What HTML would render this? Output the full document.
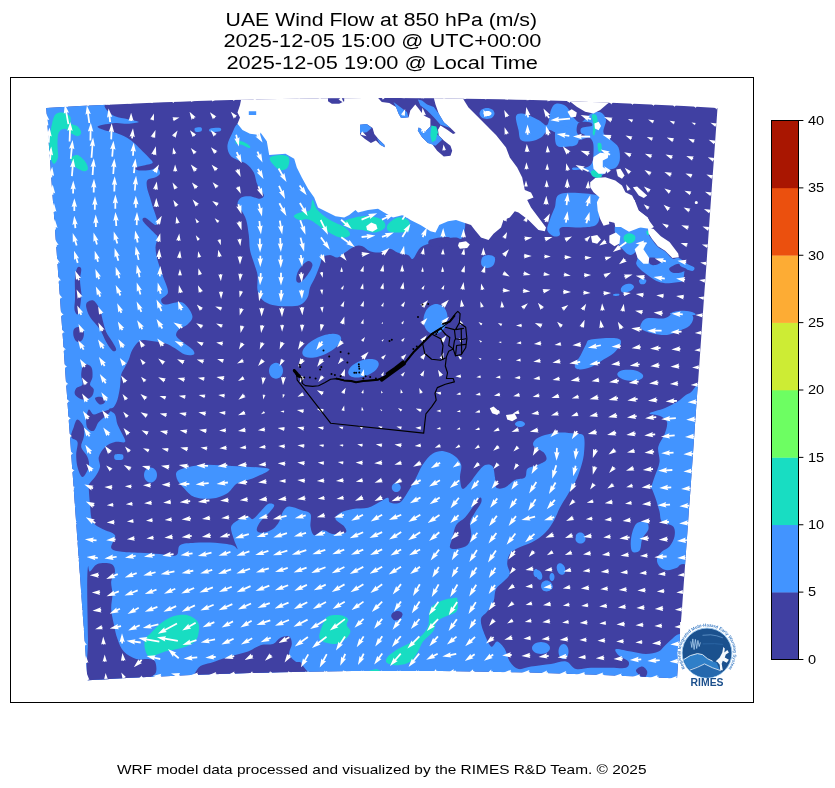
<!DOCTYPE html>
<html><head><meta charset="utf-8"><title>UAE Wind Flow at 850 hPa</title><style>
html,body{margin:0;padding:0;background:#fff;}
#wrap{position:relative;width:835px;height:788px;overflow:hidden;background:#fff;font-family:"Liberation Sans",sans-serif;color:#000;}
svg{position:absolute;left:0;top:0;}
.t{position:absolute;white-space:nowrap;line-height:1;transform-origin:0 0;}
</style></head><body><div id="wrap">
<svg width="835" height="788" viewBox="0 0 835 788">
<defs><clipPath id="dom"><path d="M46.2 108.0L63.0 107.0L79.8 106.1L96.6 105.3L113.4 104.4L130.2 103.7L146.9 103.0L163.7 102.3L180.5 101.7L197.3 101.1L214.1 100.6L230.8 100.1L247.6 99.7L264.4 99.3L281.2 99.0L298.0 98.7L314.8 98.5L331.5 98.3L348.3 98.2L365.1 98.1L381.9 98.1L398.7 98.1L415.4 98.2L432.2 98.3L449.0 98.5L465.8 98.7L482.6 99.0L499.3 99.3L516.1 99.7L532.9 100.1L549.7 100.6L566.5 101.1L583.2 101.7L600.0 102.3L616.8 103.0L633.6 103.7L650.4 104.4L667.2 105.3L683.9 106.1L700.7 107.0L717.5 108.0L716.5 122.3L715.5 136.5L714.5 150.8L713.5 165.1L712.4 179.3L711.4 193.6L710.4 207.8L709.4 222.1L708.4 236.4L707.4 250.6L706.4 264.9L705.4 279.1L704.3 293.4L703.3 307.7L702.3 321.9L701.3 336.2L700.3 350.5L699.3 364.7L698.3 379.0L697.2 393.2L696.2 407.5L695.2 421.8L694.2 436.0L693.2 450.3L692.2 464.6L691.2 478.8L690.2 493.1L689.1 507.3L688.1 521.6L687.1 535.9L686.1 550.1L685.1 564.4L684.1 578.7L683.1 592.9L682.1 607.2L681.0 621.5L680.0 635.7L679.0 650.0L678.0 664.2L677.0 678.5L662.3 677.7L647.5 677.0L632.8 676.3L618.1 675.7L603.3 675.0L588.6 674.5L573.8 674.0L559.1 673.5L544.4 673.0L529.6 672.6L514.9 672.3L500.1 672.0L485.4 671.7L470.7 671.5L455.9 671.3L441.2 671.1L426.5 671.0L411.7 671.0L397.0 671.0L382.2 671.0L367.5 671.0L352.8 671.1L338.0 671.3L323.3 671.5L308.6 671.7L293.8 672.0L279.1 672.3L264.4 672.7L249.6 673.1L234.9 673.5L220.1 674.0L205.4 674.5L190.7 675.1L175.9 675.7L161.2 676.4L146.4 677.1L131.7 677.8L117.0 678.6L102.2 679.4L87.5 680.2L86.5 665.9L85.4 651.6L84.4 637.3L83.4 623.0L82.3 608.7L81.3 594.4L80.3 580.1L79.2 565.8L78.2 551.5L77.2 537.2L76.2 522.9L75.1 508.6L74.1 494.3L73.1 480.0L72.0 465.7L71.0 451.3L70.0 437.0L68.9 422.7L67.9 408.4L66.9 394.1L65.8 379.8L64.8 365.5L63.8 351.2L62.8 336.9L61.7 322.6L60.7 308.3L59.7 294.0L58.6 279.7L57.6 265.4L56.6 251.1L55.5 236.8L54.5 222.4L53.5 208.1L52.4 193.8L51.4 179.5L50.4 165.2L49.3 150.9L48.3 136.6L47.3 122.3Z"/></clipPath></defs>
<g clip-path="url(#dom)">
<rect x="30" y="80" width="700" height="620" fill="#4040a2"/>
<path d="M30.0 80.0C27.7 -20.0 33.6 96.7 46.0 100.0C58.4 103.3 94.8 99.0 104.5 100.0C114.2 101.0 103.9 104.4 104.5 106.2C105.1 108.1 106.2 109.6 108.0 111.2C109.8 112.9 111.7 114.9 115.0 116.2C118.3 117.6 124.0 118.3 128.0 119.2C132.0 120.2 138.8 121.2 138.8 122.0C138.7 122.8 131.5 123.6 127.5 123.8C123.5 123.9 119.9 122.6 115.0 123.0C110.1 123.4 99.9 125.1 98.0 126.2C96.1 127.4 100.9 129.0 103.8 130.0C106.6 131.0 111.0 131.2 115.0 132.5C119.0 133.8 124.2 136.1 127.5 138.0C130.8 139.9 132.5 141.5 135.0 143.8C137.5 146.0 140.1 148.9 142.5 151.2C144.9 153.6 147.6 156.0 149.2 158.0C150.9 160.0 153.6 161.7 152.5 163.0C151.4 164.3 145.4 164.9 142.5 165.8C139.6 166.6 135.6 167.2 135.0 168.0C134.4 168.8 136.2 170.2 138.8 170.5C141.2 170.8 146.9 170.4 150.0 170.0C153.1 169.6 155.8 167.6 157.5 168.2C159.2 168.9 160.4 172.2 160.0 173.8C159.6 175.3 157.1 176.5 155.0 177.5C152.9 178.5 148.8 178.3 147.5 180.0C146.2 181.7 146.6 184.6 147.0 187.5C147.4 190.4 149.0 194.2 150.0 197.5C151.0 200.8 151.8 203.8 153.0 207.5C154.2 211.2 156.6 217.1 157.0 220.0C157.4 222.9 157.3 225.3 155.5 225.0C153.7 224.7 148.4 219.2 146.2 218.2C144.1 217.3 142.7 218.3 142.5 219.2C142.3 220.2 142.9 221.3 145.0 223.8C147.1 226.2 152.9 231.5 155.0 233.8C157.1 236.0 157.4 235.2 157.5 237.5C157.6 239.8 155.5 243.8 155.5 247.5C155.5 251.2 156.3 255.4 157.5 260.0C158.7 264.6 160.8 269.7 162.5 275.0C164.2 280.3 168.2 287.9 168.0 292.0C167.8 296.1 161.8 297.4 161.2 299.5C160.8 301.6 161.9 304.1 165.0 304.5C168.1 304.9 176.2 301.6 180.0 302.0C183.8 302.4 185.4 304.5 187.5 307.0C189.6 309.5 192.5 314.1 192.5 317.0C192.5 319.9 189.8 322.4 187.5 324.5C185.2 326.6 180.6 327.6 178.8 329.5C176.9 331.4 175.6 333.7 176.2 335.8C176.9 337.8 179.8 339.7 182.5 342.0C185.2 344.3 190.6 347.4 192.5 349.5C194.4 351.6 195.0 353.7 193.8 354.5C192.5 355.3 188.1 355.5 185.0 354.5C181.9 353.5 178.3 350.1 175.0 348.2C171.7 346.4 169.2 344.5 165.0 343.2C160.8 342.0 154.2 341.2 150.0 340.8C145.8 340.3 142.9 339.3 140.0 340.8C137.1 342.2 134.4 346.4 132.5 349.5C130.6 352.6 130.0 356.6 128.8 359.5C127.5 362.4 126.2 364.5 125.0 367.0C123.8 369.5 122.1 371.2 121.2 374.5C120.4 377.8 120.6 382.8 120.0 387.0C119.4 391.2 118.5 396.2 117.5 399.5C116.5 402.8 115.2 405.3 113.8 407.0C112.3 408.7 108.5 408.2 108.8 409.5C109.0 410.8 113.5 412.0 115.0 414.5C116.5 417.0 116.2 421.2 117.5 424.5C118.8 427.8 121.2 431.6 122.5 434.5C123.8 437.4 126.2 440.8 125.0 442.0C123.8 443.2 118.3 441.2 115.0 442.0C111.7 442.8 107.7 444.5 105.0 447.0C102.3 449.5 99.6 453.7 98.8 457.0C97.9 460.3 100.6 463.7 100.0 467.0C99.4 470.3 96.9 474.1 95.0 477.0C93.1 479.9 89.8 482.5 88.8 484.5C87.7 486.5 88.5 485.8 88.8 489.0C89.0 492.2 89.4 498.6 90.0 504.0C90.6 509.4 90.4 517.3 92.5 521.5C94.6 525.7 98.8 526.7 102.5 529.0C106.2 531.3 113.5 532.1 115.0 535.2C116.5 538.4 110.4 545.0 111.2 547.8C112.1 550.5 115.2 550.7 120.0 551.5C124.8 552.3 133.3 552.3 140.0 552.8C146.7 553.2 154.0 553.6 160.0 554.0C166.0 554.4 172.9 556.7 176.2 555.2C179.6 553.8 176.9 547.3 180.0 545.2C183.1 543.2 189.2 543.2 195.0 542.8C200.8 542.3 208.8 542.3 215.0 542.8C221.2 543.2 228.8 544.2 232.5 545.2C236.2 546.3 237.3 550.0 237.5 549.0C237.7 548.0 234.8 542.8 233.8 539.0C232.7 535.2 230.2 529.8 231.2 526.5C232.3 523.2 237.2 520.7 240.0 519.0C242.8 517.3 245.8 516.5 248.0 516.5C250.2 516.5 250.9 519.8 253.0 519.0C255.1 518.2 258.0 514.0 260.5 511.5C263.0 509.0 265.7 505.0 268.0 504.0C270.3 503.0 274.0 503.8 274.2 505.2C274.5 506.7 271.5 510.0 269.2 512.8C267.0 515.5 262.6 518.6 260.5 521.5C258.4 524.4 256.3 528.4 256.8 530.2C257.2 532.1 260.3 533.0 263.0 532.8C265.7 532.5 270.3 530.9 273.0 529.0C275.7 527.1 277.6 524.4 279.2 521.5C280.9 518.6 281.3 514.0 283.0 511.5C284.7 509.0 286.1 506.7 289.2 506.5C292.4 506.3 298.2 509.0 301.8 510.2C305.3 511.5 309.0 511.3 310.5 514.0C312.0 516.7 309.9 523.0 310.5 526.5C311.1 530.0 312.2 534.6 314.2 535.2C316.3 535.9 319.9 530.5 323.0 530.2C326.1 530.0 329.2 533.6 333.0 534.0C336.8 534.4 343.6 534.0 345.5 532.8C347.4 531.5 345.9 528.8 344.2 526.5C342.6 524.2 336.1 521.3 335.5 519.0C334.9 516.7 337.6 514.4 340.5 512.8C343.4 511.1 348.4 509.8 353.0 509.0C357.6 508.2 363.4 509.0 368.0 507.8C372.6 506.5 377.2 503.2 380.5 501.5C383.8 499.8 386.4 497.6 388.0 497.8C389.6 497.9 388.0 501.7 390.0 502.5C392.0 503.3 397.1 504.2 400.0 502.5C402.9 500.8 405.0 496.2 407.5 492.5C410.0 488.8 412.5 484.6 415.0 480.0C417.5 475.4 419.6 469.4 422.5 465.0C425.4 460.6 429.0 456.0 432.5 453.8C436.0 451.5 440.0 450.8 443.8 451.2C447.5 451.7 452.1 454.0 455.0 456.2C457.9 458.5 460.4 461.5 461.2 465.0C462.1 468.5 459.8 473.5 460.0 477.5C460.2 481.5 460.8 487.9 462.5 488.8C464.2 489.6 467.5 485.2 470.0 482.5C472.5 479.8 475.0 475.4 477.5 472.5C480.0 469.6 482.5 466.0 485.0 465.0C487.5 464.0 490.8 464.2 492.5 466.2C494.2 468.3 494.4 474.0 495.0 477.5C495.6 481.0 494.6 485.8 496.2 487.5C497.9 489.2 501.9 488.8 505.0 487.5C508.1 486.2 511.7 481.7 515.0 480.0C518.3 478.3 522.9 479.4 525.0 477.5C527.1 475.6 525.4 470.8 527.5 468.8C529.6 466.7 534.4 466.5 537.5 465.0C540.6 463.5 545.2 462.1 546.2 460.0C547.3 457.9 545.8 454.8 543.8 452.5C541.7 450.2 535.2 448.3 533.8 446.2C532.3 444.2 533.1 441.9 535.0 440.0C536.9 438.1 540.8 436.2 545.0 435.0C549.2 433.8 555.0 432.7 560.0 432.5C565.0 432.3 571.0 433.1 575.0 433.8C579.0 434.4 582.3 432.7 583.8 436.2C585.2 439.8 584.4 449.4 583.8 455.0C583.1 460.6 581.5 465.4 580.0 470.0C578.5 474.6 577.1 478.3 575.0 482.5C572.9 486.7 570.0 490.8 567.5 495.0C565.0 499.2 562.1 503.5 560.0 507.5C557.9 511.5 556.7 515.4 554.8 519.0C552.8 522.6 550.8 526.1 548.5 529.0C546.2 531.9 543.9 534.2 541.0 536.5C538.1 538.8 534.8 540.9 531.0 542.8C527.2 544.6 522.0 545.9 518.5 547.8C515.0 549.6 511.6 551.3 509.8 554.0C507.9 556.7 507.2 560.7 507.2 564.0C507.2 567.3 510.4 571.1 509.8 574.0C509.1 576.9 505.8 579.0 503.5 581.5C501.2 584.0 497.7 585.7 496.0 589.0C494.3 592.3 495.0 597.8 493.5 601.5C492.0 605.2 489.3 608.6 487.2 611.5C485.2 614.4 481.6 615.7 481.0 619.0C480.4 622.3 481.8 626.9 483.5 631.5C485.2 636.1 488.7 644.8 491.0 646.5C493.3 648.2 495.0 641.1 497.2 641.5C499.5 641.9 502.7 645.7 504.8 649.0C506.8 652.3 507.5 658.2 509.8 661.5C512.0 664.8 515.0 668.2 518.5 669.0C522.0 669.8 525.6 667.3 531.0 666.5C536.4 665.7 545.2 664.8 551.0 664.0C556.8 663.2 561.8 660.7 566.0 661.5C570.2 662.3 571.8 668.0 576.0 669.0C580.2 670.0 585.2 668.0 591.0 667.8C596.8 667.5 605.2 667.8 611.0 667.8C616.8 667.8 623.1 668.8 626.0 667.8C628.9 666.7 629.8 663.6 628.5 661.5C627.2 659.4 620.6 657.3 618.5 655.2C616.4 653.2 613.9 649.6 616.0 649.0C618.1 648.4 626.0 650.7 631.0 651.5C636.0 652.3 641.4 654.0 646.0 654.0C650.6 654.0 655.5 652.8 658.5 651.5C661.5 650.2 661.8 648.6 664.0 646.5C666.2 644.4 669.4 641.1 672.0 639.0C674.6 636.9 674.8 635.5 679.5 634.0C684.2 632.5 696.6 619.0 700.0 630.0C703.4 641.0 806.7 688.3 700.0 700.0C593.3 711.7 171.7 803.3 60.0 700.0C-51.7 596.7 32.3 180.0 30.0 80.0Z" fill="#4294ff"/>
<path d="M709.5 390.8C706.2 362.5 694.9 391.4 689.5 393.2C684.1 395.1 681.2 399.5 677.0 402.0C672.8 404.5 669.1 406.4 664.5 408.2C659.9 410.1 650.3 412.0 649.5 413.2C648.7 414.5 656.6 414.3 659.5 415.8C662.4 417.2 666.2 418.9 667.0 422.0C667.8 425.1 666.0 430.3 664.5 434.5C663.0 438.7 659.1 442.4 658.2 447.0C657.4 451.6 660.1 457.0 659.5 462.0C658.9 467.0 656.0 472.5 654.5 477.0C653.0 481.5 651.2 487.0 650.8 489.0C650.3 491.0 651.2 487.3 652.0 489.0C652.8 490.7 654.5 495.2 655.8 499.0C657.0 502.8 658.5 507.8 659.5 511.5C660.5 515.2 659.7 519.0 662.0 521.5C664.3 524.0 671.2 524.0 673.2 526.5C675.3 529.0 675.1 533.2 674.5 536.5C673.9 539.8 671.6 544.0 669.5 546.5C667.4 549.0 664.1 549.4 662.0 551.5C659.9 553.6 657.4 556.5 657.0 559.0C656.6 561.5 657.8 564.6 659.5 566.5C661.2 568.4 664.1 570.0 667.0 570.2C669.9 570.5 674.3 568.8 677.0 567.8C679.7 566.7 677.8 564.8 683.2 564.0C688.7 563.2 705.1 591.6 709.5 562.8C713.9 533.9 712.8 419.0 709.5 390.8Z" fill="#4294ff"/>
<path d="M237.5 123.8C234.6 126.2 234.2 129.0 232.5 132.5C230.8 136.0 227.9 141.2 227.5 145.0C227.1 148.8 228.3 152.5 230.0 155.0C231.7 157.5 234.8 158.5 237.5 160.0C240.2 161.5 243.5 161.7 246.2 163.8C249.0 165.8 251.9 169.0 253.8 172.5C255.6 176.0 255.8 181.2 257.5 185.0C259.2 188.8 263.3 192.7 263.8 195.0C264.2 197.3 262.3 198.5 260.0 198.8C257.7 199.0 253.1 196.5 250.0 196.2C246.9 196.0 243.3 196.2 241.2 197.5C239.2 198.8 237.5 201.7 237.5 203.8C237.5 205.8 239.8 207.3 241.2 210.0C242.7 212.7 245.0 215.8 246.2 220.0C247.5 224.2 248.1 230.0 248.8 235.0C249.4 240.0 249.2 245.4 250.0 250.0C250.8 254.6 252.5 258.3 253.8 262.5C255.0 266.7 256.9 270.4 257.5 275.0C258.1 279.6 256.7 285.8 257.5 290.0C258.3 294.2 260.0 297.5 262.5 300.0C265.0 302.5 268.8 304.0 272.5 305.0C276.2 306.0 280.4 306.2 285.0 306.2C289.6 306.2 296.2 306.5 300.0 305.0C303.8 303.5 305.8 300.4 307.5 297.5C309.2 294.6 308.8 290.8 310.0 287.5C311.2 284.2 313.3 281.2 315.0 277.5C316.7 273.8 318.8 268.3 320.0 265.0C321.2 261.7 320.8 259.2 322.5 257.5C324.2 255.8 327.5 255.0 330.0 255.0C332.5 255.0 335.0 257.9 337.5 257.5C340.0 257.1 342.1 254.4 345.0 252.5C347.9 250.6 352.1 247.3 355.0 246.2C357.9 245.2 360.0 245.4 362.5 246.2C365.0 247.1 367.1 250.2 370.0 251.2C372.9 252.3 376.7 252.9 380.0 252.5C383.3 252.1 387.1 248.8 390.0 248.8C392.9 248.8 394.5 251.5 397.5 252.5C400.5 253.5 405.4 254.0 408.0 255.0C410.6 256.0 410.9 260.0 413.0 258.8C415.1 257.5 417.2 250.2 420.5 247.5C423.8 244.8 428.8 244.0 433.0 242.5C437.2 241.0 441.7 239.6 445.5 238.8C449.3 237.9 453.2 237.6 456.0 237.5C458.8 237.4 460.5 240.6 462.0 238.0C463.5 235.4 466.0 226.7 465.0 222.0C464.0 217.3 466.8 215.3 456.0 210.0C445.2 204.7 426.0 201.7 400.0 190.0C374.0 178.3 325.0 152.0 300.0 140.0C275.0 128.0 260.4 120.7 250.0 118.0C239.6 115.3 240.4 121.3 237.5 123.8Z" fill="#4294ff"/>
<path d="M195.0 128.0C196.0 127.3 200.2 127.0 201.2 127.5C202.3 128.0 202.2 130.5 201.2 131.2C200.3 132.0 196.5 132.3 195.5 131.8C194.5 131.2 194.0 128.7 195.0 128.0Z" fill="#4294ff"/>
<path d="M210.0 128.8C211.6 128.1 218.3 127.6 220.0 128.0C221.7 128.4 221.6 130.6 220.0 131.2C218.4 131.9 212.2 132.2 210.5 131.8C208.8 131.3 208.4 129.4 210.0 128.8Z" fill="#4294ff"/>
<path d="M115.0 454.5C116.2 453.7 121.2 453.7 122.5 454.5C123.8 455.3 123.8 458.7 122.5 459.5C121.2 460.3 116.2 460.3 115.0 459.5C113.8 458.7 113.8 455.3 115.0 454.5Z" fill="#4294ff"/>
<path d="M340.8 336.9C341.3 337.9 341.3 339.3 340.8 340.7C340.3 342.1 339.3 343.7 337.9 345.2C336.5 346.8 334.6 348.4 332.5 349.9C330.5 351.3 328.0 352.8 325.6 353.9C323.1 355.0 320.4 356.0 318.0 356.7C315.6 357.3 313.0 357.7 311.0 357.8C308.9 357.9 307.0 357.6 305.6 357.1C304.2 356.5 303.2 355.7 302.7 354.6C302.2 353.6 302.2 352.2 302.7 350.8C303.2 349.4 304.2 347.8 305.6 346.3C307.0 344.7 308.9 343.1 311.0 341.6C313.0 340.2 315.5 338.7 317.9 337.6C320.4 336.5 323.1 335.5 325.5 334.8C327.9 334.2 330.5 333.8 332.5 333.7C334.6 333.6 336.5 333.9 337.9 334.4C339.3 335.0 340.3 335.8 340.8 336.9Z" fill="#4294ff"/>
<path d="M283.0 370.8C283.0 371.8 282.8 372.9 282.5 373.8C282.1 374.8 281.6 375.7 280.9 376.4C280.3 377.1 279.5 377.8 278.7 378.1C277.9 378.5 276.9 378.8 276.0 378.8C275.1 378.8 274.1 378.5 273.3 378.1C272.5 377.8 271.7 377.1 271.1 376.4C270.4 375.7 269.9 374.8 269.5 373.8C269.2 372.9 269.0 371.8 269.0 370.8C269.0 369.7 269.2 368.6 269.5 367.7C269.9 366.7 270.4 365.8 271.1 365.1C271.7 364.4 272.5 363.7 273.3 363.4C274.1 363.0 275.1 362.8 276.0 362.8C276.9 362.8 277.9 363.0 278.7 363.4C279.5 363.7 280.3 364.4 280.9 365.1C281.6 365.8 282.1 366.7 282.5 367.7C282.8 368.6 283.0 369.7 283.0 370.8Z" fill="#4294ff"/>
<path d="M378.5 362.8C378.9 363.7 378.8 364.9 378.4 366.1C378.0 367.2 377.2 368.5 376.1 369.7C375.0 370.9 373.4 372.1 371.8 373.1C370.1 374.1 368.2 375.1 366.2 375.8C364.3 376.5 362.2 377.0 360.3 377.3C358.4 377.6 356.4 377.6 354.8 377.4C353.2 377.3 351.7 376.8 350.7 376.2C349.6 375.6 348.8 374.7 348.5 373.7C348.1 372.8 348.2 371.6 348.6 370.4C349.0 369.3 349.8 368.0 350.9 366.8C352.0 365.6 353.6 364.4 355.2 363.4C356.9 362.4 358.8 361.4 360.8 360.7C362.7 360.0 364.8 359.5 366.7 359.2C368.6 358.9 370.6 358.9 372.2 359.1C373.8 359.2 375.3 359.7 376.3 360.3C377.4 360.9 378.2 361.8 378.5 362.8Z" fill="#4294ff"/>
<path d="M447.3 321.1C447.0 323.0 446.3 324.9 445.4 326.6C444.5 328.2 443.3 329.8 442.0 330.9C440.7 332.1 439.1 333.0 437.6 333.4C436.1 333.9 434.4 334.0 432.9 333.8C431.4 333.5 429.8 332.8 428.6 331.9C427.3 330.9 426.1 329.5 425.3 328.0C424.5 326.5 423.9 324.6 423.6 322.7C423.3 320.9 423.4 318.8 423.7 316.9C424.0 315.0 424.7 313.1 425.6 311.4C426.5 309.8 427.7 308.2 429.0 307.1C430.3 305.9 431.9 305.0 433.4 304.6C434.9 304.1 436.6 304.0 438.1 304.2C439.6 304.5 441.2 305.2 442.4 306.1C443.7 307.1 444.9 308.5 445.7 310.0C446.5 311.5 447.1 313.4 447.4 315.3C447.7 317.1 447.6 319.2 447.3 321.1Z" fill="#4294ff"/>
<path d="M400.8 487.5C400.8 488.1 400.6 488.7 400.4 489.2C400.2 489.8 399.8 490.3 399.4 490.7C399.0 491.1 398.5 491.4 398.0 491.7C397.4 491.9 396.8 492.0 396.2 492.0C395.7 492.0 395.1 491.9 394.5 491.7C394.0 491.4 393.5 491.1 393.1 490.7C392.7 490.3 392.3 489.8 392.1 489.2C391.9 488.7 391.8 488.1 391.8 487.5C391.8 486.9 391.9 486.3 392.1 485.8C392.3 485.2 392.7 484.7 393.1 484.3C393.5 483.9 394.0 483.6 394.5 483.3C395.1 483.1 395.7 483.0 396.2 483.0C396.8 483.0 397.4 483.1 398.0 483.3C398.5 483.6 399.0 483.9 399.4 484.3C399.8 484.7 400.2 485.2 400.4 485.8C400.6 486.3 400.8 486.9 400.8 487.5Z" fill="#4294ff"/>
<path d="M591.0 339.5C596.0 338.5 611.0 337.6 616.0 338.2C621.0 338.9 621.4 340.8 621.0 343.2C620.6 345.8 616.4 350.5 613.5 353.2C610.6 356.0 607.2 357.2 603.5 359.5C599.8 361.8 595.0 365.3 591.0 367.0C587.0 368.7 582.5 369.7 579.8 369.5C577.0 369.3 574.5 368.2 574.8 365.8C575.0 363.2 579.1 358.0 581.0 354.5C582.9 351.0 584.3 347.0 586.0 344.5C587.7 342.0 586.0 340.5 591.0 339.5Z" fill="#4294ff"/>
<path d="M643.2 376.4C643.1 377.1 642.7 377.8 642.0 378.4C641.3 379.0 640.3 379.5 639.1 379.9C637.9 380.3 636.3 380.6 634.8 380.7C633.2 380.9 631.4 380.9 629.8 380.7C628.1 380.6 626.4 380.3 624.9 379.9C623.3 379.5 621.9 378.9 620.8 378.3C619.6 377.7 618.7 377.0 618.1 376.3C617.5 375.6 617.2 374.8 617.3 374.1C617.4 373.4 617.8 372.7 618.5 372.1C619.2 371.5 620.2 371.0 621.4 370.6C622.6 370.2 624.2 369.9 625.7 369.8C627.3 369.6 629.1 369.6 630.7 369.8C632.4 369.9 634.1 370.2 635.6 370.6C637.2 371.0 638.6 371.6 639.7 372.2C640.9 372.8 641.8 373.5 642.4 374.2C643.0 374.9 643.3 375.7 643.2 376.4Z" fill="#4294ff"/>
<path d="M640.8 324.5C641.6 322.6 643.0 319.3 647.0 318.2C651.0 317.2 660.1 319.1 664.5 318.2C668.9 317.4 669.5 314.4 673.2 313.2C677.0 312.1 683.7 310.9 687.0 311.5C690.3 312.1 692.8 314.6 693.2 317.0C693.7 319.4 691.8 323.5 689.5 325.8C687.2 328.0 683.2 329.2 679.5 330.8C675.8 332.3 671.6 334.6 667.0 335.0C662.4 335.4 656.2 334.2 652.0 333.2C647.8 332.3 643.9 331.0 642.0 329.5C640.1 328.0 639.9 326.4 640.8 324.5Z" fill="#4294ff"/>
<path d="M525.0 424.0C525.0 424.4 524.9 424.8 524.6 425.1C524.4 425.5 524.0 425.9 523.5 426.1C523.1 426.4 522.5 426.6 521.9 426.8C521.3 426.9 520.6 427.0 520.0 427.0C519.4 427.0 518.7 426.9 518.1 426.8C517.5 426.6 516.9 426.4 516.5 426.1C516.0 425.9 515.6 425.5 515.4 425.1C515.1 424.8 515.0 424.4 515.0 424.0C515.0 423.6 515.1 423.2 515.4 422.9C515.6 422.5 516.0 422.1 516.5 421.9C516.9 421.6 517.5 421.4 518.1 421.2C518.7 421.1 519.4 421.0 520.0 421.0C520.6 421.0 521.3 421.1 521.9 421.2C522.5 421.4 523.1 421.6 523.5 421.9C524.0 422.1 524.4 422.5 524.6 422.9C524.9 423.2 525.0 423.6 525.0 424.0Z" fill="#4294ff"/>
<path d="M584.8 536.5C584.8 537.0 584.6 537.6 584.4 538.0C584.2 538.5 583.8 539.0 583.4 539.3C583.0 539.7 582.5 540.0 582.0 540.2C581.4 540.4 580.8 540.5 580.2 540.5C579.7 540.5 579.1 540.4 578.5 540.2C578.0 540.0 577.5 539.7 577.1 539.3C576.7 539.0 576.3 538.5 576.1 538.0C575.9 537.6 575.8 537.0 575.8 536.5C575.8 536.0 575.9 535.4 576.1 535.0C576.3 534.5 576.7 534.0 577.1 533.7C577.5 533.3 578.0 533.0 578.5 532.8C579.1 532.6 579.7 532.5 580.2 532.5C580.8 532.5 581.4 532.6 582.0 532.8C582.5 533.0 583.0 533.3 583.4 533.7C583.8 534.0 584.2 534.5 584.4 535.0C584.6 535.4 584.8 536.0 584.8 536.5Z" fill="#4294ff"/>
<path d="M636.0 524.0C638.5 521.1 643.9 520.7 646.0 521.5C648.1 522.3 649.1 526.1 648.5 529.0C647.9 531.9 643.7 535.5 642.2 539.0C640.8 542.5 641.4 548.2 639.8 550.2C638.1 552.3 633.7 553.4 632.2 551.5C630.8 549.6 630.4 543.6 631.0 539.0C631.6 534.4 633.5 526.9 636.0 524.0Z" fill="#4294ff"/>
<path d="M564.8 567.6C565.0 568.4 565.2 569.2 565.3 569.9C565.3 570.6 565.3 571.4 565.1 572.0C565.0 572.7 564.7 573.2 564.3 573.7C564.0 574.1 563.5 574.5 563.1 574.6C562.6 574.8 562.0 574.8 561.5 574.7C560.9 574.6 560.3 574.3 559.8 574.0C559.3 573.6 558.7 573.0 558.3 572.4C557.9 571.8 557.5 571.1 557.2 570.4C557.0 569.6 556.8 568.8 556.7 568.1C556.7 567.4 556.7 566.6 556.9 566.0C557.0 565.3 557.3 564.8 557.7 564.3C558.0 563.9 558.5 563.5 558.9 563.4C559.4 563.2 560.0 563.2 560.5 563.3C561.1 563.4 561.7 563.7 562.2 564.0C562.7 564.4 563.3 565.0 563.7 565.6C564.1 566.2 564.5 566.9 564.8 567.6Z" fill="#4294ff"/>
<path d="M541.8 574.0C542.0 574.6 542.2 575.2 542.3 575.9C542.3 576.5 542.3 577.1 542.2 577.6C542.1 578.1 541.9 578.6 541.7 578.9C541.4 579.3 541.1 579.6 540.7 579.7C540.4 579.8 539.9 579.8 539.5 579.7C539.1 579.6 538.6 579.4 538.2 579.0C537.8 578.7 537.4 578.2 537.0 577.7C536.7 577.2 536.4 576.6 536.2 576.0C536.0 575.4 535.8 574.8 535.7 574.1C535.7 573.5 535.7 572.9 535.8 572.4C535.9 571.9 536.1 571.4 536.3 571.1C536.6 570.7 536.9 570.4 537.3 570.3C537.6 570.2 538.1 570.2 538.5 570.3C538.9 570.4 539.4 570.6 539.8 571.0C540.2 571.3 540.6 571.8 541.0 572.3C541.3 572.8 541.6 573.4 541.8 574.0Z" fill="#4294ff"/>
<path d="M552.3 588.5C552.1 588.9 551.7 589.3 551.2 589.6C550.8 589.9 550.2 590.1 549.6 590.2C549.1 590.3 548.4 590.3 547.8 590.2C547.2 590.0 546.6 589.8 546.0 589.5C545.4 589.1 544.9 588.7 544.5 588.2C544.1 587.8 543.7 587.2 543.5 586.7C543.3 586.1 543.2 585.5 543.2 585.0C543.3 584.5 543.4 583.9 543.7 583.5C543.9 583.1 544.3 582.7 544.8 582.4C545.2 582.1 545.8 581.9 546.4 581.8C546.9 581.7 547.6 581.7 548.2 581.8C548.8 582.0 549.4 582.2 550.0 582.5C550.6 582.9 551.1 583.3 551.5 583.8C551.9 584.2 552.3 584.8 552.5 585.3C552.7 585.9 552.8 586.5 552.8 587.0C552.7 587.5 552.6 588.1 552.3 588.5Z" fill="#4294ff"/>
<path d="M550.0 648.0C550.0 648.8 549.8 649.6 549.3 650.3C548.9 651.0 548.2 651.7 547.4 652.2C546.6 652.8 545.5 653.3 544.4 653.5C543.4 653.8 542.1 654.0 541.0 654.0C539.9 654.0 538.6 653.8 537.6 653.5C536.5 653.3 535.4 652.8 534.6 652.2C533.8 651.7 533.1 651.0 532.7 650.3C532.2 649.6 532.0 648.8 532.0 648.0C532.0 647.2 532.2 646.4 532.7 645.7C533.1 645.0 533.8 644.3 534.6 643.8C535.4 643.2 536.5 642.7 537.6 642.5C538.6 642.2 539.9 642.0 541.0 642.0C542.1 642.0 543.4 642.2 544.4 642.5C545.5 642.7 546.6 643.2 547.4 643.8C548.2 644.3 548.9 645.0 549.3 645.7C549.8 646.4 550.0 647.2 550.0 648.0Z" fill="#4294ff"/>
<path d="M568.5 651.5C568.5 652.5 568.4 653.5 568.1 654.4C567.9 655.3 567.5 656.1 567.0 656.8C566.6 657.5 566.0 658.1 565.4 658.4C564.8 658.8 564.1 659.0 563.5 659.0C562.9 659.0 562.2 658.8 561.6 658.4C561.0 658.1 560.4 657.5 560.0 656.8C559.5 656.1 559.1 655.3 558.9 654.4C558.6 653.5 558.5 652.5 558.5 651.5C558.5 650.5 558.6 649.5 558.9 648.6C559.1 647.7 559.5 646.9 560.0 646.2C560.4 645.5 561.0 644.9 561.6 644.6C562.2 644.2 562.9 644.0 563.5 644.0C564.1 644.0 564.8 644.2 565.4 644.6C566.0 644.9 566.6 645.5 567.0 646.2C567.5 646.9 567.9 647.7 568.1 648.6C568.4 649.5 568.5 650.5 568.5 651.5Z" fill="#4294ff"/>
<path d="M585.5 539.0C585.5 539.6 585.4 540.2 585.1 540.7C584.9 541.3 584.5 541.8 584.0 542.2C583.6 542.6 583.0 542.9 582.4 543.2C581.8 543.4 581.1 543.5 580.5 543.5C579.9 543.5 579.2 543.4 578.6 543.2C578.0 542.9 577.4 542.6 577.0 542.2C576.5 541.8 576.1 541.3 575.9 540.7C575.6 540.2 575.5 539.6 575.5 539.0C575.5 538.4 575.6 537.8 575.9 537.3C576.1 536.7 576.5 536.2 577.0 535.8C577.4 535.4 578.0 535.1 578.6 534.8C579.2 534.6 579.9 534.5 580.5 534.5C581.1 534.5 581.8 534.6 582.4 534.8C583.0 535.1 583.6 535.4 584.0 535.8C584.5 536.2 584.9 536.7 585.1 537.3C585.4 537.8 585.5 538.4 585.5 539.0Z" fill="#4294ff"/>
<path d="M565.0 569.5C565.0 570.1 564.9 570.7 564.7 571.2C564.6 571.8 564.3 572.3 564.0 572.7C563.7 573.1 563.3 573.4 562.8 573.7C562.4 573.9 561.9 574.0 561.5 574.0C561.1 574.0 560.6 573.9 560.2 573.7C559.7 573.4 559.3 573.1 559.0 572.7C558.7 572.3 558.4 571.8 558.3 571.2C558.1 570.7 558.0 570.1 558.0 569.5C558.0 568.9 558.1 568.3 558.3 567.8C558.4 567.2 558.7 566.7 559.0 566.3C559.3 565.9 559.7 565.6 560.2 565.3C560.6 565.1 561.1 565.0 561.5 565.0C561.9 565.0 562.4 565.1 562.8 565.3C563.3 565.6 563.7 565.9 564.0 566.3C564.3 566.7 564.6 567.2 564.7 567.8C564.9 568.3 565.0 568.9 565.0 569.5Z" fill="#4294ff"/>
<path d="M538.5 573.0C538.5 573.5 538.4 574.1 538.3 574.5C538.2 575.0 538.0 575.5 537.8 575.8C537.5 576.2 537.3 576.5 537.0 576.7C536.7 576.9 536.3 577.0 536.0 577.0C535.7 577.0 535.3 576.9 535.0 576.7C534.7 576.5 534.5 576.2 534.2 575.8C534.0 575.5 533.8 575.0 533.7 574.5C533.6 574.1 533.5 573.5 533.5 573.0C533.5 572.5 533.6 571.9 533.7 571.5C533.8 571.0 534.0 570.5 534.2 570.2C534.5 569.8 534.7 569.5 535.0 569.3C535.3 569.1 535.7 569.0 536.0 569.0C536.3 569.0 536.7 569.1 537.0 569.3C537.3 569.5 537.5 569.8 537.8 570.2C538.0 570.5 538.2 571.0 538.3 571.5C538.4 571.9 538.5 572.5 538.5 573.0Z" fill="#4294ff"/>
<path d="M552.0 586.0C552.0 586.7 551.8 587.5 551.6 588.1C551.3 588.8 550.9 589.4 550.4 589.9C549.9 590.4 549.3 590.8 548.6 591.1C548.0 591.3 547.2 591.5 546.5 591.5C545.8 591.5 545.0 591.3 544.4 591.1C543.7 590.8 543.1 590.4 542.6 589.9C542.1 589.4 541.7 588.8 541.4 588.1C541.2 587.5 541.0 586.7 541.0 586.0C541.0 585.3 541.2 584.5 541.4 583.9C541.7 583.2 542.1 582.6 542.6 582.1C543.1 581.6 543.7 581.2 544.4 580.9C545.0 580.7 545.8 580.5 546.5 580.5C547.2 580.5 548.0 580.7 548.6 580.9C549.3 581.2 549.9 581.6 550.4 582.1C550.9 582.6 551.3 583.2 551.6 583.9C551.8 584.5 552.0 585.3 552.0 586.0Z" fill="#4294ff"/>
<path d="M554.5 577.0C554.5 577.5 554.4 578.1 554.3 578.5C554.2 579.0 554.0 579.5 553.8 579.8C553.5 580.2 553.3 580.5 553.0 580.7C552.7 580.9 552.3 581.0 552.0 581.0C551.7 581.0 551.3 580.9 551.0 580.7C550.7 580.5 550.5 580.2 550.2 579.8C550.0 579.5 549.8 579.0 549.7 578.5C549.6 578.1 549.5 577.5 549.5 577.0C549.5 576.5 549.6 575.9 549.7 575.5C549.8 575.0 550.0 574.5 550.2 574.2C550.5 573.8 550.7 573.5 551.0 573.3C551.3 573.1 551.7 573.0 552.0 573.0C552.3 573.0 552.7 573.1 553.0 573.3C553.3 573.5 553.5 573.8 553.8 574.2C554.0 574.5 554.2 575.0 554.3 575.5C554.4 575.9 554.5 576.5 554.5 577.0Z" fill="#4294ff"/>
<path d="M179.0 470.0C183.2 467.8 193.2 465.7 202.0 465.0C210.8 464.3 221.5 465.5 232.0 466.0C242.5 466.5 259.0 467.2 265.0 468.0C271.0 468.8 270.1 469.3 268.0 471.0C265.9 472.7 257.7 476.3 252.5 478.4C247.3 480.5 241.2 480.9 237.0 483.4C232.8 485.9 231.2 491.0 227.0 493.5C222.8 496.0 217.4 498.0 212.0 498.6C206.6 499.2 199.0 498.7 194.4 497.0C189.8 495.3 187.2 491.6 184.3 488.5C181.4 485.4 177.7 481.5 176.8 478.4C175.9 475.3 174.8 472.2 179.0 470.0Z" fill="#4294ff"/>
<path d="M157.0 475.0C157.0 476.0 156.8 477.0 156.5 477.9C156.2 478.8 155.7 479.6 155.1 480.3C154.5 481.0 153.8 481.6 153.0 481.9C152.2 482.3 151.3 482.5 150.5 482.5C149.7 482.5 148.8 482.3 148.0 481.9C147.2 481.6 146.5 481.0 145.9 480.3C145.3 479.6 144.8 478.8 144.5 477.9C144.2 477.0 144.0 476.0 144.0 475.0C144.0 474.0 144.2 473.0 144.5 472.1C144.8 471.2 145.3 470.4 145.9 469.7C146.5 469.0 147.2 468.4 148.0 468.1C148.8 467.7 149.7 467.5 150.5 467.5C151.3 467.5 152.2 467.7 153.0 468.1C153.8 468.4 154.5 469.0 155.1 469.7C155.7 470.4 156.2 471.2 156.5 472.1C156.8 473.0 157.0 474.0 157.0 475.0Z" fill="#4294ff"/>
<path d="M516.0 116.2C516.8 113.5 519.8 113.1 523.5 113.8C527.2 114.4 534.5 118.1 538.5 120.0C542.5 121.9 545.2 126.7 547.2 125.0C549.3 123.3 549.5 113.5 551.0 110.0C552.5 106.5 553.5 104.4 556.0 103.8C558.5 103.1 563.1 104.0 566.0 106.2C568.9 108.5 571.0 114.8 573.5 117.5C576.0 120.2 578.1 123.1 581.0 122.5C583.9 121.9 587.7 115.4 591.0 113.8C594.3 112.1 598.5 111.5 601.0 112.5C603.5 113.5 605.6 116.7 606.0 120.0C606.4 123.3 602.7 129.2 603.5 132.5C604.3 135.8 608.5 137.5 611.0 140.0C613.5 142.5 617.0 144.2 618.5 147.5C620.0 150.8 620.2 156.7 619.8 160.0C619.3 163.3 617.9 165.8 616.0 167.5C614.1 169.2 610.2 169.2 608.5 170.0C606.8 170.8 608.1 171.2 606.0 172.5C603.9 173.8 599.3 177.9 596.0 177.5C592.7 177.1 589.8 171.2 586.0 170.0C582.2 168.8 575.6 170.4 573.5 170.0C571.4 169.6 571.4 167.9 573.5 167.5C575.6 167.1 582.9 168.3 586.0 167.5C589.1 166.7 591.0 165.0 592.2 162.5C593.5 160.0 593.4 155.8 593.5 152.5C593.6 149.2 593.8 145.0 593.0 142.5C592.2 140.0 590.9 137.9 588.5 137.5C586.1 137.1 581.0 140.8 578.5 140.0C576.0 139.2 575.6 134.2 573.5 132.5C571.4 130.8 568.9 130.0 566.0 130.0C563.1 130.0 558.9 132.5 556.0 132.5C553.1 132.5 551.0 129.2 548.5 130.0C546.0 130.8 543.9 135.6 541.0 137.5C538.1 139.4 534.3 140.8 531.0 141.2C527.7 141.7 523.1 141.9 521.0 140.0C518.9 138.1 519.3 134.0 518.5 130.0C517.7 126.0 515.2 119.0 516.0 116.2Z" fill="#4294ff"/>
<path d="M561.0 193.8C567.9 191.7 589.8 193.5 596.0 195.0C602.2 196.5 597.9 199.2 598.5 202.5C599.1 205.8 600.2 211.2 599.8 215.0C599.3 218.8 599.1 222.9 596.0 225.0C592.9 227.1 586.8 227.1 581.0 227.5C575.2 227.9 564.5 226.2 561.0 227.5C557.5 228.8 561.0 233.5 559.8 235.0C558.5 236.5 555.6 237.1 553.5 236.2C551.4 235.4 547.9 232.7 547.2 230.0C546.6 227.3 548.5 223.8 549.8 220.0C551.0 216.2 552.9 211.9 554.8 207.5C556.6 203.1 554.1 195.8 561.0 193.8Z" fill="#4294ff"/>
<path d="M482.2 257.5C483.4 255.8 486.4 255.0 488.5 255.0C490.6 255.0 493.9 255.8 494.8 257.5C495.6 259.2 494.8 263.2 493.5 265.0C492.2 266.8 489.2 268.0 487.2 268.0C485.2 268.0 482.3 266.8 481.5 265.0C480.7 263.2 481.1 259.2 482.2 257.5Z" fill="#4294ff"/>
<path d="M615.9 226.1C617.3 225.9 621.0 227.1 623.2 228.2C625.3 229.3 626.8 232.3 629.0 232.6C631.1 232.8 633.8 230.6 636.2 229.7C638.6 228.7 641.5 227.0 643.4 226.8C645.4 226.5 646.9 227.0 647.8 228.2C648.6 229.4 647.8 232.1 648.5 234.0C649.2 235.9 650.5 237.6 652.1 239.8C653.7 242.0 655.7 245.1 657.9 247.0C660.1 249.0 662.7 249.5 665.1 251.4C667.6 253.3 670.1 257.5 672.4 258.6C674.7 259.7 676.5 257.1 678.9 257.9C681.3 258.7 684.3 262.1 686.9 263.7C689.4 265.3 693.1 266.1 694.1 267.3C695.1 268.5 694.1 270.6 692.6 270.9C691.2 271.3 686.9 268.8 685.4 269.5C684.0 270.2 684.4 273.3 684.0 275.3C683.5 277.2 684.0 279.9 682.5 281.1C681.1 282.3 678.2 282.2 675.3 282.5C672.4 282.9 668.3 283.5 665.1 283.2C662.0 283.0 659.4 282.4 656.5 281.1C653.6 279.7 650.4 277.2 647.8 275.3C645.1 273.3 642.5 271.4 640.5 269.5C638.6 267.6 636.7 265.6 636.2 263.7C635.7 261.8 637.9 260.2 637.6 257.9C637.4 255.6 636.2 252.1 634.7 249.9C633.3 247.8 630.9 246.7 629.0 244.9C627.0 243.1 624.9 241.0 623.2 239.1C621.5 237.2 620.1 235.0 618.8 233.3C617.5 231.6 615.7 230.2 615.2 229.0C614.7 227.7 614.6 226.2 615.9 226.1Z" fill="#4294ff"/>
<path d="M616.0 225.0C618.5 222.7 626.8 223.5 631.0 223.8C635.2 224.0 638.5 224.4 641.0 226.2C643.5 228.1 646.0 231.9 646.0 235.0C646.0 238.1 643.5 241.7 641.0 245.0C638.5 248.3 634.3 254.6 631.0 255.0C627.7 255.4 623.5 250.4 621.0 247.5C618.5 244.6 616.8 241.2 616.0 237.5C615.2 233.8 613.5 227.3 616.0 225.0Z" fill="#4294ff"/>
<path d="M639.1 280.3C639.4 279.4 641.5 278.2 642.7 278.2C643.9 278.2 646.0 279.4 646.3 280.3C646.7 281.3 645.8 283.1 644.9 283.7C643.9 284.3 641.5 284.5 640.5 284.0C639.6 283.4 638.7 281.3 639.1 280.3Z" fill="#4294ff"/>
<path d="M621.0 288.3C621.5 287.1 622.9 285.4 624.6 284.7C626.3 284.0 629.6 283.6 631.1 284.0C632.7 284.3 634.0 285.8 634.0 286.9C634.0 287.9 632.6 289.5 631.1 290.5C629.7 291.4 626.9 292.4 625.3 292.6C623.8 292.9 622.4 292.6 621.7 291.9C621.0 291.2 620.5 289.5 621.0 288.3Z" fill="#4294ff"/>
<path d="M613.8 294.1C614.6 293.8 618.0 293.6 618.8 293.8C619.7 294.0 619.7 295.2 618.8 295.5C618.0 295.9 614.6 296.1 613.8 295.8C612.9 295.6 612.9 294.4 613.8 294.1Z" fill="#4294ff"/>
<path d="M670.9 314.4C667.8 313.8 673.1 312.1 675.3 311.5C677.4 310.9 681.1 310.6 684.0 310.7C686.9 310.9 691.0 311.5 692.6 312.2C694.3 312.9 697.7 314.7 694.1 315.1C690.5 315.4 674.1 315.0 670.9 314.4Z" fill="#4294ff"/>
<path d="M494.5 113.5C494.5 114.2 494.3 115.0 493.9 115.6C493.6 116.3 493.0 116.9 492.3 117.4C491.6 117.9 490.8 118.3 489.9 118.6C489.0 118.8 488.0 119.0 487.0 119.0C486.0 119.0 485.0 118.8 484.1 118.6C483.2 118.3 482.4 117.9 481.7 117.4C481.0 116.9 480.4 116.3 480.1 115.6C479.7 115.0 479.5 114.2 479.5 113.5C479.5 112.8 479.7 112.0 480.1 111.4C480.4 110.7 481.0 110.1 481.7 109.6C482.4 109.1 483.2 108.7 484.1 108.4C485.0 108.2 486.0 108.0 487.0 108.0C488.0 108.0 489.0 108.2 489.9 108.4C490.8 108.7 491.6 109.1 492.3 109.6C493.0 110.1 493.6 110.7 493.9 111.4C494.3 112.0 494.5 112.8 494.5 113.5Z" fill="#4294ff"/>
<path d="M556.6 126.9C558.9 123.9 566.7 127.0 570.1 127.7C573.4 128.4 575.3 129.2 576.8 131.0C578.2 132.9 578.8 136.4 578.8 138.6C578.8 140.8 578.2 143.2 576.8 144.5C575.3 145.7 573.4 146.2 570.1 146.3C566.7 146.4 558.9 148.5 556.6 145.3C554.4 142.1 554.4 129.8 556.6 126.9Z" fill="#4294ff"/>
<path d="M87.5 302.0C88.8 301.0 91.7 299.5 93.8 300.8C95.8 302.0 98.5 306.4 100.0 309.5C101.5 312.6 101.5 315.8 102.5 319.5C103.5 323.2 104.6 328.2 106.2 332.0C107.9 335.8 110.8 339.1 112.5 342.0C114.2 344.9 116.2 348.0 116.2 349.5C116.2 351.0 114.2 352.0 112.5 350.8C110.8 349.5 108.3 345.5 106.2 342.0C104.2 338.5 102.7 333.7 100.0 329.5C97.3 325.3 92.3 320.8 90.0 317.0C87.7 313.2 86.7 309.5 86.2 307.0C85.8 304.5 86.2 303.0 87.5 302.0Z" fill="#4040a2"/>
<path d="M73.8 329.5C74.6 327.8 77.1 326.6 78.8 327.0C80.4 327.4 83.1 329.9 83.8 332.0C84.4 334.1 83.5 337.8 82.5 339.5C81.5 341.2 79.0 342.4 77.5 342.0C76.0 341.6 74.4 339.1 73.8 337.0C73.1 334.9 72.9 331.2 73.8 329.5Z" fill="#4040a2"/>
<path d="M83.8 364.5C85.4 363.2 89.8 364.9 91.2 367.0C92.7 369.1 92.7 374.1 92.5 377.0C92.3 379.9 89.8 382.4 90.0 384.5C90.2 386.6 93.5 387.4 93.8 389.5C94.0 391.6 93.1 395.3 91.2 397.0C89.4 398.7 85.2 399.9 82.5 399.5C79.8 399.1 76.0 396.4 75.0 394.5C74.0 392.6 75.0 389.9 76.2 388.2C77.5 386.6 81.7 386.8 82.5 384.5C83.3 382.2 81.0 377.8 81.2 374.5C81.5 371.2 82.1 365.8 83.8 364.5Z" fill="#4040a2"/>
<path d="M95.0 398.2C95.2 397.0 99.6 396.4 101.2 397.0C102.9 397.6 105.2 400.8 105.0 402.0C104.8 403.2 101.7 405.1 100.0 404.5C98.3 403.9 94.8 399.5 95.0 398.2Z" fill="#4040a2"/>
<path d="M88.8 409.5C90.0 408.7 91.7 414.1 93.8 414.5C95.8 414.9 98.3 412.8 101.2 412.0C104.2 411.2 110.2 409.1 111.2 409.5C112.3 409.9 109.6 412.4 107.5 414.5C105.4 416.6 101.0 419.3 98.8 422.0C96.5 424.7 95.6 429.7 93.8 430.8C91.9 431.8 88.8 430.1 87.5 428.2C86.2 426.4 86.0 422.6 86.2 419.5C86.5 416.4 87.5 410.3 88.8 409.5Z" fill="#4040a2"/>
<path d="M77.5 419.5C79.2 419.5 82.7 424.1 83.8 427.0C84.8 429.9 84.2 433.7 83.8 437.0C83.3 440.3 80.6 443.7 81.2 447.0C81.9 450.3 86.2 453.7 87.5 457.0C88.8 460.3 89.6 463.7 88.8 467.0C87.9 470.3 84.4 477.0 82.5 477.0C80.6 477.0 78.5 470.8 77.5 467.0C76.5 463.2 76.2 458.7 76.2 454.5C76.2 450.3 78.3 444.9 77.5 442.0C76.7 439.1 71.9 439.5 71.2 437.0C70.6 434.5 72.7 429.9 73.8 427.0C74.8 424.1 75.8 419.5 77.5 419.5Z" fill="#4040a2"/>
<path d="M77.5 267.5C78.5 266.0 80.8 266.7 81.2 268.8C81.7 270.8 80.0 276.1 80.0 280.0C80.0 283.9 81.0 289.2 81.2 292.0C81.5 294.8 81.5 294.5 81.2 297.0C81.0 299.5 80.6 304.1 80.0 307.0C79.4 309.9 78.4 314.1 77.5 314.5C76.6 314.9 74.9 312.0 74.5 309.5C74.1 307.0 74.9 302.4 75.0 299.5C75.1 296.6 75.0 295.7 75.0 292.0C75.0 288.3 74.6 281.6 75.0 277.5C75.4 273.4 76.5 269.0 77.5 267.5Z" fill="#4040a2"/>
<path d="M88.0 566.5C88.5 563.6 88.4 571.9 90.0 571.5C91.6 571.1 94.0 565.2 97.5 564.0C101.0 562.8 108.3 562.8 111.2 564.0C114.2 565.2 115.0 568.6 115.0 571.5C115.0 574.4 111.7 577.8 111.2 581.5C110.8 585.2 112.5 589.4 112.5 594.0C112.5 598.6 111.0 604.0 111.2 609.0C111.5 614.0 112.7 619.0 113.8 624.0C114.8 629.0 115.8 634.4 117.5 639.0C119.2 643.6 120.6 648.2 123.8 651.5C126.9 654.8 132.3 657.8 136.2 659.0C140.2 660.2 144.4 658.6 147.5 659.0C150.6 659.4 153.8 659.0 155.0 661.5C156.2 664.0 157.5 670.9 155.0 674.0C152.5 677.1 146.7 679.0 140.0 680.2C133.3 681.5 123.5 681.1 115.0 681.5C106.5 681.9 93.2 689.8 88.8 682.8C84.2 675.7 88.2 654.6 88.0 639.0C87.8 623.4 87.2 601.1 87.2 589.0C87.2 576.9 87.5 569.4 88.0 566.5Z" fill="#4040a2"/>
<path d="M197.5 669.0C200.0 664.2 209.6 663.6 215.0 661.5C220.4 659.4 224.5 658.2 230.0 656.5C235.5 654.8 242.9 653.4 248.0 651.5C253.1 649.6 256.3 646.5 260.5 645.2C264.7 644.0 269.7 645.2 273.0 644.0C276.3 642.8 277.8 639.0 280.5 637.8C283.2 636.5 287.4 635.5 289.2 636.5C291.1 637.5 291.8 641.1 291.8 644.0C291.8 646.9 288.6 651.1 289.2 654.0C289.9 656.9 293.4 659.8 295.5 661.5C297.6 663.2 300.5 660.1 301.8 664.0C303.0 667.9 320.0 680.7 303.0 685.0C286.0 689.3 217.6 692.7 200.0 690.0C182.4 687.3 195.0 673.8 197.5 669.0Z" fill="#4040a2"/>
<path d="M391.8 614.0C392.6 612.9 395.1 611.2 396.8 611.0C398.4 610.8 401.0 611.6 401.8 612.8C402.5 613.9 402.0 616.5 401.0 617.8C400.0 619.0 397.0 620.2 395.5 620.2C394.0 620.2 392.4 618.8 391.8 617.8C391.1 616.7 390.9 615.1 391.8 614.0Z" fill="#4040a2"/>
<path d="M480.0 497.5C481.5 496.7 482.1 500.0 481.2 502.5C480.4 505.0 476.9 509.2 475.0 512.5C473.1 515.8 470.6 518.8 470.0 522.5C469.4 526.2 471.7 531.2 471.2 535.0C470.8 538.8 469.8 542.7 467.5 545.0C465.2 547.3 460.4 548.3 457.5 548.8C454.6 549.2 450.8 549.4 450.0 547.5C449.2 545.6 451.5 541.2 452.5 537.5C453.5 533.8 454.2 528.3 456.2 525.0C458.3 521.7 462.3 520.4 465.0 517.5C467.7 514.6 470.0 510.8 472.5 507.5C475.0 504.2 478.5 498.3 480.0 497.5Z" fill="#4040a2"/>
<path d="M392.5 613.8C393.1 612.3 395.8 611.2 397.5 611.2C399.2 611.2 402.1 612.5 402.5 613.8C402.9 615.0 401.5 617.7 400.0 618.8C398.5 619.8 395.0 620.8 393.8 620.0C392.5 619.2 391.9 615.2 392.5 613.8Z" fill="#4040a2"/>
<path d="M636.0 670.2C636.4 668.8 640.4 666.3 642.2 666.5C644.1 666.7 646.8 669.6 647.2 671.5C647.7 673.4 646.0 677.1 644.8 677.8C643.5 678.4 641.2 676.5 639.8 675.2C638.3 674.0 635.6 671.7 636.0 670.2Z" fill="#4040a2"/>
<path d="M307.5 261.2C309.8 260.4 312.5 262.7 312.5 265.0C312.5 267.3 309.6 272.1 307.5 275.0C305.4 277.9 301.9 281.7 300.0 282.5C298.1 283.3 296.5 282.1 296.2 280.0C296.0 277.9 296.9 273.1 298.8 270.0C300.6 266.9 305.2 262.1 307.5 261.2Z" fill="#4040a2"/>
<path d="M430.5 239.5C433.6 238.2 444.6 236.5 448.0 237.0C451.4 237.5 452.7 240.9 451.0 242.5C449.3 244.1 441.6 246.1 438.0 246.5C434.4 246.9 430.5 246.2 429.2 245.0C428.0 243.8 427.4 240.8 430.5 239.5Z" fill="#4040a2"/>
<path d="M649.2 257.9C650.5 257.1 656.0 257.9 657.9 258.6C659.8 259.4 661.3 261.2 660.8 262.2C660.3 263.3 656.8 264.9 655.0 265.1C653.2 265.4 650.9 264.9 649.9 263.7C649.0 262.5 647.9 258.7 649.2 257.9Z" fill="#4040a2"/>
<path d="M669.5 268.0C670.7 266.7 676.2 263.9 678.2 263.7C680.1 263.5 679.6 265.6 681.1 266.6C682.5 267.6 686.9 268.5 686.9 269.5C686.9 270.4 683.0 271.8 681.1 272.4C679.1 273.0 677.0 273.2 675.3 273.1C673.6 273.0 671.9 272.5 670.9 271.7C670.0 270.8 668.3 269.4 669.5 268.0Z" fill="#4040a2"/>
<path d="M577.6 124.3C578.4 122.7 579.6 122.1 581.8 121.8C584.0 121.5 589.3 122.0 591.0 122.7C592.7 123.4 592.8 125.3 591.9 126.0C590.9 126.7 587.0 126.4 585.2 126.9C583.3 127.3 581.7 127.6 581.0 128.5C580.3 129.5 580.3 131.6 581.0 132.7C581.7 133.8 585.3 134.7 585.2 135.2C585.0 135.8 581.5 136.6 580.1 136.1C578.7 135.5 577.2 133.8 576.8 131.9C576.3 129.9 576.8 126.0 577.6 124.3Z" fill="#4040a2"/>
<path d="M55.0 115.0C56.9 112.5 60.0 112.3 62.5 112.5C65.0 112.7 68.5 114.4 70.0 116.2C71.5 118.1 70.0 122.1 71.2 123.8C72.5 125.4 75.8 124.8 77.5 126.2C79.2 127.7 81.2 130.8 81.2 132.5C81.2 134.2 79.4 136.2 77.5 136.2C75.6 136.2 72.1 133.8 70.0 132.5C67.9 131.2 66.9 128.8 65.0 128.8C63.1 128.8 60.0 129.8 58.8 132.5C57.5 135.2 57.6 140.8 57.5 145.0C57.4 149.2 58.6 154.4 58.0 157.5C57.4 160.6 55.1 164.2 53.8 163.8C52.4 163.3 50.7 159.0 50.0 155.0C49.3 151.0 49.3 144.6 49.5 140.0C49.7 135.4 50.3 131.7 51.2 127.5C52.2 123.3 53.1 117.5 55.0 115.0Z" fill="#18ddc2"/>
<path d="M71.2 157.5C72.2 156.2 75.2 154.4 77.5 155.0C79.8 155.6 83.2 159.0 85.0 161.2C86.8 163.5 88.2 167.1 88.0 168.8C87.8 170.4 85.7 171.5 83.8 171.2C81.8 171.0 78.2 169.0 76.2 167.5C74.3 166.0 72.8 164.2 72.0 162.5C71.2 160.8 70.3 158.8 71.2 157.5Z" fill="#18ddc2"/>
<path d="M150.0 634.0C152.5 631.5 156.2 626.9 160.0 624.0C163.8 621.1 167.9 618.0 172.5 616.5C177.1 615.0 183.3 614.4 187.5 615.2C191.7 616.1 195.6 618.8 197.5 621.5C199.4 624.2 199.2 628.2 198.8 631.5C198.3 634.8 197.7 638.8 195.0 641.5C192.3 644.2 187.5 646.1 182.5 647.8C177.5 649.4 170.4 650.0 165.0 651.5C159.6 653.0 153.3 656.9 150.0 656.5C146.7 656.1 145.8 651.9 145.0 649.0C144.2 646.1 144.2 641.5 145.0 639.0C145.8 636.5 147.5 636.5 150.0 634.0Z" fill="#18ddc2"/>
<path d="M323.0 624.0C324.5 620.7 325.1 618.0 328.0 616.5C330.9 615.0 337.2 614.8 340.5 615.2C343.8 615.7 347.0 617.3 348.0 619.0C349.0 620.7 346.3 623.2 346.8 625.2C347.2 627.3 350.7 629.2 350.5 631.5C350.3 633.8 348.0 636.9 345.5 639.0C343.0 641.1 339.2 643.6 335.5 644.0C331.8 644.4 325.7 642.8 323.0 641.5C320.3 640.2 319.2 639.4 319.2 636.5C319.2 633.6 321.5 627.3 323.0 624.0Z" fill="#18ddc2"/>
<path d="M431.8 606.5C434.0 604.2 439.0 601.7 443.0 600.2C447.0 598.8 453.6 598.0 456.0 597.8C458.4 597.5 456.9 597.9 457.2 599.0C457.6 600.1 458.2 602.3 458.0 604.5C457.8 606.7 458.1 610.0 456.0 612.0C453.9 614.0 448.7 614.9 445.5 616.5C442.3 618.1 438.8 619.0 436.8 621.5C434.7 624.0 435.3 628.2 433.0 631.5C430.7 634.8 425.5 638.2 423.0 641.5C420.5 644.8 420.1 648.2 418.0 651.5C415.9 654.8 413.8 659.2 410.5 661.5C407.2 663.8 402.0 665.0 398.0 665.2C394.0 665.5 388.4 664.2 386.8 662.8C385.1 661.3 386.1 658.8 388.0 656.5C389.9 654.2 394.7 651.1 398.0 649.0C401.3 646.9 404.2 646.1 408.0 644.0C411.8 641.9 417.2 639.4 420.5 636.5C423.8 633.6 426.5 630.2 428.0 626.5C429.5 622.8 428.6 617.3 429.2 614.0C429.9 610.7 429.5 608.8 431.8 606.5Z" fill="#18ddc2"/>
<path d="M370.0 670.5C371.7 669.8 376.2 668.9 378.0 669.5C379.8 670.1 382.2 673.2 380.5 674.0C378.8 674.8 369.8 674.6 368.0 674.0C366.2 673.4 368.3 671.2 370.0 670.5Z" fill="#18ddc2"/>
<path d="M270.0 157.5C271.2 156.0 276.9 155.0 280.0 155.0C283.1 155.0 287.5 155.4 288.8 157.5C290.0 159.6 289.0 165.4 287.5 167.5C286.0 169.6 282.5 170.6 280.0 170.0C277.5 169.4 274.2 165.8 272.5 163.8C270.8 161.7 268.8 159.0 270.0 157.5Z" fill="#18ddc2"/>
<path d="M312.5 200.0C313.8 200.0 314.6 206.7 317.5 210.0C320.4 213.3 325.4 217.1 330.0 220.0C334.6 222.9 341.7 225.0 345.0 227.5C348.3 230.0 350.8 233.3 350.0 235.0C349.2 236.7 344.2 238.3 340.0 237.5C335.8 236.7 330.0 232.9 325.0 230.0C320.0 227.1 314.2 221.7 310.0 220.0C305.8 218.3 302.7 220.6 300.0 220.0C297.3 219.4 293.8 217.5 293.8 216.2C293.8 215.0 297.3 213.5 300.0 212.5C302.7 211.5 307.9 212.1 310.0 210.0C312.1 207.9 311.2 200.0 312.5 200.0Z" fill="#18ddc2"/>
<path d="M342.5 222.5C343.3 220.6 350.4 218.5 355.0 217.5C359.6 216.5 365.4 215.8 370.0 216.2C374.6 216.7 380.0 218.1 382.5 220.0C385.0 221.9 386.2 225.4 385.0 227.5C383.8 229.6 378.8 232.1 375.0 232.5C371.2 232.9 366.7 230.6 362.5 230.0C358.3 229.4 353.3 230.0 350.0 228.8C346.7 227.5 341.7 224.4 342.5 222.5Z" fill="#18ddc2"/>
<path d="M387.5 225.0C389.0 222.7 394.1 218.3 397.5 217.5C400.9 216.7 405.9 218.3 408.0 220.0C410.1 221.7 410.0 225.6 410.0 227.5C410.0 229.4 410.1 230.4 408.0 231.2C405.9 232.1 400.7 232.5 397.5 232.5C394.3 232.5 390.4 232.5 388.8 231.2C387.1 230.0 386.0 227.3 387.5 225.0Z" fill="#18ddc2"/>
<path d="M41.2 132.5C41.7 131.8 44.0 131.6 45.0 132.0C46.0 132.4 47.9 134.3 47.5 135.0C47.1 135.7 43.5 136.7 42.5 136.2C41.5 135.8 40.8 133.2 41.2 132.5Z" fill="#18ddc2"/>
<path d="M623.9 236.2C624.6 234.9 627.1 233.4 629.0 233.3C630.8 233.2 633.8 234.3 634.7 235.5C635.7 236.7 635.6 239.2 634.7 240.5C633.9 241.9 631.4 243.3 629.7 243.4C628.0 243.5 625.6 242.5 624.6 241.3C623.6 240.1 623.2 237.5 623.9 236.2Z" fill="#18ddc2"/>
<path d="M646.6 231.1C646.9 230.6 648.3 230.5 648.6 231.1C649.0 231.7 649.2 234.2 648.9 234.7C648.6 235.3 647.3 235.1 646.9 234.5C646.5 233.8 646.3 231.7 646.6 231.1Z" fill="#18ddc2"/>
<path d="M591.9 115.1C592.4 114.2 595.1 113.7 596.0 114.8C597.0 115.9 597.7 119.5 597.7 121.8C597.7 124.1 596.6 126.3 596.0 128.5C595.5 130.8 594.9 134.4 594.4 135.2C593.8 136.1 592.8 135.2 592.7 133.6C592.6 131.9 593.5 127.4 593.5 125.2C593.5 122.9 593.0 121.8 592.7 120.2C592.4 118.5 591.3 116.0 591.9 115.1Z" fill="#18ddc2"/>
<path d="M597.7 143.6C598.1 142.4 600.4 142.5 601.1 143.6C601.7 144.7 602.0 149.1 601.6 150.3C601.2 151.6 599.2 152.3 598.6 151.2C597.9 150.1 597.3 144.9 597.7 143.6Z" fill="#18ddc2"/>
<path d="M591.0 171.3C591.6 170.3 594.2 169.8 596.0 170.5C597.9 171.2 601.5 174.2 601.9 175.5C602.3 176.7 600.1 177.9 598.6 178.0C597.0 178.1 594.0 177.4 592.7 176.3C591.4 175.2 590.5 172.3 591.0 171.3Z" fill="#18ddc2"/>
<path d="M236.2 140.5C237.5 140.2 241.5 141.0 243.8 142.0C246.0 143.0 249.2 145.2 250.0 146.2C250.8 147.2 250.0 148.2 248.8 148.0C247.5 147.8 244.6 145.7 242.5 145.0C240.4 144.3 237.3 144.5 236.2 143.8C235.2 143.0 235.0 140.8 236.2 140.5Z" fill="#18ddc2"/>
<path d="M241.0 95.0L463.5 95.0L463.5 99.5L468.5 107.5L479.8 118.8L488.5 127.5L496.0 135.0L506.0 147.5L509.8 157.5L517.2 167.5L522.2 177.5L524.8 190.0L531.0 192.5L533.5 197.5L527.2 200.0L531.0 207.5L538.5 217.5L546.0 227.5L544.8 231.2L538.5 230.0L528.5 220.0L518.5 212.5L514.8 211.2L509.8 217.5L503.5 220.0L501.0 227.5L493.5 233.8L488.5 240.0L481.0 237.5L474.8 230.0L471.0 225.0L463.5 222.5L456.0 220.0L448.0 221.2L439.2 225.0L435.5 232.5L430.5 231.2L420.5 225.0L410.5 220.0L403.0 215.0L393.0 217.5L384.2 212.5L378.0 208.8L368.0 210.0L358.0 212.5L355.5 210.0L349.2 215.0L344.2 217.5L335.5 216.2L328.0 212.5L318.0 207.5L314.2 197.5L308.0 188.8L301.8 177.5L296.8 167.5L294.2 158.8L285.5 153.8L275.5 154.5L269.2 155.0L266.8 141.2L260.5 132.5L260.0 135.0L250.0 133.8L242.5 130.0L237.5 123.8L240.0 117.5L237.5 112.5L240.0 105.0L241.0 100.0Z" fill="#ffffff"/>
<path d="M459.0 242.5L466.0 241.2L469.8 244.5L467.2 248.0L459.8 248.8L458.0 245.8Z" fill="#ffffff"/>
<path d="M489.8 408.2L493.5 406.5L499.8 412.0L497.2 415.0L492.2 413.2Z" fill="#ffffff"/>
<path d="M506.0 415.0L514.8 413.8L517.2 418.2L512.2 421.2L507.2 419.5Z" fill="#ffffff"/>
<path d="M366.2 226.2L371.2 222.5L376.2 224.5L377.5 228.8L372.5 231.8L367.0 230.0Z" fill="#ffffff"/>
<path d="M570.1 95.0L570.1 101.4L576.8 106.7L585.2 111.8L593.5 113.4L600.2 110.1L606.9 104.2L608.6 103.0L610.3 95.0Z" fill="#ffffff"/>
<path d="M567.5 111.8L571.7 109.3L576.8 112.6L575.9 116.8L570.9 117.6Z" fill="#ffffff"/>
<path d="M594.4 123.5L598.6 121.8L601.1 126.0L598.6 130.2L594.9 128.5Z" fill="#ffffff"/>
<path d="M593.5 157.0L600.2 152.8L608.6 153.7L607.8 157.9L602.8 160.4L602.8 167.1L606.9 169.6L605.3 173.8L598.6 173.8L593.5 168.8L592.7 162.1Z" fill="#ffffff"/>
<path d="M616.2 169.6L620.4 168.8L624.6 175.5L622.0 178.8L617.8 176.3Z" fill="#ffffff"/>
<path d="M590.2 182.2L595.2 178.0L605.3 177.2L615.3 180.5L622.0 185.5L625.4 192.3L632.1 195.6L635.5 202.3L638.8 210.7L647.2 217.4L650.5 222.4L653.9 227.0L650.5 229.1L640.5 227.5L630.4 227.0L615.3 227.0L613.7 219.1L610.3 212.4L606.1 210.7L608.6 205.7L603.6 202.3L601.9 209.0L606.9 217.4L609.5 224.1L603.6 225.8L600.2 219.1L597.7 210.7L596.9 202.3L599.4 197.3L593.5 192.3L590.2 187.2Z" fill="#ffffff"/>
<path d="M632.9 187.2L637.1 186.4L647.2 195.6L643.8 198.1L638.8 195.6Z" fill="#ffffff"/>
<path d="M600.0 200.0L634.7 200.0L636.2 208.7L647.8 217.4L649.2 221.0L643.4 226.1L636.2 229.0L629.0 231.8L621.7 227.5L615.9 223.2L610.1 221.7L605.8 221.7L600.0 217.4Z" fill="#ffffff"/>
<path d="M609.4 235.5L615.9 232.6L620.3 236.2L619.5 243.4L614.5 246.3L609.4 242.7Z" fill="#ffffff"/>
<path d="M647.8 227.5L653.6 229.0L660.8 236.2L669.5 242.0L678.2 253.6L678.9 257.2L672.4 257.9L665.1 250.7L657.9 246.3L652.1 239.1L648.5 233.3Z" fill="#ffffff"/>
<path d="M634.7 249.2L642.0 242.0L646.3 243.4L643.4 249.2L649.2 257.9L648.5 263.7L643.4 263.7L637.6 257.9Z" fill="#ffffff"/>
<path d="M591.0 236.2L597.2 235.0L601.0 239.5L597.2 243.8L592.2 242.5Z" fill="#ffffff"/>
<path d="M697.8 202.6L697.7 203.2L697.4 203.7L696.9 204.0L696.3 204.1L695.7 204.0L695.2 203.7L694.9 203.2L694.8 202.6L694.9 202.0L695.2 201.5L695.7 201.2L696.3 201.1L696.9 201.2L697.4 201.5L697.7 202.0Z" fill="#ffffff"/>
<path d="M491.5 113.5L491.2 114.5L490.3 115.3L489.0 115.9L487.5 116.1L486.0 115.9L484.7 115.3L483.8 114.5L483.5 113.5L483.8 112.5L484.7 111.7L486.0 111.1L487.5 110.9L489.0 111.1L490.3 111.7L491.2 112.5Z" fill="#ffffff"/>
<path d="M328.0 97.0L344.2 97.0L344.2 101.2L339.2 103.8L331.8 103.8L328.0 101.2Z" fill="#4040a2"/>
<path d="M378.1 98.0L433.8 98.0L435.5 104.6L438.8 113.8L443.8 122.2L450.5 128.0L455.6 133.1L453.1 133.9L447.2 129.7L440.5 125.5L438.0 129.7L438.8 135.6L443.8 140.6L450.5 145.7L452.2 150.7L450.5 155.7L443.8 156.6L437.1 150.7L432.1 144.0L427.9 143.1L422.0 137.3L417.8 130.6L418.7 127.5L425.4 131.4L430.4 126.4L430.4 118.8L423.7 115.5L418.7 108.8L415.3 104.6L410.3 110.4L408.6 117.2L401.1 118.0L398.6 113.8L396.0 107.1L389.3 102.9L381.8 102.1Z" fill="#4040a2"/>
<path d="M393.5 102.1L400.2 107.1L406.9 112.1L408.6 117.2L401.1 118.0L398.6 113.8L396.0 107.1Z" fill="#4294ff"/>
<path d="M417.8 99.5L420.4 105.4L427.1 110.4L433.8 117.2L440.5 124.7L450.5 128.0L443.8 122.2L438.8 113.8L433.8 107.1L427.1 104.6L422.0 100.4Z" fill="#4294ff"/>
<path d="M418.7 127.5L425.4 131.4L430.4 126.4L434.6 133.9L438.8 135.6L442.2 139.8L435.5 145.7L427.9 143.1L422.0 137.3L417.8 130.6Z" fill="#4294ff"/>
<path d="M431.3 125.5L436.3 126.4L438.0 132.2L435.5 140.6L432.1 142.3L430.4 135.6Z" fill="#18ddc2"/>
<path d="M360.0 124.7L366.7 123.9L372.6 128.0L374.3 133.9L378.4 138.9L384.3 144.8L384.8 147.3L380.1 144.8L375.9 140.6L370.9 143.1L365.0 138.9L360.0 134.8Z" fill="#4040a2"/>
<path d="M360.0 124.7L366.7 123.9L371.7 128.0L366.7 132.2L360.0 133.1Z" fill="#4294ff"/>
<path d="M376.8 138.1L384.3 144.8L384.8 147.3L380.1 144.8Z" fill="#4294ff"/>
<path d="M248.8 111.2L256.2 111.2L256.2 115.0L248.8 115.0Z" fill="#4294ff"/>
</g>
<path fill="#fff" d="M47.0 107.8L46.9 107.1L48.6 107.5L44.7 100.3L43.9 108.5L45.3 107.4L45.5 108.2ZM68.1 106.6L67.3 102.8L69.3 103.4L64.9 95.2L64.0 104.4L65.6 103.2L66.4 107.0ZM89.1 105.5L88.7 103.1L90.6 103.7L86.7 95.3L85.3 104.5L87.0 103.3L87.3 105.8ZM110.1 104.5L109.9 103.6L111.8 104.2L107.9 95.7L106.5 104.9L108.2 103.8L108.3 104.8ZM130.9 103.7L130.9 103.0L132.3 103.7L130.2 96.6L128.0 103.7L129.5 103.0L129.5 103.7ZM151.7 102.9L151.8 102.3L152.9 103.2L152.4 96.9L149.4 102.4L150.7 102.1L150.5 102.7ZM172.5 102.4L172.9 101.9L173.4 103.2L176.2 97.7L170.8 100.8L172.1 101.1L171.7 101.6ZM193.7 100.9L193.4 100.3L194.9 100.3L189.9 95.0L191.2 102.2L192.1 100.9L192.5 101.6ZM214.5 100.2L214.2 99.7L215.5 99.4L210.1 95.7L212.6 101.8L213.2 100.5L213.6 101.0ZM235.5 99.6L235.1 99.1L236.4 98.8L231.1 95.4L233.7 101.2L234.2 99.9L234.6 100.4ZM256.4 99.0L255.9 98.6L257.1 97.9L250.7 95.8L254.9 101.1L255.1 99.7L255.6 100.0ZM276.5 99.3L276.7 99.8L275.4 99.7L279.3 104.4L278.6 98.4L277.7 99.4L277.5 98.8ZM297.4 99.0L297.7 99.6L296.3 99.6L300.8 104.2L299.6 97.9L298.8 99.0L298.5 98.4ZM318.5 98.8L318.8 99.2L317.5 99.4L322.0 103.4L320.4 97.5L319.7 98.6L319.4 98.1ZM339.5 98.6L339.8 99.1L338.5 99.4L343.9 103.0L341.3 97.1L340.8 98.3L340.4 97.9ZM360.6 98.6L361.1 98.9L360.1 99.5L365.4 100.9L361.7 96.8L361.6 98.0L361.2 97.7ZM382.1 98.7L382.7 98.4L382.6 99.8L387.5 95.7L381.2 96.4L382.2 97.3L381.6 97.5ZM403.6 98.2L403.7 97.5L405.0 98.4L403.8 91.0L400.7 97.9L402.2 97.3L402.1 98.0ZM424.5 98.1L424.4 97.4L425.9 97.8L422.3 91.3L421.7 98.7L423.0 97.7L423.1 98.4ZM445.4 98.2L445.2 97.6L446.6 97.8L442.6 92.6L443.0 99.1L444.0 98.1L444.2 98.7ZM466.4 98.5L466.1 97.9L467.5 98.0L463.2 92.9L464.0 99.5L464.9 98.4L465.2 99.0ZM487.3 98.8L487.1 98.2L488.5 98.3L484.2 93.4L485.0 99.8L485.9 98.7L486.2 99.3ZM508.4 99.2L508.1 98.6L509.6 98.7L505.1 93.1L505.8 100.3L506.8 99.1L507.1 99.8ZM529.3 99.7L529.1 99.1L530.6 99.2L525.9 93.8L526.9 100.8L527.8 99.7L528.1 100.3ZM550.3 100.2L549.9 99.6L551.5 99.4L545.8 94.5L547.9 101.8L548.7 100.4L549.1 101.0ZM570.8 100.6L570.2 100.5L571.1 99.4L564.5 99.7L570.2 103.1L569.9 101.7L570.5 101.9ZM591.9 101.3L591.2 101.1L592.4 100.0L585.1 99.4L590.9 103.9L590.7 102.4L591.4 102.6ZM612.9 102.2L612.3 102.0L613.3 101.1L607.0 100.4L611.9 104.5L611.8 103.1L612.4 103.3ZM633.8 103.3L633.4 103.1L634.1 102.4L629.4 101.8L633.0 104.9L633.0 103.9L633.4 104.1ZM654.8 104.2L654.3 104.0L655.2 103.2L649.8 102.5L653.9 106.1L653.9 104.9L654.4 105.1ZM675.7 105.3L675.3 105.1L676.1 104.4L671.4 103.8L675.0 106.9L674.9 105.9L675.4 106.1ZM696.7 106.4L696.3 106.3L697.0 105.7L692.9 105.2L696.0 107.9L696.0 107.0L696.4 107.2ZM717.7 107.5L717.2 107.3L718.2 106.5L712.7 105.8L716.8 109.5L716.8 108.3L717.3 108.5ZM48.4 125.2L47.4 119.6L49.3 120.1L45.1 111.8L44.0 121.0L45.6 119.9L46.6 125.5ZM69.3 124.0L67.1 112.2L69.0 112.7L64.8 104.4L63.8 113.7L65.4 112.5L67.5 124.3ZM90.2 122.9L88.9 113.4L90.8 114.0L86.9 105.6L85.5 114.7L87.1 113.6L88.4 123.1ZM111.1 121.9L110.4 116.4L112.3 117.0L108.5 108.5L107.0 117.7L108.6 116.6L109.3 122.1ZM131.9 121.0L131.9 120.2L133.6 121.0L131.1 112.8L128.6 121.0L130.3 120.2L130.3 121.0ZM152.6 120.3L152.8 119.7L153.9 120.7L154.0 113.6L150.0 119.5L151.5 119.3L151.3 119.9ZM173.1 120.0L173.7 119.8L173.4 121.3L179.5 117.6L172.4 117.3L173.4 118.5L172.7 118.7ZM194.5 118.2L194.0 117.5L195.8 117.3L189.5 111.7L191.7 119.9L192.7 118.3L193.1 119.0ZM215.3 117.5L214.8 116.9L216.4 116.5L209.9 112.3L213.0 119.4L213.6 117.9L214.1 118.4ZM236.1 116.9L235.7 116.3L237.3 115.9L230.8 111.8L233.9 118.8L234.6 117.3L235.0 117.8ZM403.4 115.7L403.7 115.1L404.8 116.2L405.2 108.9L400.8 114.8L402.4 114.6L402.1 115.3ZM424.5 115.5L424.3 114.7L426.0 115.3L422.5 107.8L421.3 116.0L422.8 114.9L422.9 115.7ZM487.1 116.1L486.8 115.4L488.5 115.5L483.3 109.4L484.3 117.3L485.4 116.0L485.7 116.7ZM508.0 116.5L507.7 115.8L509.4 115.9L504.2 109.9L505.2 117.8L506.3 116.4L506.6 117.1ZM529.1 117.2L528.6 114.8L530.5 115.3L526.3 107.1L525.3 116.3L526.9 115.1L527.3 117.5ZM549.8 117.5L548.3 114.9L550.3 114.7L543.4 108.5L545.7 117.5L546.8 115.8L548.3 118.4ZM569.9 117.7L558.3 118.7L559.0 116.8L550.4 120.3L559.5 122.1L558.4 120.5L570.1 119.4ZM591.2 118.5L588.5 117.3L590.0 116.0L580.7 114.9L587.9 120.9L587.8 118.9L590.5 120.1ZM612.1 119.3L611.3 119.0L612.7 117.8L604.1 117.1L610.9 122.4L610.7 120.6L611.5 120.9ZM632.9 120.5L632.4 120.3L633.3 119.5L627.9 118.9L632.0 122.4L632.0 121.2L632.5 121.5ZM653.8 121.4L653.3 121.2L654.3 120.3L648.1 119.6L652.9 123.6L652.8 122.3L653.3 122.5ZM674.7 122.5L674.2 122.3L675.1 121.5L669.5 120.8L673.8 124.5L673.8 123.3L674.3 123.5ZM695.5 123.7L695.2 123.5L695.9 122.9L691.5 122.4L694.9 125.2L694.8 124.3L695.2 124.5ZM716.5 124.7L716.0 124.4L717.1 123.5L710.5 122.7L715.5 127.0L715.4 125.6L716.0 125.9ZM49.6 142.7L50.0 135.7L51.7 136.6L49.5 127.6L46.4 136.4L48.2 135.6L47.9 142.6ZM70.5 141.5L70.9 130.1L72.7 131.0L70.3 122.0L67.3 130.8L69.1 130.0L68.7 141.5ZM91.3 140.4L91.5 130.8L93.3 131.8L90.8 122.8L87.9 131.6L89.7 130.8L89.5 140.4ZM112.1 139.4L112.4 131.4L114.1 132.3L111.7 123.3L108.8 132.1L110.6 131.3L110.3 139.3ZM132.9 138.5L133.1 136.3L134.8 137.3L133.0 128.2L129.5 136.8L131.4 136.1L131.2 138.3ZM153.6 137.8L153.9 137.0L155.1 138.3L155.5 129.9L150.6 136.7L152.4 136.5L152.1 137.2ZM174.3 137.1L174.7 136.5L175.5 137.9L177.6 130.5L171.8 135.5L173.5 135.7L173.1 136.3ZM195.1 135.5L194.6 134.9L196.2 134.6L189.9 130.3L192.8 137.3L193.5 135.8L193.9 136.4ZM215.9 134.8L215.4 134.3L216.9 133.9L210.6 129.9L213.7 136.7L214.3 135.2L214.8 135.8ZM235.3 134.9L236.2 138.8L234.3 138.4L238.9 146.4L239.5 137.1L237.9 138.4L237.0 134.5ZM256.2 134.7L257.4 136.4L255.4 136.6L262.6 142.5L259.8 133.6L258.8 135.4L257.7 133.7ZM360.7 133.4L361.3 133.7L360.1 134.5L366.6 136.2L362.1 131.2L362.0 132.6L361.4 132.3ZM424.4 133.0L424.5 130.9L426.2 131.8L423.7 122.9L420.9 131.7L422.7 130.9L422.7 133.0ZM507.5 133.9L507.3 133.2L508.9 133.5L504.5 127.2L504.7 134.9L505.9 133.7L506.1 134.4ZM528.5 134.7L528.5 132.5L530.3 133.4L527.5 124.5L525.0 133.4L526.7 132.5L526.8 134.7ZM549.3 135.0L548.9 133.3L550.8 133.6L545.9 125.7L545.7 135.0L547.1 133.7L547.6 135.5ZM569.4 135.0L564.7 134.4L565.9 132.7L556.7 134.1L565.1 138.0L564.5 136.1L569.2 136.8ZM590.1 135.7L581.0 135.6L581.9 133.8L573.0 136.4L581.8 139.2L581.0 137.4L590.1 137.5ZM611.2 136.6L610.4 136.3L611.7 134.9L602.5 134.7L610.1 140.0L609.8 138.0L610.7 138.3ZM632.0 137.7L631.4 137.4L632.6 136.4L625.5 135.6L631.0 140.2L630.9 138.7L631.5 138.9ZM652.8 138.7L652.2 138.5L653.3 137.5L646.8 137.0L651.9 141.0L651.8 139.6L652.4 139.8ZM673.7 139.6L673.0 139.3L674.2 138.3L666.7 137.5L672.6 142.3L672.5 140.7L673.1 141.0ZM694.5 140.8L693.9 140.5L695.0 139.6L688.3 138.8L693.4 143.2L693.4 141.7L694.0 142.0ZM715.3 141.9L714.7 141.7L715.9 140.7L708.7 139.7L714.2 144.5L714.1 142.9L714.8 143.2ZM50.9 160.1L51.4 154.6L53.1 155.6L51.3 146.5L47.8 155.1L49.7 154.4L49.1 159.9ZM71.6 158.9L72.7 148.2L74.4 149.2L72.6 140.1L69.0 148.7L70.9 148.0L69.9 158.7ZM92.4 157.8L93.3 145.6L95.0 146.6L93.1 137.6L89.7 146.2L91.6 145.5L90.6 157.7ZM113.1 156.8L113.7 148.7L115.5 149.7L113.5 140.7L110.1 149.3L112.0 148.6L111.3 156.6ZM133.9 155.8L134.2 150.8L135.9 151.8L133.7 142.7L130.5 151.4L132.4 150.7L132.1 155.7ZM154.6 155.1L154.8 154.2L156.3 155.5L155.9 146.3L151.2 154.2L153.1 153.8L152.9 154.6ZM175.1 153.9L175.0 153.3L176.4 153.6L173.1 147.6L172.5 154.5L173.7 153.5L173.8 154.2ZM195.7 152.9L195.3 152.4L196.8 152.0L190.8 148.1L193.7 154.6L194.3 153.2L194.7 153.8ZM216.5 152.2L216.0 151.6L217.6 151.2L210.9 147.3L214.3 154.2L214.9 152.6L215.4 153.2ZM235.9 152.4L237.6 156.3L235.6 156.2L241.7 163.3L240.5 154.1L239.2 155.6L237.5 151.7ZM256.6 152.0L258.3 155.6L256.3 155.5L262.5 162.5L261.2 153.3L259.9 154.9L258.3 151.2ZM444.8 150.4L444.7 149.8L446.0 150.3L443.5 144.4L442.3 150.7L443.5 150.0L443.5 150.6ZM527.9 152.0L527.9 151.2L529.6 151.9L526.8 143.9L524.7 152.1L526.3 151.2L526.3 152.0ZM548.6 152.5L548.5 151.8L550.0 152.4L547.4 145.4L545.7 152.7L547.1 151.9L547.1 152.6ZM569.3 152.7L568.6 151.9L570.6 151.4L562.8 146.3L566.5 154.8L567.3 153.0L567.9 153.8ZM589.7 153.1L588.4 152.7L589.9 151.3L580.6 150.7L588.0 156.3L587.8 154.3L589.0 154.8ZM610.5 154.0L608.1 152.7L609.7 151.5L600.6 149.6L607.2 156.2L607.3 154.2L609.7 155.5ZM631.2 154.9L630.5 154.6L631.8 153.6L624.1 152.3L629.8 157.6L629.8 156.0L630.5 156.3ZM651.9 155.9L651.2 155.6L652.4 154.5L644.9 153.8L650.8 158.6L650.6 157.0L651.3 157.2ZM672.6 156.9L671.9 156.6L673.2 155.5L665.5 154.6L671.4 159.6L671.4 158.0L672.0 158.3ZM693.4 158.0L692.7 157.7L693.9 156.6L686.3 155.9L692.2 160.7L692.1 159.1L692.8 159.4ZM714.1 159.3L713.5 159.0L714.6 158.1L707.8 157.3L713.0 161.7L713.0 160.2L713.6 160.5ZM52.1 177.4L52.4 174.9L54.1 175.9L52.2 166.8L48.7 175.5L50.6 174.7L50.4 177.3ZM72.8 176.3L73.6 166.6L75.3 167.6L73.4 158.5L70.0 167.2L71.8 166.4L71.0 176.1ZM93.5 175.1L94.1 166.3L95.8 167.3L93.8 158.2L90.5 166.9L92.3 166.2L91.7 175.0ZM114.1 174.1L114.7 166.5L116.4 167.5L114.4 158.4L111.1 167.1L112.9 166.3L112.4 174.0ZM134.8 173.2L135.5 166.6L137.2 167.7L135.5 158.5L131.9 167.1L133.8 166.4L133.0 173.0ZM155.4 172.6L155.8 171.8L156.9 173.5L159.0 164.4L152.3 170.8L154.3 170.9L153.8 171.8ZM176.0 171.4L175.9 170.7L177.4 171.4L175.1 164.4L173.1 171.5L174.5 170.7L174.5 171.4ZM196.5 170.2L196.0 169.6L197.7 169.1L190.8 164.6L194.1 172.2L194.8 170.6L195.3 171.2ZM217.1 169.5L216.6 169.0L218.2 168.5L211.6 164.8L215.0 171.5L215.6 170.0L216.1 170.5ZM236.5 169.8L236.8 170.5L235.0 170.5L240.7 177.0L239.5 168.4L238.3 169.9L238.0 169.1ZM257.1 169.4L258.8 172.3L256.8 172.4L263.5 178.9L261.5 169.8L260.4 171.4L258.7 168.5ZM277.8 169.0L281.7 175.6L279.7 175.8L286.5 182.1L284.3 173.1L283.2 174.8L279.4 168.1ZM527.3 169.3L527.3 168.6L528.7 169.3L526.4 162.2L524.4 169.4L525.9 168.7L525.9 169.4ZM547.9 169.9L547.9 169.3L549.2 169.9L547.2 163.4L545.3 169.9L546.6 169.3L546.6 169.9ZM568.7 170.4L568.5 169.6L570.1 170.0L566.2 163.2L565.7 171.1L567.0 170.0L567.2 170.7ZM589.0 170.5L583.2 167.7L584.8 166.5L575.6 165.1L582.5 171.3L582.5 169.3L588.2 172.1ZM609.8 171.5L609.3 171.0L611.0 170.5L604.1 166.3L607.5 173.6L608.2 172.0L608.7 172.6ZM630.4 172.4L629.9 171.9L631.5 171.4L624.7 167.7L628.4 174.5L628.9 172.9L629.4 173.5ZM651.0 173.3L650.4 172.9L651.7 172.0L644.5 170.1L649.5 175.7L649.6 174.1L650.2 174.5ZM671.6 174.2L670.9 173.9L672.1 172.8L664.4 171.9L670.4 176.9L670.3 175.3L671.0 175.6ZM692.2 175.3L691.5 175.1L692.7 174.0L685.4 173.4L691.2 177.9L691.0 176.4L691.7 176.6ZM712.8 176.5L712.2 176.3L713.3 175.3L706.4 174.6L711.8 179.0L711.7 177.5L712.3 177.8ZM53.4 194.7L53.4 192.6L55.2 193.5L52.7 184.5L49.9 193.4L51.7 192.5L51.6 194.7ZM74.0 193.5L74.1 188.5L75.8 189.5L73.3 180.5L70.5 189.4L72.3 188.5L72.2 193.5ZM94.6 192.4L94.7 186.9L96.4 187.8L94.0 178.8L91.1 187.7L92.9 186.8L92.8 192.4ZM115.2 191.4L115.4 184.3L117.1 185.2L114.7 176.3L111.8 185.1L113.6 184.2L113.4 191.4ZM135.7 190.5L136.3 183.8L138.0 184.9L136.1 175.8L132.7 184.4L134.5 183.7L134.0 190.4ZM156.3 189.7L156.4 188.9L157.9 190.0L156.8 181.5L153.0 189.2L154.8 188.6L154.6 189.4ZM176.7 188.4L176.3 187.8L177.9 187.7L172.5 182.5L174.2 189.8L175.1 188.5L175.4 189.1ZM197.2 187.6L196.7 187.0L198.3 186.6L191.9 182.4L194.9 189.5L195.6 187.9L196.1 188.5ZM217.7 186.9L217.3 186.4L218.8 186.0L212.6 182.2L215.6 188.8L216.2 187.3L216.7 187.8ZM237.1 187.1L237.4 187.8L235.7 187.7L240.8 193.8L239.9 185.9L238.8 187.2L238.5 186.5ZM257.6 186.7L258.9 189.6L256.9 189.5L263.0 196.6L261.8 187.4L260.5 188.9L259.2 185.9ZM278.2 186.3L280.9 192.1L278.9 192.0L285.1 198.9L283.7 189.7L282.5 191.3L279.8 185.5ZM298.9 186.1L301.3 189.3L299.3 189.7L306.7 195.3L303.6 186.5L302.7 188.3L300.3 185.0ZM526.7 186.7L526.7 186.1L527.9 186.7L526.0 180.4L524.2 186.7L525.4 186.1L525.4 186.7ZM547.4 187.3L547.4 186.5L548.8 187.3L546.7 180.0L544.5 187.2L545.9 186.5L545.9 187.3ZM568.1 187.9L568.1 186.6L569.9 187.5L567.3 178.6L564.6 187.5L566.4 186.6L566.3 187.9ZM588.6 188.6L588.7 187.8L590.2 188.7L588.3 180.7L585.5 188.5L587.1 187.8L587.0 188.6ZM629.6 189.9L629.3 189.3L630.8 189.4L626.1 184.2L627.2 191.1L628.1 189.9L628.4 190.5ZM650.1 190.6L649.5 190.1L651.0 189.5L643.9 186.4L648.2 192.9L648.5 191.3L649.1 191.7ZM670.6 191.6L670.0 191.2L671.3 190.4L664.4 188.4L669.0 193.9L669.2 192.4L669.8 192.8ZM691.0 192.6L690.4 192.4L691.5 191.4L684.4 190.7L690.0 195.2L689.9 193.7L690.5 193.9ZM711.6 193.8L711.0 193.5L712.2 192.5L705.0 191.8L710.6 196.3L710.5 194.8L711.1 195.1ZM54.6 212.1L54.7 210.8L56.4 211.7L53.9 202.8L51.1 211.6L52.9 210.8L52.9 212.0ZM75.2 210.9L75.2 206.2L77.0 207.1L74.4 198.2L71.6 207.1L73.4 206.2L73.4 210.9ZM95.7 209.8L95.8 204.3L97.5 205.2L95.0 196.3L92.2 205.1L94.0 204.2L93.9 209.8ZM116.2 208.8L116.2 202.6L118.0 203.5L115.4 194.6L112.7 203.5L114.5 202.6L114.4 208.7ZM136.7 207.8L136.7 203.7L138.5 204.6L135.8 195.7L133.1 204.6L134.9 203.7L134.9 207.8ZM157.2 206.9L157.2 206.0L159.0 206.9L156.3 198.0L153.6 206.9L155.4 206.0L155.4 206.9ZM177.4 205.8L177.1 205.2L178.6 205.1L173.3 200.1L175.0 207.2L175.9 205.9L176.2 206.5ZM197.9 204.9L197.4 204.3L199.1 204.0L192.6 199.6L195.6 206.8L196.3 205.3L196.8 205.9ZM218.2 204.2L217.7 203.8L219.0 203.0L212.2 201.0L216.7 206.5L216.9 204.9L217.5 205.3ZM237.5 204.4L238.2 206.7L236.2 206.4L241.4 214.1L241.4 204.8L239.9 206.2L239.2 203.9ZM258.0 203.9L259.2 208.9L257.3 208.4L262.0 216.4L262.5 207.2L260.9 208.4L259.7 203.5ZM278.6 203.7L281.8 209.5L279.8 209.5L286.4 216.0L284.5 207.0L283.3 208.6L280.2 202.8ZM299.1 203.4L302.8 209.6L300.8 209.7L307.6 216.0L305.4 207.0L304.3 208.7L300.7 202.5ZM546.9 204.6L546.9 203.7L548.7 204.7L546.3 195.8L543.4 204.5L545.2 203.7L545.2 204.6ZM567.4 205.3L567.9 200.9L569.6 202.0L567.9 192.9L564.3 201.4L566.1 200.7L565.7 205.1ZM587.9 206.2L588.9 202.8L590.4 204.2L590.3 194.9L585.2 202.7L587.2 202.3L586.2 205.7ZM649.0 208.0L648.5 207.6L649.9 207.0L643.7 204.3L647.3 210.0L647.7 208.6L648.2 209.0ZM669.6 208.9L669.0 208.5L670.5 207.8L663.6 204.8L667.7 211.2L668.1 209.6L668.6 210.0ZM689.9 210.0L689.3 209.7L690.6 208.8L683.6 207.4L688.7 212.4L688.7 210.9L689.3 211.2ZM710.4 211.1L709.8 210.8L711.0 209.8L703.9 209.0L709.3 213.6L709.2 212.1L709.9 212.4ZM55.9 229.4L55.8 227.0L57.6 227.9L54.7 219.0L52.3 228.0L54.1 227.1L54.1 229.4ZM76.3 228.1L75.9 223.7L77.7 224.4L74.2 215.8L72.4 225.0L74.1 223.9L74.5 228.3ZM96.8 227.1L96.7 222.4L98.5 223.3L95.7 214.4L93.2 223.4L94.9 222.5L95.0 227.1ZM117.2 226.0L116.8 220.0L118.7 220.7L115.4 212.0L113.3 221.1L115.0 220.1L115.4 226.1ZM137.6 225.2L137.7 220.0L139.5 220.9L137.0 212.0L134.2 220.8L136.0 220.0L135.8 225.1ZM158.0 224.7L158.8 223.2L159.9 224.9L161.8 215.8L155.2 222.3L157.2 222.4L156.4 223.8ZM178.3 223.3L178.1 222.7L179.7 223.1L176.2 216.6L175.6 223.9L176.8 222.9L176.9 223.6ZM198.5 222.5L198.2 222.0L199.4 221.9L195.2 218.2L196.7 223.6L197.3 222.6L197.6 223.0ZM218.9 221.7L218.5 221.3L219.6 221.0L214.7 218.3L217.3 223.2L217.7 222.1L218.1 222.5ZM238.1 221.8L238.4 222.8L236.4 222.5L241.6 230.2L241.5 221.0L240.1 222.3L239.8 221.3ZM258.5 221.1L259.1 226.5L257.3 225.9L261.0 234.4L262.6 225.2L260.9 226.3L260.2 220.9ZM278.9 220.8L280.0 226.8L278.0 226.2L282.2 234.5L283.3 225.3L281.7 226.4L280.7 220.5ZM299.4 220.6L301.9 227.5L300.0 227.3L305.5 234.7L305.0 225.5L303.6 226.9L301.1 220.0ZM319.9 220.4L323.6 228.0L321.6 227.9L328.0 234.7L326.4 225.6L325.2 227.2L321.4 219.6ZM340.5 220.5L345.2 224.5L343.3 225.3L351.8 229.1L346.8 221.2L346.3 223.2L341.7 219.1ZM361.9 220.5L370.2 217.1L370.0 219.0L377.2 213.2L368.0 214.1L369.5 215.4L361.2 218.8ZM382.3 220.4L387.3 218.1L387.3 220.1L394.3 214.0L385.1 215.3L386.6 216.5L381.6 218.8ZM403.1 220.1L405.5 216.4L406.5 218.1L409.1 209.2L402.0 215.2L404.0 215.5L401.6 219.2ZM505.2 221.2L505.5 220.5L506.5 221.7L507.1 214.3L502.6 220.1L504.2 220.0L503.9 220.6ZM525.6 221.7L526.0 221.1L526.9 222.4L528.3 214.9L523.1 220.4L524.7 220.4L524.4 221.0ZM546.2 222.3L546.9 221.0L548.1 222.7L549.9 213.6L543.4 220.1L545.4 220.2L544.6 221.5ZM566.7 222.7L567.3 219.4L568.9 220.5L567.6 211.3L563.6 219.7L565.5 219.1L565.0 222.4ZM587.2 223.5L588.2 220.0L589.7 221.3L589.6 212.0L584.5 219.8L586.5 219.5L585.4 223.0ZM607.5 224.2L607.7 223.4L609.1 224.5L608.4 216.2L604.4 223.5L606.1 223.1L606.0 223.9ZM668.4 226.2L667.8 225.9L669.0 225.0L662.1 223.6L667.1 228.6L667.1 227.1L667.7 227.4ZM688.7 227.2L688.0 226.9L689.2 225.7L681.3 225.3L687.7 230.0L687.5 228.3L688.2 228.6ZM709.2 228.4L708.5 228.1L709.6 227.1L702.5 226.6L708.2 231.0L708.0 229.4L708.7 229.7ZM57.1 246.5L56.6 244.8L58.6 245.1L53.5 237.3L53.4 246.6L54.9 245.3L55.4 247.0ZM77.5 245.3L76.0 240.5L77.9 240.8L72.7 233.1L72.8 242.4L74.3 241.0L75.8 245.8ZM97.8 244.2L96.6 240.0L98.6 240.4L93.5 232.5L93.4 241.8L94.9 240.5L96.1 244.7ZM118.2 243.2L116.8 238.8L118.8 239.1L113.7 231.4L113.7 240.7L115.1 239.3L116.5 243.7ZM138.6 242.3L137.7 238.1L139.6 238.6L135.1 230.4L134.4 239.7L135.9 238.4L136.8 242.7ZM158.9 241.9L159.1 241.0L160.5 242.3L160.3 233.3L155.5 240.9L157.4 240.6L157.2 241.4ZM179.1 240.9L179.2 240.2L180.6 241.1L179.3 233.6L176.2 240.6L177.8 240.0L177.7 240.7ZM199.2 239.8L198.9 239.3L200.2 239.2L195.8 235.3L197.3 241.0L198.0 239.9L198.3 240.4ZM218.5 239.6L218.7 240.2L217.4 240.0L220.8 245.3L220.9 239.0L219.9 239.9L219.7 239.3ZM238.8 239.0L238.8 239.7L237.3 239.2L240.4 246.0L241.6 238.6L240.3 239.5L240.2 238.8ZM258.9 238.4L259.1 244.5L257.3 243.6L260.1 252.5L262.6 243.5L260.8 244.4L260.7 238.4ZM279.3 238.0L279.6 244.0L277.8 243.2L280.9 252.0L283.1 243.0L281.4 244.0L281.1 237.9ZM299.7 237.8L301.3 244.2L299.3 243.7L304.1 251.7L304.5 242.4L303.0 243.7L301.4 237.4ZM320.2 237.9L324.5 243.8L322.5 244.1L329.9 249.7L326.8 241.0L325.9 242.7L321.6 236.8ZM340.7 237.9L348.0 243.2L346.2 244.1L354.9 247.3L349.4 239.8L349.0 241.8L341.8 236.4ZM361.7 237.9L367.5 237.3L366.8 239.2L375.4 235.6L366.3 233.9L367.4 235.5L361.5 236.1ZM382.3 237.8L386.7 236.2L386.4 238.2L393.9 232.6L384.6 233.2L386.1 234.5L381.7 236.1ZM403.1 237.5L407.0 231.1L408.0 232.8L410.4 223.8L403.4 230.0L405.4 230.2L401.6 236.5ZM423.5 237.5L424.5 235.1L425.8 236.6L426.9 227.4L420.9 234.5L422.9 234.4L421.9 236.7ZM443.9 237.3L444.0 236.0L445.7 236.9L443.2 228.0L440.4 236.8L442.2 236.0L442.1 237.3ZM464.3 237.5L464.3 236.7L466.0 237.6L463.6 228.8L460.8 237.5L462.5 236.6L462.5 237.5ZM484.4 237.9L484.5 237.2L485.8 238.0L484.1 231.1L481.7 237.7L483.1 237.1L483.1 237.8ZM504.7 238.5L505.0 237.9L506.0 239.1L507.1 231.9L502.2 237.3L503.8 237.3L503.5 237.9ZM524.6 239.5L525.4 239.4L524.9 241.0L532.2 237.4L524.1 236.4L525.1 237.8L524.3 237.9ZM545.1 240.0L545.8 239.8L545.5 241.5L552.5 237.0L544.1 237.0L545.4 238.3L544.6 238.5ZM565.5 240.6L566.2 240.2L566.2 241.9L572.0 236.5L564.2 237.8L565.5 238.9L564.8 239.2ZM586.0 241.1L586.5 240.6L587.0 242.1L590.5 235.7L584.1 239.1L585.6 239.6L585.1 240.1ZM605.5 240.7L604.8 241.1L604.7 239.3L599.2 245.4L607.1 243.4L605.6 242.4L606.3 242.0ZM625.7 241.5L618.8 246.6L618.4 244.7L612.9 252.1L621.6 249.0L619.8 248.1L626.8 242.9ZM646.6 242.2L643.4 242.4L644.2 240.5L635.5 243.6L644.5 245.9L643.5 244.1L646.7 244.0ZM687.5 244.5L686.9 244.3L688.0 243.1L680.6 242.9L686.7 247.2L686.4 245.6L687.1 245.8ZM707.9 245.7L707.3 245.5L708.2 244.6L701.9 244.5L707.1 248.0L706.9 246.7L707.5 246.9ZM58.3 263.8L57.9 262.3L59.9 262.7L54.7 255.0L54.8 264.3L56.2 262.9L56.7 264.3ZM78.6 262.6L77.2 258.1L79.2 258.4L74.0 250.7L74.1 260.0L75.5 258.6L76.9 263.2ZM98.9 261.6L97.9 258.2L99.8 258.5L94.7 250.8L94.7 260.0L96.2 258.7L97.2 262.1ZM119.2 260.5L117.7 255.5L119.7 255.9L114.6 248.1L114.5 257.4L116.0 256.0L117.5 261.1ZM139.5 259.7L138.2 253.9L140.1 254.4L135.6 246.3L134.9 255.6L136.5 254.3L137.8 260.1ZM159.8 259.0L159.9 256.8L161.6 257.7L159.3 248.8L156.3 257.6L158.1 256.7L158.0 259.0ZM179.9 258.3L180.0 257.5L181.5 258.5L180.1 250.6L176.9 257.9L178.5 257.3L178.4 258.1ZM200.1 257.3L200.0 256.7L201.3 257.1L198.1 251.2L197.6 257.9L198.7 257.0L198.8 257.6ZM220.4 256.7L220.3 256.0L221.9 256.4L218.2 249.8L217.6 257.3L218.9 256.3L219.0 257.0ZM239.2 256.3L239.2 257.1L237.5 256.3L240.0 264.6L242.5 256.3L240.9 257.1L240.9 256.3ZM259.4 255.8L259.4 259.0L257.6 258.1L260.3 267.0L263.0 258.1L261.2 259.0L261.2 255.8ZM279.7 255.4L279.8 260.0L278.0 259.2L280.8 268.0L283.3 259.1L281.5 260.0L281.5 255.3ZM300.0 255.1L300.4 258.6L298.5 257.9L302.2 266.4L303.8 257.3L302.1 258.4L301.7 254.9ZM320.3 255.1L321.0 256.5L319.1 256.5L325.4 263.3L323.8 254.1L322.6 255.7L321.9 254.3ZM340.8 255.0L341.3 255.7L339.6 256.1L346.6 260.7L343.3 253.0L342.6 254.6L342.0 254.0ZM361.8 255.2L362.6 255.1L362.0 256.9L369.9 253.2L361.4 251.9L362.4 253.5L361.6 253.6ZM382.5 255.0L383.9 253.9L384.4 255.8L389.5 248.0L381.0 251.7L382.8 252.5L381.4 253.7ZM403.1 254.5L403.3 253.7L404.9 254.9L404.1 245.7L399.7 253.8L401.6 253.3L401.4 254.2ZM423.2 254.6L423.4 253.9L424.6 254.9L423.9 247.6L420.5 254.0L422.0 253.6L421.9 254.3ZM443.4 254.7L443.5 254.0L444.7 254.7L443.1 248.4L440.9 254.5L442.2 254.0L442.2 254.6ZM463.8 255.0L463.9 254.3L465.1 255.2L464.2 248.3L461.1 254.6L462.5 254.1L462.4 254.8ZM484.1 255.2L484.2 254.4L485.7 255.2L483.4 247.5L481.1 255.2L482.6 254.4L482.6 255.2ZM504.3 256.1L504.8 255.5L505.5 257.2L509.0 249.3L501.8 254.0L503.6 254.4L503.0 255.1ZM523.9 256.8L524.7 256.8L523.9 258.4L531.7 256.1L524.0 253.7L524.7 255.3L523.9 255.3ZM544.2 257.3L544.9 257.3L544.2 258.6L550.8 256.6L544.2 254.6L544.9 255.9L544.2 255.9ZM564.5 257.9L565.2 257.9L564.5 259.4L571.7 257.2L564.5 255.0L565.2 256.5L564.5 256.5ZM584.8 258.6L585.5 258.5L584.9 260.0L591.7 257.5L584.7 255.8L585.4 257.2L584.7 257.2ZM605.3 259.3L605.9 259.1L605.6 260.7L611.7 256.7L604.5 256.7L605.5 257.8L604.9 258.0ZM624.9 258.9L624.2 259.3L623.9 257.6L619.0 264.3L626.8 261.4L625.2 260.6L625.8 260.1ZM666.1 260.5L662.8 259.6L664.1 258.2L654.8 258.4L662.7 263.3L662.3 261.4L665.7 262.3ZM686.4 261.6L685.5 261.4L686.7 259.8L677.5 260.7L685.6 265.1L685.1 263.1L686.0 263.3ZM706.6 263.0L705.9 262.8L706.8 261.7L700.2 262.4L706.1 265.5L705.7 264.1L706.3 264.2ZM59.5 281.1L59.2 280.3L61.0 280.5L55.6 273.8L56.5 282.4L57.7 281.0L58.0 281.7ZM79.8 279.9L79.0 277.9L81.0 278.1L75.2 270.8L76.0 280.1L77.3 278.6L78.1 280.6ZM100.0 278.8L99.0 276.3L101.0 276.4L95.3 269.1L96.0 278.4L97.3 276.9L98.3 279.5ZM120.2 277.9L118.9 274.1L120.9 274.4L115.6 266.8L115.8 276.1L117.3 274.7L118.5 278.4ZM140.4 277.0L139.4 272.3L141.3 272.8L136.8 264.7L136.1 274.0L137.7 272.7L138.7 277.4ZM160.7 276.4L160.8 274.1L162.5 275.1L160.4 266.0L157.2 274.7L159.0 273.9L158.9 276.3ZM180.6 275.6L180.6 274.9L182.0 275.5L179.9 268.9L178.0 275.6L179.3 274.9L179.3 275.6ZM200.8 274.7L200.6 274.0L202.1 274.3L198.4 268.3L198.2 275.4L199.3 274.4L199.5 275.0ZM219.7 274.2L219.7 274.9L218.3 274.3L220.9 281.2L222.5 274.0L221.1 274.8L221.1 274.1ZM239.8 273.6L239.8 274.3L238.3 273.4L239.9 281.2L242.8 273.8L241.3 274.4L241.3 273.7ZM259.9 273.1L259.6 277.3L257.9 276.3L260.0 285.3L263.2 276.6L261.4 277.4L261.7 273.2ZM280.1 272.7L280.1 277.6L278.3 276.7L281.0 285.6L283.7 276.7L281.9 277.6L281.9 272.7ZM300.3 272.4L300.4 274.4L298.6 273.7L301.8 282.4L303.9 273.3L302.2 274.3L302.1 272.3ZM320.8 272.2L320.9 272.8L319.7 272.5L322.7 277.8L323.1 271.7L322.1 272.5L321.9 271.9ZM342.1 271.9L342.1 271.4L343.0 271.9L341.7 267.0L340.1 271.8L341.1 271.4L341.1 271.9ZM362.4 271.9L362.6 271.3L363.6 272.3L363.7 265.8L360.0 271.2L361.4 271.0L361.2 271.6ZM382.7 271.8L382.8 271.1L384.1 272.1L383.4 264.6L379.9 271.3L381.4 270.9L381.3 271.6ZM402.9 271.7L402.9 271.0L404.3 271.7L402.2 264.6L400.1 271.7L401.5 271.0L401.5 271.7ZM422.9 271.9L422.9 271.4L423.8 271.9L422.8 267.1L421.0 271.7L422.0 271.3L421.9 271.8ZM443.1 272.0L443.1 271.4L444.2 272.0L442.6 266.6L441.0 272.0L442.1 271.4L442.1 272.0ZM463.5 272.4L463.7 271.8L464.8 272.8L464.8 265.5L460.8 271.6L462.3 271.4L462.1 272.0ZM483.7 272.8L483.9 272.0L485.2 273.2L485.2 265.4L480.9 271.9L482.5 271.6L482.3 272.3ZM502.8 273.6L503.5 273.9L502.1 274.9L509.7 276.6L504.3 271.0L504.2 272.7L503.6 272.3ZM523.2 274.1L524.0 274.3L522.9 275.6L530.7 275.0L523.9 271.2L524.3 272.8L523.6 272.7ZM543.5 274.6L544.1 274.7L543.3 275.9L550.1 275.1L544.0 272.0L544.4 273.4L543.7 273.3ZM563.7 275.2L564.4 275.4L563.4 276.6L570.8 275.8L564.2 272.4L564.6 274.0L563.9 273.8ZM584.0 275.9L584.8 275.9L584.1 277.4L591.1 274.9L583.9 273.1L584.7 274.5L584.0 274.5ZM604.6 276.7L605.3 276.3L605.2 278.1L611.2 272.6L603.2 273.9L604.6 274.9L603.9 275.3ZM624.6 277.6L625.5 277.4L625.1 279.3L632.6 274.6L623.7 274.4L625.0 275.8L624.2 276.0ZM644.8 276.8L643.8 276.6L645.0 275.1L635.8 275.8L643.9 280.3L643.4 278.4L644.4 278.6ZM664.9 277.8L661.5 277.3L662.6 275.7L653.5 277.1L661.9 281.0L661.3 279.1L664.7 279.6ZM685.2 278.9L684.1 278.7L685.3 277.1L676.1 278.4L684.5 282.4L683.9 280.5L684.9 280.6ZM705.3 280.3L704.7 280.2L705.5 279.1L699.1 279.9L704.9 282.7L704.5 281.4L705.1 281.5ZM60.8 298.4L60.4 297.7L62.3 297.7L56.6 291.2L57.7 299.8L58.9 298.3L59.2 299.1ZM80.9 297.2L80.6 296.4L82.5 296.5L76.6 289.6L77.7 298.7L79.0 297.1L79.3 297.9ZM101.1 296.2L99.8 293.3L101.8 293.4L95.8 286.4L96.9 295.6L98.2 294.0L99.4 296.9ZM121.2 295.1L119.8 291.9L121.7 292.0L115.7 284.9L116.9 294.1L118.1 292.6L119.6 295.9ZM141.3 294.3L140.0 289.8L141.9 290.1L136.7 282.4L136.8 291.7L138.3 290.3L139.7 294.8ZM161.5 293.5L160.6 290.1L162.5 290.5L157.7 282.6L157.4 291.9L158.9 290.6L159.8 293.9ZM181.5 292.7L181.4 291.9L183.1 292.4L178.9 285.0L178.4 293.5L179.8 292.3L180.0 293.1ZM201.6 291.9L201.3 291.2L203.0 291.3L197.9 285.3L198.8 293.1L199.9 291.8L200.2 292.5ZM220.3 291.6L220.3 292.3L218.8 291.6L221.1 298.9L223.2 291.5L221.7 292.3L221.7 291.5ZM240.5 290.8L240.3 291.5L239.2 290.5L239.6 297.5L243.1 291.4L241.6 291.8L241.8 291.1ZM260.4 290.3L259.8 293.3L258.2 292.0L259.1 301.3L263.4 293.1L261.5 293.6L262.1 290.7ZM280.5 290.0L280.3 293.8L278.6 292.9L280.9 301.9L283.9 293.1L282.1 293.9L282.3 290.1ZM300.6 289.8L300.7 291.0L298.8 290.2L302.0 298.9L304.2 289.9L302.4 290.9L302.4 289.7ZM321.1 289.5L321.2 290.0L320.0 289.6L322.2 294.7L323.2 289.3L322.2 289.9L322.2 289.4ZM342.1 289.5L342.4 289.1L342.9 289.9L343.9 285.3L340.6 288.6L341.6 288.6L341.4 289.0ZM362.5 289.2L362.6 288.7L363.6 289.5L363.1 283.3L360.1 288.7L361.4 288.4L361.3 289.0ZM382.6 289.2L382.8 288.6L383.9 289.5L383.4 282.7L380.1 288.6L381.5 288.3L381.4 288.9ZM402.8 289.2L403.0 288.5L404.3 289.5L403.5 282.0L400.0 288.7L401.5 288.2L401.4 288.9ZM422.6 289.4L422.9 289.0L423.4 289.9L424.6 285.2L421.1 288.4L422.1 288.5L421.9 288.9ZM442.8 289.5L443.0 289.1L443.7 289.9L444.3 284.9L441.0 288.8L442.1 288.7L441.9 289.1ZM463.2 289.7L463.4 288.9L464.7 289.9L463.6 282.1L460.3 289.3L461.9 288.7L461.8 289.5ZM483.3 289.7L483.1 289.1L484.6 289.4L481.1 283.4L480.7 290.3L481.8 289.4L482.0 290.0ZM502.7 291.0L503.5 291.1L502.6 292.6L510.4 290.9L502.9 288.0L503.6 289.6L502.8 289.5ZM522.8 291.5L523.6 291.5L522.7 293.0L530.3 291.4L523.1 288.5L523.7 290.1L522.9 290.0ZM543.2 292.0L543.9 291.8L543.6 293.5L550.5 289.4L542.4 289.0L543.6 290.3L542.8 290.5ZM563.1 292.7L563.9 292.7L563.1 294.2L571.0 292.1L563.2 289.5L563.9 291.1L563.1 291.1ZM583.2 293.3L583.9 293.3L583.1 294.7L590.6 293.0L583.4 290.4L584.0 291.9L583.3 291.8ZM603.4 294.1L604.2 294.0L603.5 295.6L611.1 293.0L603.3 291.0L604.1 292.5L603.3 292.5ZM623.6 294.9L624.3 294.7L623.8 296.3L630.8 293.1L623.2 292.0L624.1 293.3L623.4 293.4ZM643.7 294.2L643.0 294.1L644.0 292.7L635.8 293.9L643.3 297.4L642.7 295.7L643.5 295.8ZM663.8 295.3L663.1 295.2L664.0 293.8L656.3 295.2L663.5 298.2L662.9 296.7L663.7 296.7ZM684.0 296.3L683.2 296.2L684.2 294.7L676.1 296.0L683.6 299.4L683.0 297.7L683.8 297.8ZM704.1 297.6L703.5 297.5L704.3 296.4L698.1 297.3L703.7 299.9L703.3 298.7L703.9 298.8ZM62.0 315.7L61.7 315.0L63.6 315.1L57.8 308.4L58.9 317.1L60.1 315.7L60.5 316.4ZM82.1 314.6L81.2 312.6L83.2 312.6L77.2 305.6L78.3 314.8L79.6 313.3L80.5 315.3ZM102.1 313.5L101.8 312.8L103.5 312.9L98.1 306.5L99.1 314.8L100.3 313.4L100.6 314.2ZM122.2 312.5L121.2 310.3L123.2 310.4L117.2 303.3L118.3 312.5L119.6 311.0L120.6 313.2ZM142.2 311.5L140.7 308.3L142.7 308.4L136.6 301.4L137.9 310.6L139.1 309.1L140.6 312.3ZM162.3 310.7L160.5 306.5L162.5 306.6L156.5 299.5L157.6 308.8L158.9 307.2L160.7 311.4ZM182.4 310.0L181.6 307.9L183.6 308.1L177.9 300.7L178.6 310.0L179.9 308.5L180.7 310.6ZM202.1 309.1L201.6 308.6L203.1 308.1L196.8 304.4L200.0 311.0L200.6 309.5L201.1 310.0ZM221.9 308.3L221.2 308.0L222.4 307.0L215.2 306.5L220.9 310.8L220.7 309.3L221.4 309.6ZM241.0 308.2L240.8 308.9L239.5 307.8L239.7 315.5L243.8 308.9L242.2 309.3L242.4 308.5ZM260.9 307.8L260.9 308.7L259.2 307.8L261.6 316.4L264.3 307.9L262.6 308.7L262.6 307.9ZM280.9 307.5L280.9 308.9L279.1 308.1L282.0 316.9L284.5 307.9L282.7 308.9L282.7 307.4ZM301.0 307.1L301.1 308.0L299.4 307.3L302.4 315.2L304.3 306.9L302.7 307.8L302.6 307.0ZM321.3 306.9L321.3 307.5L320.1 307.0L322.4 312.7L323.6 306.6L322.5 307.3L322.5 306.7ZM342.5 306.8L342.7 306.3L343.6 307.3L344.3 301.1L340.3 305.9L341.6 305.8L341.4 306.4ZM362.5 306.7L362.7 306.1L363.7 307.0L363.9 300.7L360.2 305.9L361.6 305.7L361.4 306.3ZM382.4 306.6L382.6 306.2L383.2 307.0L383.8 302.3L380.8 305.9L381.8 305.8L381.6 306.2ZM402.6 306.7L402.9 306.2L403.6 307.3L405.0 301.4L400.6 305.5L401.9 305.6L401.6 306.1ZM422.7 307.1L423.3 306.5L424.0 308.3L428.1 300.3L420.2 304.7L422.1 305.3L421.5 305.9ZM442.8 307.3L443.9 306.1L444.6 308.0L448.8 299.7L440.8 304.3L442.7 304.9L441.5 306.1ZM462.9 306.8L462.8 306.1L464.4 306.6L461.2 299.6L460.0 307.2L461.4 306.3L461.5 307.0ZM482.8 307.0L482.6 306.5L483.9 306.7L480.3 301.6L480.6 307.8L481.5 306.9L481.7 307.4ZM503.0 307.6L502.9 306.9L504.3 307.4L501.7 300.9L500.3 307.8L501.6 307.0L501.6 307.7ZM522.8 308.6L523.4 308.1L523.8 309.7L527.9 303.2L520.9 306.4L522.4 307.0L521.9 307.5ZM543.0 308.1L542.5 307.6L544.2 307.2L537.9 302.7L540.6 310.0L541.3 308.5L541.8 309.1ZM562.9 309.8L563.5 309.4L563.7 311.0L568.3 305.0L561.2 307.4L562.6 308.2L562.0 308.6ZM583.1 310.2L583.5 309.6L584.3 311.0L586.2 303.7L580.6 308.8L582.2 308.9L581.9 309.5ZM603.3 310.6L603.2 309.8L604.8 310.5L602.1 303.2L600.3 310.7L601.8 309.9L601.8 310.7ZM623.4 311.6L623.5 310.8L624.9 311.8L623.8 303.7L620.3 311.1L621.9 310.6L621.8 311.3ZM642.8 311.6L642.0 311.4L643.1 310.1L635.1 310.7L642.1 314.6L641.7 312.9L642.5 313.1ZM662.8 312.4L661.6 312.3L662.7 310.6L653.6 312.4L662.2 315.9L661.5 314.1L662.6 314.2ZM682.8 313.5L679.7 313.3L680.7 311.6L671.7 313.8L680.4 316.9L679.6 315.1L682.7 315.2ZM702.8 314.7L702.1 314.7L702.9 313.3L695.5 315.1L702.7 317.6L702.0 316.1L702.7 316.2ZM63.2 333.1L62.9 332.4L64.6 332.4L59.1 326.5L60.4 334.4L61.5 333.1L61.8 333.8ZM83.3 331.9L82.7 330.8L84.7 330.8L78.5 324.0L79.9 333.1L81.1 331.6L81.7 332.7ZM103.2 330.8L102.6 329.5L104.6 329.5L98.3 322.6L99.8 331.8L101.0 330.2L101.6 331.6ZM123.2 329.8L122.3 328.2L124.3 328.1L117.8 321.5L119.6 330.6L120.8 329.0L121.6 330.6ZM143.1 328.8L141.9 326.7L143.9 326.6L137.1 320.2L139.3 329.3L140.4 327.6L141.6 329.7ZM163.1 327.9L161.5 325.3L163.4 325.1L156.5 318.9L158.9 327.9L159.9 326.2L161.6 328.9ZM182.8 326.9L180.9 325.8L182.5 324.7L173.5 322.6L179.9 329.3L180.0 327.3L181.9 328.4ZM202.7 326.3L202.1 325.9L203.4 325.1L196.2 323.2L201.2 328.7L201.3 327.2L201.9 327.5ZM222.6 325.7L221.9 325.4L223.1 324.4L216.1 323.4L221.4 328.1L221.4 326.6L222.0 326.9ZM241.5 325.5L241.3 326.3L240.0 325.2L240.6 333.0L244.4 326.2L242.8 326.6L243.0 325.9ZM261.4 325.1L261.3 325.9L259.9 324.9L261.1 333.0L264.5 325.6L262.9 326.1L263.0 325.3ZM281.5 324.8L281.5 325.5L280.1 324.8L282.1 331.7L284.2 324.8L282.9 325.5L282.9 324.8ZM301.4 324.4L301.4 325.2L299.9 324.4L301.9 332.1L304.4 324.5L302.9 325.2L302.9 324.5ZM321.4 324.0L321.2 324.8L319.9 323.8L320.7 331.5L324.3 324.6L322.7 325.0L322.8 324.3ZM342.8 324.2L343.1 323.4L344.4 324.7L344.4 316.4L339.8 323.3L341.6 323.0L341.3 323.7ZM362.5 324.0L362.7 323.5L363.5 324.3L363.6 319.1L360.6 323.4L361.7 323.2L361.6 323.7ZM382.2 323.9L382.3 323.7L382.6 324.1L383.2 321.8L381.4 323.4L381.9 323.5L381.8 323.7ZM402.3 324.0L402.5 323.7L403.0 324.4L403.9 320.6L401.0 323.2L401.9 323.3L401.7 323.6ZM422.5 324.4L423.1 323.9L423.7 325.5L427.4 318.1L420.2 322.2L421.9 322.8L421.4 323.3ZM442.6 324.7L444.2 323.0L444.8 324.9L449.1 316.7L441.0 321.2L442.9 321.8L441.3 323.4ZM462.4 324.0L462.1 323.5L463.4 323.4L458.8 319.4L460.4 325.2L461.1 324.1L461.4 324.6ZM482.1 324.2L481.8 324.0L482.6 323.6L478.5 322.1L481.1 325.6L481.3 324.7L481.6 324.9ZM502.0 324.6L501.6 324.4L502.4 323.8L497.9 322.9L501.2 326.2L501.2 325.2L501.6 325.4ZM521.8 324.8L521.2 324.8L521.7 323.7L516.0 325.6L521.9 327.2L521.3 326.0L521.8 326.0ZM542.1 325.2L541.4 324.9L542.7 323.8L534.8 323.0L540.9 328.0L540.8 326.3L541.5 326.6ZM562.2 326.1L561.8 325.6L563.2 325.1L557.1 321.7L560.3 327.9L560.8 326.5L561.3 327.0ZM582.5 327.5L582.8 326.7L584.0 328.1L584.6 319.7L579.5 326.3L581.3 326.2L581.0 326.9ZM602.5 327.8L602.3 327.0L604.1 327.5L600.4 320.1L599.3 328.3L600.8 327.3L600.9 328.1ZM622.4 328.4L622.0 327.7L623.8 327.6L617.8 321.7L619.6 329.9L620.6 328.4L621.0 329.1ZM641.7 328.8L639.4 328.5L640.5 326.8L631.3 328.3L639.8 332.1L639.2 330.2L641.5 330.5ZM661.6 329.7L655.1 329.8L655.9 328.0L647.1 330.8L656.0 333.4L655.1 331.6L661.6 331.5ZM681.5 330.7L678.4 330.9L679.2 329.1L670.5 332.2L679.5 334.4L678.5 332.7L681.6 332.5ZM701.5 332.1L700.9 332.1L701.5 330.7L694.8 333.0L701.6 334.8L700.9 333.4L701.6 333.4ZM64.5 350.4L64.0 349.7L65.9 349.5L59.6 343.7L61.6 352.0L62.6 350.5L63.0 351.2ZM84.4 349.2L83.0 346.7L84.9 346.6L78.1 340.2L80.3 349.2L81.4 347.6L82.9 350.1ZM104.3 348.1L102.9 345.8L104.9 345.6L98.0 339.4L100.3 348.4L101.4 346.7L102.8 349.0ZM124.2 347.1L123.3 345.6L125.3 345.5L118.3 339.3L120.7 348.2L121.8 346.6L122.7 348.0ZM144.0 346.2L143.6 345.5L145.4 345.4L139.1 339.7L141.2 347.9L142.2 346.4L142.6 347.1ZM163.9 345.2L163.0 344.1L164.9 343.6L157.2 338.5L160.8 347.0L161.6 345.2L162.5 346.3ZM183.5 344.2L182.2 343.6L183.8 342.4L174.6 341.1L181.6 347.2L181.5 345.2L182.7 345.8ZM203.3 343.6L202.6 343.4L203.9 342.4L196.6 341.4L202.1 346.2L202.1 344.6L202.7 344.9ZM223.0 343.0L222.3 342.8L223.3 341.6L216.2 342.4L222.5 345.7L222.1 344.2L222.8 344.3ZM242.1 342.7L241.8 343.3L240.8 341.9L238.9 349.5L244.7 344.2L243.0 344.1L243.4 343.5ZM262.0 342.3L261.7 343.0L260.6 341.7L259.7 349.4L264.7 343.5L263.1 343.6L263.4 342.9ZM281.8 341.9L281.5 342.6L280.4 341.3L279.6 349.5L284.8 343.0L283.0 343.2L283.3 342.5ZM301.7 341.4L301.2 342.3L300.1 340.6L298.0 349.7L304.7 343.3L302.7 343.2L303.2 342.2ZM321.6 341.0L320.2 343.1L319.2 341.3L316.2 350.1L323.6 344.4L321.6 344.1L323.1 342.1ZM341.6 340.8L341.1 341.4L340.4 339.8L337.0 347.5L344.1 342.9L342.3 342.5L342.9 341.9ZM362.5 341.5L362.8 341.1L363.4 342.1L365.0 337.1L360.9 340.3L362.0 340.5L361.7 340.9ZM382.2 341.3L382.4 341.1L382.6 341.7L383.9 339.1L381.4 340.6L382.0 340.7L381.8 341.0ZM402.3 341.4L402.6 341.1L403.0 342.0L404.7 337.7L400.9 340.3L401.9 340.5L401.6 340.9ZM422.4 341.7L422.9 341.1L423.6 342.7L426.8 335.3L420.0 339.7L421.7 340.1L421.2 340.7ZM442.3 341.9L442.8 341.3L443.6 342.8L446.6 335.2L439.8 339.9L441.6 340.3L441.1 340.9ZM462.0 341.3L461.7 341.0L462.7 340.8L458.7 338.1L460.5 342.5L461.0 341.6L461.3 341.9ZM481.7 341.7L481.4 341.5L482.1 341.2L478.9 340.1L480.9 342.7L481.1 342.0L481.3 342.2ZM501.4 342.0L501.1 342.0L501.5 341.4L498.4 341.9L501.3 343.2L501.1 342.6L501.4 342.6ZM521.2 342.2L520.7 342.3L521.1 341.2L516.3 343.2L521.4 344.3L520.8 343.3L521.3 343.3ZM541.1 342.5L540.4 342.6L540.9 341.1L533.9 344.1L541.4 345.4L540.5 344.1L541.3 344.0ZM560.9 343.2L560.3 343.3L560.7 341.9L554.5 345.1L561.5 345.8L560.5 344.6L561.2 344.5ZM580.9 343.7L580.0 343.7L580.8 341.9L572.4 345.2L581.2 347.1L580.2 345.4L581.0 345.4ZM600.7 344.4L595.6 345.4L596.2 343.5L587.9 347.8L597.2 348.7L596.0 347.1L601.0 346.1ZM620.7 345.2L619.4 345.3L620.2 343.4L611.5 346.8L620.6 348.8L619.6 347.1L620.8 347.0ZM640.5 346.1L639.5 346.2L640.1 344.3L631.6 348.2L640.8 349.6L639.7 348.0L640.8 347.8ZM660.5 347.0L658.1 347.2L658.8 345.4L650.1 348.7L659.2 350.7L658.2 349.0L660.6 348.8ZM680.4 348.0L679.3 348.1L680.1 346.3L671.4 349.4L680.4 351.6L679.4 349.9L680.5 349.8ZM700.3 349.4L699.7 349.5L700.2 348.2L694.3 350.3L700.4 351.8L699.7 350.7L700.3 350.6ZM65.7 367.7L65.3 367.0L67.1 366.9L60.9 361.1L62.9 369.3L63.9 367.8L64.3 368.5ZM85.6 366.5L84.8 365.3L86.8 365.1L79.9 358.9L82.2 367.9L83.3 366.2L84.1 367.4ZM105.4 365.4L103.9 363.2L105.9 363.0L98.9 357.0L101.4 365.9L102.5 364.2L103.9 366.4ZM125.2 364.4L124.7 363.7L126.6 363.5L119.8 357.9L122.3 366.3L123.3 364.7L123.7 365.4ZM144.8 363.6L144.4 363.1L145.8 362.8L140.2 358.7L142.7 365.2L143.3 363.9L143.7 364.4ZM164.5 362.5L163.9 362.1L165.5 361.4L158.2 358.5L162.7 364.9L163.0 363.3L163.6 363.7ZM184.2 361.7L183.5 361.4L184.8 360.3L177.1 359.3L183.0 364.4L182.9 362.7L183.6 363.0ZM203.9 360.9L203.2 360.7L204.4 359.5L196.7 359.4L203.0 363.7L202.8 362.1L203.5 362.3ZM223.7 360.4L223.1 360.2L224.1 359.1L217.2 359.0L222.9 362.9L222.7 361.4L223.3 361.6ZM243.0 359.8L242.4 360.1L242.5 358.6L237.1 363.4L244.2 362.3L243.0 361.4L243.6 361.1ZM262.5 359.4L262.0 360.1L261.3 358.4L258.1 366.1L265.0 361.4L263.3 361.1L263.8 360.4ZM282.3 359.2L282.0 359.8L281.0 358.5L279.5 366.1L284.9 360.6L283.3 360.5L283.6 359.9ZM302.0 358.7L301.5 359.6L300.5 357.9L298.1 366.8L305.0 360.7L303.0 360.5L303.5 359.6ZM321.9 358.4L321.0 359.7L320.0 357.9L317.2 366.8L324.4 361.0L322.5 360.7L323.3 359.4ZM341.9 358.2L341.4 358.8L340.8 357.3L337.9 364.2L344.1 360.1L342.5 359.7L343.0 359.1ZM362.9 359.2L363.7 358.3L364.4 360.1L368.6 351.8L360.5 356.5L362.4 357.1L361.6 357.9ZM382.4 358.9L382.8 358.5L383.2 359.7L386.0 354.5L380.8 357.3L382.0 357.7L381.6 358.1ZM402.3 359.0L402.8 358.5L403.3 359.9L406.4 353.9L400.5 357.1L401.9 357.6L401.4 358.1ZM422.3 359.0L422.7 358.4L423.5 360.0L426.3 352.5L419.9 357.2L421.5 357.5L421.1 358.1ZM442.1 359.0L442.3 358.3L443.4 359.4L443.6 352.5L439.6 358.1L441.1 357.9L440.9 358.5ZM461.7 358.6L461.3 358.3L462.4 358.0L457.9 355.2L460.2 360.0L460.6 358.9L460.9 359.3ZM481.3 359.0L481.0 358.9L481.6 358.4L478.4 357.8L480.7 360.1L480.7 359.4L481.0 359.6ZM501.0 359.3L500.6 359.3L501.0 358.6L497.6 359.3L500.8 360.7L500.6 359.9L500.9 360.0ZM520.7 359.6L520.2 359.6L520.6 358.6L515.8 360.5L520.9 361.6L520.3 360.6L520.8 360.6ZM540.5 359.9L539.7 360.0L540.2 358.4L533.3 361.7L540.9 362.8L539.9 361.4L540.7 361.3ZM560.2 360.4L559.4 360.5L559.9 358.8L552.4 362.8L560.9 363.6L559.7 362.1L560.5 362.0ZM580.1 361.0L577.1 361.4L577.7 359.5L569.3 363.6L578.6 364.8L577.4 363.2L580.3 362.7ZM599.8 361.7L597.1 362.2L597.6 360.3L589.4 364.6L598.6 365.6L597.4 364.0L600.2 363.5ZM619.7 362.5L618.8 362.6L619.5 360.8L611.1 364.6L620.2 366.0L619.1 364.4L620.0 364.3ZM639.5 363.4L637.6 363.7L638.2 361.8L629.8 365.7L639.0 367.1L637.9 365.4L639.8 365.1ZM659.4 364.3L658.2 364.5L658.9 362.6L650.4 366.3L659.5 367.9L658.4 366.2L659.6 366.1ZM679.2 365.4L678.4 365.4L679.1 363.6L670.5 366.7L679.4 368.8L678.5 367.1L679.3 367.1ZM699.1 366.6L698.4 366.7L699.0 365.2L692.1 367.6L699.2 369.4L698.4 368.0L699.1 368.0ZM67.0 385.0L66.5 384.3L68.4 384.2L62.1 378.4L64.1 386.7L65.1 385.2L65.5 385.9ZM86.7 383.9L86.3 383.2L88.0 383.1L81.9 377.5L84.0 385.5L84.9 384.0L85.3 384.7ZM106.5 382.8L104.9 380.4L106.9 380.2L99.8 374.1L102.4 383.1L103.4 381.3L105.0 383.7ZM126.1 381.8L125.7 381.2L127.5 380.9L121.1 375.6L123.5 383.6L124.4 382.0L124.8 382.7ZM145.7 380.9L145.2 380.4L146.6 380.1L141.0 376.7L143.8 382.6L144.3 381.3L144.7 381.8ZM165.3 379.8L164.6 379.5L165.9 378.5L158.2 377.2L163.9 382.5L163.9 380.8L164.6 381.2ZM184.9 379.0L184.1 378.8L185.2 377.6L177.5 377.9L184.1 381.9L183.8 380.2L184.5 380.4ZM204.5 378.3L203.9 378.2L204.8 377.0L197.9 377.7L204.0 381.0L203.6 379.5L204.3 379.7ZM224.3 377.6L223.5 377.4L224.6 376.1L216.4 376.9L223.7 380.7L223.2 379.0L224.0 379.1ZM243.6 377.2L243.0 377.5L242.9 376.0L238.0 381.1L244.9 379.6L243.6 378.7L244.2 378.4ZM262.9 377.2L262.8 378.0L261.4 377.0L262.7 384.7L265.9 377.6L264.3 378.1L264.4 377.4ZM282.5 376.9L282.5 377.7L280.9 376.8L283.0 385.3L285.9 377.0L284.2 377.8L284.2 376.9ZM302.5 376.2L302.1 376.8L301.2 375.5L299.5 383.0L305.0 377.6L303.4 377.5L303.7 376.9ZM322.3 375.8L321.8 376.4L321.1 374.9L318.3 382.0L324.6 377.6L323.0 377.3L323.4 376.7ZM343.3 376.3L343.5 375.6L344.8 376.8L345.0 368.8L340.4 375.3L342.1 375.1L341.9 375.8ZM363.0 376.1L363.1 375.4L364.3 376.4L363.9 369.3L360.3 375.5L361.8 375.1L361.7 375.8ZM382.5 376.0L382.6 375.6L383.3 376.4L383.8 371.6L380.8 375.3L381.8 375.3L381.6 375.7ZM402.2 376.2L402.5 375.8L403.0 376.8L404.9 371.7L400.5 374.9L401.7 375.1L401.4 375.6ZM422.1 376.2L422.4 375.6L423.3 376.8L424.3 370.2L419.8 375.1L421.2 375.1L421.0 375.7ZM441.9 375.8L441.6 375.1L443.2 375.1L438.0 369.8L439.4 377.1L440.3 375.8L440.6 376.4ZM461.0 375.8L460.4 375.8L461.0 374.6L455.3 376.3L461.0 378.0L460.4 376.9L461.0 376.9ZM480.7 376.2L480.2 376.2L480.6 375.3L476.3 377.3L480.9 377.9L480.4 377.1L480.8 377.1ZM500.4 376.5L499.9 376.5L500.3 375.5L495.5 377.5L500.6 378.5L500.0 377.5L500.5 377.5ZM520.2 376.8L519.6 376.9L520.0 375.7L514.3 378.1L520.4 379.2L519.7 378.1L520.3 378.0ZM539.8 377.3L539.2 377.4L539.6 375.9L533.2 379.1L540.3 380.0L539.4 378.7L540.1 378.6ZM559.6 377.8L558.8 377.9L559.3 376.4L552.5 379.9L560.1 380.7L559.1 379.4L559.8 379.2ZM579.3 378.3L578.3 378.5L578.9 376.6L570.6 380.8L579.9 381.8L578.7 380.2L579.6 380.1ZM599.0 379.1L598.3 379.3L598.8 377.6L591.6 381.2L599.6 382.2L598.5 380.8L599.3 380.7ZM618.8 379.8L616.9 380.1L617.5 378.2L609.1 382.2L618.3 383.5L617.1 381.9L619.0 381.6ZM638.5 380.7L636.5 381.0L637.2 379.1L628.7 383.0L637.9 384.4L636.8 382.7L638.8 382.4ZM658.3 381.6L657.0 381.8L657.7 379.9L649.1 383.5L658.3 385.2L657.2 383.5L658.5 383.4ZM678.1 382.7L677.3 382.7L678.0 381.1L669.9 384.0L678.3 386.0L677.3 384.4L678.2 384.3ZM697.8 383.9L697.1 383.9L697.8 382.5L690.7 385.0L698.0 386.8L697.2 385.4L697.9 385.3ZM68.2 402.4L67.8 401.7L69.6 401.5L63.2 395.8L65.4 404.1L66.4 402.5L66.8 403.2ZM87.9 401.2L87.1 399.9L89.1 399.7L82.0 393.6L84.6 402.6L85.6 400.9L86.4 402.1ZM107.6 400.1L106.5 398.5L108.4 398.2L101.3 392.3L104.0 401.2L105.0 399.4L106.1 401.1ZM127.0 399.2L126.6 398.7L128.2 398.4L122.5 394.0L124.8 400.8L125.5 399.5L125.9 400.0ZM146.6 398.1L146.0 397.7L147.6 397.0L140.5 394.0L144.7 400.4L145.1 398.8L145.7 399.3ZM166.0 397.2L165.4 397.0L166.4 396.0L159.5 395.9L165.2 399.7L165.0 398.3L165.6 398.5ZM185.6 396.4L184.9 396.3L185.9 395.0L178.7 395.7L185.1 399.1L184.7 397.6L185.3 397.7ZM205.3 395.7L204.6 395.6L205.5 394.4L198.6 395.1L204.7 398.3L204.3 396.9L205.0 397.0ZM224.8 395.1L224.2 395.0L225.0 393.7L218.2 395.1L224.6 397.7L224.1 396.3L224.7 396.4ZM244.0 394.6L243.4 395.0L243.1 393.3L238.4 399.7L245.8 397.0L244.3 396.2L244.9 395.8ZM263.6 394.6L263.5 395.0L262.7 394.4L263.2 399.4L265.5 394.9L264.5 395.2L264.6 394.8ZM283.4 394.2L283.3 394.6L282.6 394.0L282.8 398.2L285.0 394.5L284.1 394.7L284.2 394.3ZM303.1 393.3L302.5 393.6L302.6 392.1L297.5 396.7L304.3 395.7L303.1 394.8L303.7 394.5ZM323.4 393.0L322.8 392.7L324.1 391.8L316.9 390.2L322.1 395.5L322.1 393.9L322.7 394.2ZM343.3 393.7L343.6 393.1L344.5 394.3L345.7 387.7L341.0 392.5L342.5 392.5L342.2 393.1ZM362.8 393.4L362.9 393.0L363.6 393.6L363.4 389.4L361.2 393.0L362.1 392.8L362.0 393.2ZM382.3 393.1L382.3 392.9L382.9 393.0L381.2 390.5L381.2 393.5L381.7 393.0L381.8 393.3ZM402.1 393.1L402.0 392.7L403.0 392.9L400.7 389.0L400.5 393.5L401.2 392.9L401.3 393.3ZM421.9 393.1L421.7 392.5L423.0 392.6L419.2 388.0L419.8 394.0L420.6 393.0L420.9 393.5ZM441.1 392.9L440.6 392.8L441.3 391.8L435.6 392.5L440.8 395.1L440.4 393.9L441.0 394.0ZM460.6 393.2L460.2 393.3L460.4 392.3L456.2 394.6L461.0 395.0L460.3 394.2L460.8 394.1ZM480.3 393.5L479.8 393.6L480.0 392.4L475.3 395.1L480.7 395.5L480.0 394.6L480.5 394.5ZM499.9 393.7L499.3 393.8L499.6 392.5L493.9 395.7L500.4 396.2L499.5 395.1L500.2 394.9ZM519.5 394.1L518.9 394.3L519.2 392.8L513.2 396.3L520.1 396.7L519.2 395.6L519.8 395.4ZM539.2 394.6L538.5 394.8L538.9 393.3L532.6 396.9L539.8 397.3L538.8 396.1L539.5 395.9ZM558.8 395.1L558.0 395.3L558.3 393.6L551.4 398.1L559.7 398.1L558.5 396.8L559.2 396.6ZM578.5 395.8L577.8 396.0L578.1 394.4L571.7 398.6L579.3 398.6L578.2 397.4L578.9 397.2ZM598.1 396.4L597.2 396.6L597.7 394.6L589.6 399.2L598.8 399.8L597.6 398.3L598.5 398.1ZM617.8 397.1L616.2 397.5L616.7 395.5L608.6 400.0L617.8 400.8L616.6 399.2L618.2 398.9ZM637.5 398.0L635.2 398.3L635.8 396.5L627.4 400.4L636.6 401.7L635.4 400.1L637.8 399.8ZM657.2 398.9L655.9 399.0L656.6 397.2L648.0 400.7L657.1 402.5L656.1 400.8L657.4 400.7ZM676.9 399.9L673.6 400.1L674.4 398.3L665.6 401.4L674.7 403.6L673.7 401.9L677.0 401.7ZM696.6 401.0L695.5 401.1L696.3 399.2L687.6 402.3L696.6 404.6L695.6 402.8L696.7 402.8ZM69.4 419.7L69.0 419.0L70.8 418.8L64.3 413.3L66.7 421.5L67.6 419.9L68.1 420.6ZM89.1 418.5L88.2 417.2L90.1 416.9L82.9 411.1L85.7 420.0L86.7 418.2L87.6 419.5ZM108.6 417.4L107.6 416.1L109.6 415.7L102.1 410.2L105.3 418.9L106.2 417.2L107.2 418.5ZM128.0 416.5L127.6 416.0L129.0 415.7L123.2 411.8L126.0 418.2L126.6 416.9L127.0 417.4ZM147.5 415.4L146.8 415.0L148.2 414.1L140.6 412.2L145.9 418.0L146.1 416.3L146.7 416.7ZM166.8 414.5L166.1 414.3L167.2 413.1L159.7 413.5L166.2 417.3L165.8 415.7L166.5 415.9ZM186.4 413.7L185.7 413.6L186.7 412.3L179.0 413.0L185.8 416.6L185.4 415.0L186.1 415.1ZM206.0 413.0L205.2 412.8L206.3 411.5L198.4 412.3L205.4 415.9L204.9 414.3L205.7 414.5ZM225.5 412.4L224.8 412.4L225.6 411.1L218.9 412.5L225.3 415.0L224.7 413.7L225.4 413.7ZM244.7 411.8L244.0 412.1L244.2 410.4L238.0 415.2L245.8 414.6L244.6 413.5L245.3 413.2ZM264.4 411.7L264.0 411.9L263.9 411.0L261.0 414.3L265.3 413.1L264.5 412.6L264.8 412.4ZM284.2 411.2L283.8 411.2L284.3 410.4L280.3 411.3L284.1 412.8L283.7 412.0L284.1 412.0ZM303.9 410.6L303.2 410.4L304.1 409.2L296.9 409.9L303.4 413.3L302.9 411.8L303.6 412.0ZM323.6 410.3L322.9 410.1L324.0 409.0L316.7 408.8L322.7 413.0L322.4 411.4L323.1 411.6ZM343.4 410.9L343.6 410.4L344.5 411.2L344.2 405.4L341.3 410.4L342.5 410.1L342.4 410.7ZM362.9 410.6L362.8 410.2L363.7 410.5L361.9 406.7L361.3 410.8L362.0 410.3L362.1 410.7ZM382.2 410.3L382.0 410.2L382.5 409.9L379.8 409.2L381.7 411.3L381.7 410.7L381.9 410.8ZM401.9 410.2L401.5 410.0L402.4 409.5L398.0 408.1L400.9 411.7L401.0 410.7L401.4 411.0ZM421.5 410.1L420.9 409.9L421.9 409.0L415.7 408.5L420.6 412.3L420.5 411.0L421.0 411.2ZM440.8 410.4L440.3 410.4L440.8 409.4L436.3 411.1L440.9 412.2L440.4 411.3L440.9 411.3ZM460.3 410.6L460.0 410.7L460.2 409.9L456.6 411.8L460.7 412.2L460.1 411.5L460.5 411.4ZM479.9 410.8L479.4 410.9L479.7 409.8L475.0 412.4L480.3 412.8L479.6 411.9L480.1 411.8ZM499.4 411.0L498.8 411.2L499.1 409.7L493.0 413.3L500.1 413.6L499.1 412.5L499.7 412.3ZM519.0 411.4L518.3 411.6L518.7 410.1L512.5 413.8L519.7 414.1L518.7 412.9L519.3 412.8ZM538.6 411.9L537.8 412.0L538.3 410.4L531.2 414.1L539.2 414.9L538.1 413.5L538.9 413.4ZM558.1 412.4L557.4 412.7L557.7 411.0L551.0 415.4L559.0 415.4L557.8 414.1L558.6 413.9ZM577.7 413.1L577.0 413.4L577.2 411.8L571.1 416.3L578.7 415.9L577.5 414.8L578.2 414.5ZM597.3 413.7L596.5 413.9L597.0 412.1L589.3 416.2L598.0 417.0L596.8 415.5L597.7 415.4ZM616.9 414.5L615.7 414.7L616.2 412.8L608.1 417.3L617.3 418.0L616.1 416.5L617.3 416.2ZM636.5 415.3L634.8 415.6L635.4 413.7L627.0 417.6L636.2 418.9L635.1 417.3L636.8 417.1ZM656.2 416.2L653.0 416.5L653.7 414.7L645.1 418.2L654.3 420.0L653.2 418.3L656.3 418.0ZM675.8 417.2L669.2 417.8L670.0 415.9L661.3 419.3L670.4 421.2L669.4 419.5L675.9 419.0ZM695.4 418.3L694.1 418.4L694.9 416.5L686.2 419.7L695.2 421.9L694.2 420.1L695.5 420.1ZM70.7 437.1L70.3 436.4L72.0 436.3L66.0 430.8L68.0 438.7L68.9 437.2L69.3 437.9ZM90.3 435.9L88.9 433.8L90.9 433.6L83.8 427.5L86.4 436.5L87.4 434.7L88.8 436.8ZM109.7 434.8L108.7 433.4L110.6 433.0L103.2 427.5L106.4 436.2L107.3 434.4L108.3 435.8ZM129.1 433.8L128.6 433.2L130.4 432.8L123.5 428.0L126.6 435.8L127.4 434.2L127.9 434.8ZM148.3 432.7L147.7 432.4L148.9 431.4L141.5 430.3L147.1 435.4L147.1 433.7L147.7 434.1ZM167.7 431.8L166.9 431.6L168.0 430.3L159.9 430.9L167.0 434.9L166.6 433.2L167.4 433.3ZM187.2 431.0L186.5 430.9L187.5 429.6L179.7 430.2L186.6 434.0L186.1 432.4L186.9 432.5ZM206.7 430.3L205.9 430.2L206.9 428.8L199.1 429.8L206.2 433.3L205.7 431.7L206.4 431.8ZM226.1 429.7L225.4 429.7L226.1 428.3L219.1 430.4L226.0 432.5L225.3 431.1L226.0 431.1ZM245.4 429.1L244.7 429.2L245.2 427.6L238.0 431.0L245.9 432.2L244.9 430.8L245.7 430.6ZM265.0 428.7L264.3 428.8L264.8 427.3L257.9 430.2L265.3 431.5L264.4 430.2L265.1 430.1ZM284.7 428.3L284.0 428.2L284.9 426.9L277.6 427.9L284.2 431.1L283.8 429.6L284.5 429.7ZM304.2 427.9L303.5 427.8L304.5 426.5L297.1 427.3L303.7 430.7L303.2 429.2L303.9 429.3ZM323.7 427.8L323.1 427.6L323.9 426.6L317.6 427.2L323.2 430.1L322.9 428.8L323.5 428.9ZM343.2 427.7L342.8 427.5L343.5 426.8L338.6 426.7L342.6 429.5L342.5 428.4L342.9 428.6ZM362.8 427.6L362.4 427.4L363.3 426.8L358.6 425.7L361.9 429.2L362.0 428.2L362.4 428.4ZM382.3 427.5L381.9 427.3L382.7 426.7L378.1 425.9L381.5 429.1L381.5 428.1L381.9 428.3ZM401.7 427.4L401.2 427.3L402.0 426.4L396.4 426.5L401.2 429.5L400.9 428.3L401.5 428.5ZM421.1 427.4L420.5 427.4L421.2 426.3L415.3 427.8L421.0 429.8L420.5 428.6L421.1 428.6ZM440.5 427.7L440.1 427.8L440.3 426.9L436.4 429.1L440.9 429.4L440.3 428.7L440.7 428.6ZM460.0 428.0L459.6 428.1L459.8 427.3L456.5 429.5L460.4 429.5L459.9 428.8L460.2 428.7ZM479.5 428.2L479.0 428.3L479.2 427.3L475.0 430.1L480.0 430.0L479.3 429.3L479.8 429.1ZM498.9 428.4L498.3 428.7L498.4 427.2L493.2 431.4L499.8 430.8L498.8 429.8L499.4 429.6ZM518.4 428.7L517.7 429.0L517.9 427.3L511.5 431.9L519.4 431.6L518.2 430.4L518.9 430.2ZM537.9 429.1L537.1 429.3L537.6 427.5L529.8 431.8L538.7 432.4L537.5 431.0L538.3 430.8ZM557.0 429.9L555.8 430.9L555.3 429.0L550.5 437.0L558.9 433.0L557.0 432.3L558.2 431.2ZM576.4 430.7L575.4 432.1L574.4 430.4L571.8 439.3L578.9 433.3L576.9 433.1L577.9 431.6ZM596.4 431.0L595.3 431.3L595.8 429.3L587.8 434.1L597.1 434.5L595.8 433.0L596.9 432.7ZM615.9 431.8L614.6 432.1L615.0 430.2L607.1 435.0L616.3 435.4L615.0 433.9L616.4 433.5ZM635.5 432.6L634.1 432.8L634.7 430.9L626.3 434.9L635.5 436.2L634.3 434.6L635.8 434.4ZM655.1 433.5L652.2 433.8L652.9 432.0L644.3 435.5L653.4 437.3L652.3 435.6L655.3 435.3ZM674.6 434.5L668.9 435.1L669.6 433.2L661.0 436.7L670.1 438.5L669.0 436.8L674.8 436.3ZM694.1 435.6L693.0 435.7L693.7 433.8L685.0 437.1L694.1 439.2L693.1 437.4L694.2 437.4ZM71.9 454.4L71.5 453.8L73.2 453.7L67.4 448.2L69.3 456.0L70.2 454.5L70.6 455.2ZM91.4 453.2L90.2 451.2L92.2 451.0L85.3 444.8L87.6 453.8L88.7 452.1L89.9 454.2ZM110.8 452.1L110.3 451.5L112.1 451.1L105.0 445.9L108.1 454.2L108.9 452.5L109.4 453.2ZM130.1 451.2L129.6 450.7L131.1 450.3L125.0 446.4L128.0 453.0L128.6 451.6L129.0 452.1ZM149.2 450.2L148.6 449.9L149.7 449.0L143.0 448.3L148.2 452.6L148.1 451.1L148.7 451.4ZM168.5 449.2L167.9 449.1L168.8 447.9L161.7 448.5L168.0 451.9L167.6 450.4L168.3 450.6ZM188.0 448.4L187.2 448.2L188.3 446.9L180.3 447.6L187.3 451.4L186.9 449.7L187.7 449.9ZM207.3 447.8L206.7 447.7L207.5 446.4L200.5 447.5L207.0 450.5L206.5 449.0L207.2 449.1ZM226.6 447.1L225.9 447.1L226.5 445.6L219.4 448.2L226.8 450.0L226.0 448.6L226.7 448.5ZM246.0 446.6L245.4 446.6L245.9 445.2L239.4 447.9L246.3 449.3L245.5 448.0L246.2 447.9ZM265.5 446.1L264.8 446.1L265.3 444.7L258.8 447.4L265.7 448.8L264.9 447.5L265.6 447.4ZM285.0 445.7L284.3 445.6L285.0 444.3L278.2 446.1L284.9 448.4L284.3 447.0L284.9 447.0ZM304.5 445.3L303.8 445.2L304.6 443.9L297.4 445.3L304.2 448.1L303.6 446.6L304.3 446.7ZM323.9 445.2L323.4 445.1L324.0 444.2L318.8 445.0L323.6 447.2L323.2 446.1L323.7 446.2ZM343.3 445.1L342.9 445.0L343.4 444.3L339.2 444.9L343.1 446.7L342.8 445.8L343.2 445.9ZM362.8 444.8L362.2 444.7L363.0 443.7L357.2 444.3L362.3 447.0L362.0 445.8L362.6 445.9ZM382.2 444.7L381.6 444.6L382.4 443.4L375.8 444.3L381.8 447.2L381.4 445.8L382.0 445.9ZM401.6 444.6L400.9 444.5L401.8 443.2L394.5 444.5L401.3 447.4L400.7 445.9L401.5 446.0ZM420.9 444.7L420.3 444.8L420.8 443.5L414.6 446.1L421.2 447.3L420.4 446.1L421.0 446.0ZM440.2 445.0L439.6 445.2L439.7 443.8L434.8 447.8L441.1 447.2L440.1 446.3L440.6 446.1ZM459.6 445.3L459.1 445.5L459.1 444.3L455.2 448.2L460.6 447.1L459.6 446.4L460.1 446.2ZM478.9 445.5L478.5 445.8L478.4 444.6L474.6 449.0L480.1 447.4L479.1 446.8L479.5 446.5ZM498.2 445.8L497.7 446.3L497.3 444.7L493.2 450.8L500.0 448.0L498.6 447.4L499.1 446.9ZM517.6 446.3L517.2 446.8L516.7 445.4L513.4 451.5L519.5 448.2L518.1 447.7L518.6 447.3ZM536.8 446.8L535.9 448.4L534.8 446.7L532.8 455.8L539.4 449.4L537.4 449.3L538.3 447.7ZM556.1 447.8L555.9 452.6L554.2 451.7L556.5 460.7L559.5 451.9L557.7 452.7L557.8 447.9ZM575.5 448.4L575.2 451.6L573.5 450.5L575.2 459.7L578.8 451.1L576.9 451.8L577.3 448.6ZM595.0 448.9L594.5 450.2L593.1 448.8L592.8 458.1L598.2 450.5L596.2 450.7L596.7 449.5ZM614.8 449.3L614.1 449.8L613.8 447.9L608.5 454.6L616.6 452.0L615.0 451.1L615.7 450.6ZM634.5 450.0L633.7 450.2L634.1 448.5L627.0 452.6L635.2 453.1L634.1 451.7L634.8 451.6ZM654.0 450.8L652.4 451.0L653.1 449.1L644.5 452.7L653.6 454.4L652.5 452.8L654.2 452.6ZM673.5 451.8L669.1 452.0L669.9 450.2L661.2 453.3L670.2 455.6L669.2 453.8L673.6 453.6ZM692.9 452.9L691.4 452.9L692.2 451.1L683.4 454.3L692.5 456.5L691.5 454.7L693.0 454.6ZM73.2 471.7L72.7 471.0L74.5 470.8L67.8 465.3L70.5 473.6L71.3 471.9L71.8 472.6ZM92.6 470.5L91.8 469.5L93.8 469.1L86.3 463.7L89.5 472.4L90.4 470.6L91.1 471.6ZM111.7 469.5L111.2 469.0L112.6 468.5L106.2 465.5L109.8 471.5L110.2 470.0L110.7 470.5ZM130.9 468.3L130.3 467.9L131.7 467.0L123.8 465.1L129.4 471.0L129.5 469.3L130.2 469.7ZM150.1 467.3L149.3 467.1L150.5 465.7L141.9 466.0L149.3 470.5L148.9 468.7L149.7 468.9ZM169.4 466.4L168.6 466.3L169.7 464.8L161.0 465.8L168.8 469.7L168.3 467.9L169.1 468.1ZM188.7 465.6L186.9 465.3L188.0 463.7L178.8 465.1L187.2 469.0L186.6 467.1L188.5 467.4ZM208.0 464.9L204.4 464.9L205.3 463.1L196.4 465.6L205.3 468.4L204.4 466.6L207.9 466.7ZM227.2 464.3L225.5 464.5L226.2 462.6L217.6 466.2L226.7 467.9L225.7 466.2L227.4 466.1ZM246.6 463.7L245.5 463.8L246.2 462.0L237.6 465.5L246.7 467.3L245.6 465.6L246.7 465.5ZM265.9 463.4L265.2 463.4L265.8 461.8L258.3 464.9L266.2 466.4L265.3 465.0L266.1 464.9ZM285.4 462.9L284.6 462.9L285.5 461.4L277.7 463.2L285.2 466.0L284.5 464.4L285.3 464.5ZM304.8 462.6L304.0 462.5L304.9 461.1L297.3 462.6L304.5 465.6L303.9 464.0L304.6 464.1ZM324.1 462.4L323.5 462.4L324.2 461.2L317.7 462.5L323.9 465.0L323.4 463.7L324.0 463.7ZM343.5 462.3L342.9 462.2L343.6 461.2L337.8 462.1L343.2 464.5L342.8 463.3L343.3 463.4ZM362.8 462.0L362.1 462.0L362.8 460.6L355.6 462.5L362.7 464.9L362.0 463.4L362.7 463.4ZM382.1 461.9L381.3 461.9L382.0 460.3L374.2 463.2L382.3 465.0L381.4 463.5L382.2 463.4ZM401.3 461.9L400.6 462.1L400.9 460.5L394.4 464.7L402.1 464.8L401.0 463.6L401.7 463.4ZM420.4 462.0L419.7 462.4L419.6 460.4L413.1 466.7L422.0 465.0L420.4 463.9L421.2 463.5ZM439.7 462.1L437.3 463.5L437.2 461.5L430.8 468.2L439.9 466.1L438.2 465.0L440.6 463.6ZM459.1 462.4L458.4 462.9L458.2 461.1L452.8 467.6L460.9 465.1L459.3 464.2L460.0 463.7ZM478.4 462.8L477.8 463.3L477.4 461.7L473.3 468.4L480.4 465.0L478.8 464.4L479.4 463.9ZM497.7 463.2L497.2 463.8L496.6 462.3L493.4 469.1L499.8 465.1L498.3 464.7L498.8 464.2ZM517.0 463.7L516.6 464.3L515.8 463.0L513.7 469.9L519.3 465.3L517.8 465.1L518.2 464.5ZM536.1 464.2L534.7 466.7L533.6 465.1L531.5 474.1L538.2 467.7L536.2 467.6L537.7 465.1ZM555.4 464.9L553.6 470.8L552.2 469.4L552.2 478.7L557.3 471.0L555.3 471.3L557.1 465.4ZM574.8 465.6L574.1 468.3L572.6 467.1L573.2 476.3L577.8 468.2L575.9 468.7L576.5 466.0ZM594.2 466.3L593.9 467.1L592.5 465.8L592.8 474.7L597.4 467.2L595.6 467.5L595.8 466.7ZM613.7 466.8L613.2 467.3L612.6 465.7L609.1 473.1L616.1 468.8L614.4 468.4L614.9 467.8ZM633.4 467.3L632.6 467.6L632.9 465.8L626.0 470.7L634.5 470.4L633.2 469.1L633.9 468.9ZM652.9 468.1L650.7 468.4L651.4 466.5L642.8 470.0L652.0 471.8L650.9 470.1L653.1 469.9ZM672.3 469.1L666.1 469.4L666.9 467.6L658.1 470.7L667.2 472.9L666.2 471.2L672.4 470.9ZM691.7 470.2L690.8 470.3L691.6 468.5L683.4 471.5L691.9 473.5L690.9 471.9L691.8 471.9ZM74.2 488.8L73.3 488.1L75.0 487.1L66.1 484.5L72.1 491.6L72.3 489.6L73.3 490.2ZM93.4 487.6L92.1 487.0L93.6 485.7L84.4 484.6L91.5 490.6L91.4 488.6L92.7 489.2ZM112.3 486.6L111.6 486.5L112.4 485.0L104.4 486.9L112.2 489.7L111.5 488.1L112.2 488.1ZM131.6 485.7L130.9 485.7L131.6 484.4L124.9 486.3L131.5 488.4L130.9 487.0L131.6 487.0ZM150.9 484.7L150.1 484.6L150.9 483.1L143.0 485.2L150.8 487.8L150.0 486.2L150.8 486.2ZM170.1 483.8L169.3 483.8L170.1 482.1L161.6 484.7L170.1 487.2L169.3 485.5L170.1 485.5ZM189.4 483.0L186.1 483.1L186.9 481.3L178.1 484.3L187.1 486.6L186.2 484.9L189.4 484.7ZM208.6 482.3L203.4 482.8L204.2 480.9L195.6 484.4L204.7 486.2L203.6 484.6L208.8 484.0ZM227.8 481.6L224.4 482.1L225.0 480.2L216.5 483.9L225.7 485.5L224.6 483.8L228.0 483.4ZM247.1 481.1L245.4 481.3L246.0 479.4L237.5 483.2L246.7 484.7L245.6 483.1L247.3 482.9ZM266.4 480.6L265.5 480.7L266.2 479.0L258.1 482.5L266.8 484.0L265.7 482.4L266.6 482.3ZM285.8 480.4L285.1 480.4L285.8 479.0L278.9 480.9L285.7 483.1L285.1 481.7L285.7 481.8ZM305.1 479.9L304.3 479.9L305.2 478.4L297.3 480.1L304.8 483.0L304.2 481.4L305.0 481.5ZM324.2 479.7L323.5 479.8L324.1 478.2L316.8 481.1L324.5 482.7L323.6 481.3L324.4 481.2ZM343.5 479.5L342.7 479.6L343.3 477.9L335.9 481.1L343.9 482.5L342.9 481.1L343.7 481.0ZM362.7 479.4L362.0 479.5L362.4 478.0L355.7 481.7L363.3 482.2L362.3 481.0L363.0 480.8ZM381.8 479.3L381.1 479.5L381.3 477.8L374.6 482.8L383.0 482.3L381.6 481.0L382.4 480.8ZM401.0 479.3L400.3 479.7L400.3 477.9L394.3 483.8L402.5 482.1L401.1 481.1L401.8 480.7ZM420.2 479.3L417.0 481.1L416.9 479.1L410.5 485.8L419.6 483.8L417.9 482.7L421.1 480.9ZM439.5 479.5L435.6 481.8L435.4 479.8L429.1 486.6L438.1 484.4L436.5 483.3L440.4 481.0ZM458.7 479.7L455.5 482.2L455.1 480.3L449.8 487.9L458.4 484.5L456.6 483.6L459.8 481.1ZM477.8 480.1L475.3 483.0L474.6 481.2L470.9 489.7L478.6 484.7L476.7 484.2L479.2 481.3ZM497.1 480.5L496.0 481.9L495.1 480.1L491.6 488.7L499.3 483.4L497.3 483.0L498.5 481.6ZM516.3 481.0L515.2 482.6L514.2 480.9L511.3 489.7L518.6 483.9L516.6 483.6L517.8 482.0ZM535.6 481.5L532.6 486.2L531.6 484.5L529.1 493.5L536.1 487.3L534.1 487.2L537.1 482.4ZM554.8 482.1L552.1 486.7L551.0 485.1L548.9 494.1L555.7 487.7L553.7 487.6L556.4 482.9ZM574.1 482.7L573.0 484.7L571.8 483.0L569.8 492.1L576.5 485.7L574.5 485.6L575.6 483.6ZM593.6 483.4L593.2 484.0L592.4 482.6L590.1 489.6L595.9 485.0L594.3 484.8L594.7 484.2ZM613.0 484.0L612.4 484.4L612.2 482.8L607.3 488.5L614.6 486.4L613.2 485.6L613.8 485.2ZM632.5 484.8L631.8 485.0L632.1 483.5L626.2 487.3L633.2 487.4L632.2 486.3L632.9 486.1ZM651.9 485.4L649.5 485.7L650.2 483.8L641.6 487.5L650.8 489.1L649.7 487.5L652.1 487.2ZM671.2 486.4L667.2 486.7L668.0 484.8L659.3 488.1L668.4 490.2L667.4 488.5L671.3 488.2ZM690.4 487.4L689.0 487.5L689.8 485.7L681.1 489.0L690.1 491.0L689.1 489.3L690.6 489.2ZM75.4 506.1L73.7 505.1L75.4 504.0L66.3 501.9L72.7 508.6L72.8 506.6L74.6 507.6ZM94.6 504.9L93.4 504.3L95.0 503.1L85.8 501.5L92.6 507.9L92.6 505.9L93.8 506.5ZM113.3 504.0L112.7 504.1L113.2 502.7L106.8 505.3L113.6 506.7L112.8 505.4L113.5 505.4ZM132.5 503.0L131.8 503.1L132.4 501.7L125.8 504.3L132.8 505.8L132.0 504.5L132.6 504.4ZM151.7 502.0L151.0 502.1L151.6 500.5L144.1 503.3L151.9 505.1L151.1 503.6L151.8 503.6ZM170.9 501.2L170.1 501.3L170.8 499.6L163.2 502.7L171.2 504.3L170.3 502.8L171.1 502.8ZM190.1 500.3L187.6 500.6L188.3 498.7L179.7 502.3L188.9 504.0L187.8 502.4L190.3 502.1ZM209.3 499.6L205.8 500.1L206.4 498.2L197.9 502.0L207.1 503.5L206.0 501.8L209.5 501.4ZM228.5 499.0L227.6 499.1L228.3 497.4L220.1 500.8L228.8 502.4L227.8 500.8L228.7 500.7ZM247.7 498.5L246.9 498.6L247.5 496.9L239.8 500.3L248.1 501.7L247.1 500.2L247.9 500.1ZM266.8 498.0L266.0 498.1L266.6 496.3L258.6 500.1L267.3 501.4L266.3 499.8L267.1 499.7ZM286.0 497.6L285.2 497.7L285.8 496.0L277.9 499.7L286.5 500.9L285.5 499.4L286.3 499.3ZM305.2 497.3L304.4 497.4L305.0 495.6L297.1 499.3L305.7 500.6L304.6 499.0L305.5 498.9ZM324.4 497.1L323.8 497.2L324.2 495.8L317.7 498.8L324.9 499.9L324.0 498.6L324.7 498.5ZM343.6 496.9L342.9 497.0L343.4 495.4L336.4 498.9L344.1 499.8L343.1 498.5L343.9 498.3ZM362.6 496.7L361.8 497.0L362.0 495.1L355.0 500.7L363.9 499.8L362.5 498.6L363.3 498.2ZM381.8 496.6L381.0 497.0L381.1 495.1L374.5 501.0L383.2 499.7L381.7 498.5L382.5 498.1ZM401.0 496.5L398.5 497.5L398.7 495.6L391.4 501.3L400.7 500.5L399.2 499.2L401.7 498.2ZM420.1 496.7L416.5 498.6L416.4 496.6L409.9 503.3L419.0 501.3L417.4 500.2L421.0 498.2ZM439.2 496.8L435.8 499.1L435.5 497.2L429.6 504.3L438.5 501.6L436.7 500.6L440.2 498.3ZM458.2 497.2L454.8 501.4L454.0 499.6L450.5 508.2L458.2 503.0L456.2 502.5L459.6 498.3ZM477.4 497.5L475.1 500.6L474.2 498.8L470.9 507.5L478.4 502.0L476.5 501.7L478.8 498.6ZM496.6 497.8L494.3 500.8L493.5 499.0L490.1 507.7L497.7 502.3L495.7 501.9L498.0 498.9ZM515.8 498.3L513.3 501.8L512.4 500.0L509.4 508.8L516.7 503.1L514.8 502.8L517.2 499.3ZM535.0 498.8L531.9 503.5L530.9 501.8L528.2 510.7L535.3 504.8L533.3 504.5L536.4 499.8ZM554.2 499.3L551.3 502.6L550.6 500.8L546.8 509.3L554.6 504.3L552.7 503.8L555.6 500.4ZM573.6 499.9L573.1 500.5L572.5 498.9L569.0 505.7L575.7 502.0L574.1 501.5L574.6 501.0ZM593.1 500.5L592.5 500.6L592.8 499.2L586.7 502.8L593.8 503.1L592.8 502.0L593.5 501.8ZM612.4 501.1L611.6 501.3L612.1 499.6L604.7 503.3L612.9 504.2L611.8 502.8L612.6 502.7ZM631.6 502.1L630.9 502.2L631.4 500.7L625.0 503.8L632.0 504.7L631.1 503.5L631.8 503.4ZM650.8 502.7L649.9 502.8L650.7 501.0L642.0 504.2L651.0 506.3L650.1 504.6L650.9 504.5ZM670.0 503.7L665.4 504.0L666.2 502.1L657.5 505.3L666.5 507.5L665.5 505.7L670.1 505.5ZM689.2 504.7L687.3 504.9L688.1 503.0L679.4 506.3L688.4 508.4L687.4 506.6L689.3 506.5ZM76.7 523.4L75.2 522.6L76.9 521.5L67.9 519.2L74.2 526.1L74.3 524.1L75.8 524.9ZM95.8 522.3L93.1 520.7L94.8 519.6L85.8 517.3L92.1 524.2L92.2 522.2L94.9 523.8ZM114.4 521.3L113.7 521.3L114.4 519.7L106.7 522.4L114.6 524.4L113.8 522.9L114.5 522.8ZM133.5 520.4L132.9 520.5L133.4 519.0L126.9 521.6L133.8 523.1L133.0 521.8L133.7 521.7ZM152.7 519.5L152.0 519.6L152.5 518.1L146.0 520.8L152.9 522.2L152.1 520.9L152.8 520.8ZM171.8 518.6L171.0 518.7L171.6 517.2L164.6 520.1L172.1 521.5L171.2 520.1L171.9 520.1ZM190.9 517.7L189.4 517.8L190.1 516.0L181.6 519.5L190.7 521.3L189.6 519.6L191.1 519.5ZM210.0 517.1L209.2 517.2L209.7 515.5L202.0 519.1L210.4 520.3L209.4 518.8L210.2 518.7ZM229.1 516.5L228.3 516.6L228.9 514.9L221.2 518.3L229.5 519.6L228.5 518.2L229.3 518.1ZM248.1 515.8L245.1 516.5L245.6 514.5L237.4 519.0L246.7 519.8L245.5 518.2L248.5 517.6ZM267.2 515.4L266.2 515.6L266.6 513.7L258.6 518.5L267.9 518.8L266.6 517.3L267.7 517.1ZM286.3 514.9L280.4 516.4L280.9 514.5L272.9 519.2L282.2 519.6L280.9 518.1L286.8 516.7ZM305.5 514.6L302.4 515.4L302.8 513.4L294.8 518.2L304.1 518.6L302.8 517.1L305.9 516.3ZM324.6 514.4L323.8 514.6L324.2 512.8L316.8 517.2L325.4 517.6L324.2 516.2L325.0 516.0ZM343.7 514.1L341.7 514.6L342.1 512.7L334.2 517.5L343.5 517.8L342.1 516.3L344.1 515.8ZM362.6 514.0L358.0 516.3L358.0 514.3L351.2 520.7L360.4 519.1L358.8 517.9L363.4 515.6ZM381.7 514.0L377.2 516.6L377.1 514.6L370.7 521.4L379.7 519.2L378.1 518.1L382.6 515.5ZM400.9 513.9L395.9 516.1L396.0 514.1L388.9 520.1L398.1 519.0L396.6 517.7L401.6 515.5ZM419.9 514.0L414.8 517.1L414.6 515.1L408.3 521.9L417.4 519.7L415.7 518.6L420.8 515.6ZM439.0 514.2L433.8 517.8L433.6 515.8L427.7 523.1L436.6 520.2L434.8 519.2L440.0 515.7ZM458.0 514.5L455.5 516.9L454.9 515.0L450.3 523.1L458.6 518.9L456.7 518.2L459.2 515.8ZM477.0 514.8L474.4 518.2L473.5 516.4L470.1 525.0L477.7 519.7L475.8 519.3L478.4 516.0ZM496.1 515.2L493.1 519.3L492.2 517.5L489.0 526.3L496.4 520.7L494.5 520.4L497.6 516.3ZM515.3 515.6L512.7 519.0L511.8 517.2L508.6 525.9L516.1 520.4L514.1 520.1L516.7 516.7ZM534.9 515.8L529.0 517.2L529.4 515.2L521.4 519.9L530.7 520.4L529.4 518.9L535.3 517.5ZM553.9 516.3L551.5 517.1L551.8 515.1L544.1 520.3L553.4 520.2L552.1 518.8L554.5 518.0ZM573.0 517.1L572.3 517.4L572.4 515.6L566.1 520.9L574.3 520.0L572.9 518.8L573.6 518.5ZM592.4 517.8L591.7 517.9L592.2 516.4L585.7 519.2L592.7 520.5L591.8 519.2L592.5 519.1ZM611.5 518.5L610.8 518.6L611.3 517.0L604.3 520.0L611.8 521.4L610.9 520.0L611.6 519.9ZM630.6 519.2L629.8 519.3L630.4 517.6L622.6 521.0L631.0 522.5L630.0 520.9L630.8 520.8ZM649.8 520.0L648.7 520.1L649.5 518.3L640.8 521.4L649.8 523.6L648.8 521.9L649.9 521.8ZM668.9 521.0L666.9 521.1L667.7 519.3L658.9 522.4L668.0 524.6L667.0 522.9L669.0 522.8ZM688.0 522.0L687.1 522.1L687.8 520.2L679.1 523.5L688.2 525.6L687.2 523.9L688.1 523.8ZM77.7 540.7L75.9 540.3L77.1 538.7L67.9 539.5L76.0 543.9L75.5 542.0L77.3 542.4ZM96.6 539.5L92.9 539.2L94.0 537.5L84.9 539.3L93.5 542.8L92.8 540.9L96.5 541.3ZM115.5 538.5L114.1 538.6L114.8 536.8L106.2 540.2L115.3 542.1L114.3 540.4L115.7 540.3ZM134.5 537.6L133.8 537.7L134.4 536.1L126.9 539.2L134.9 540.7L133.9 539.3L134.7 539.2ZM153.6 536.8L152.8 536.9L153.4 535.4L146.4 538.4L153.9 539.7L153.0 538.3L153.8 538.2ZM172.6 535.9L171.8 536.0L172.4 534.2L164.4 537.7L173.0 539.2L172.0 537.6L172.8 537.5ZM191.6 535.1L189.5 535.3L190.2 533.4L181.6 537.2L190.8 538.7L189.7 537.1L191.9 536.8ZM210.6 534.4L209.5 534.6L210.0 532.7L201.8 537.0L211.0 537.9L209.8 536.3L211.0 536.1ZM229.6 533.8L227.1 534.4L227.6 532.4L219.6 537.2L228.9 537.6L227.6 536.1L230.0 535.5ZM248.6 533.2L242.4 535.1L242.7 533.1L235.0 538.3L244.3 538.2L242.9 536.8L249.1 534.9ZM267.6 532.7L263.8 533.9L264.2 531.9L256.5 537.1L265.8 537.0L264.4 535.6L268.2 534.4ZM286.7 532.3L280.7 534.2L281.0 532.2L273.3 537.4L282.6 537.3L281.2 535.9L287.2 534.0ZM305.7 532.0L301.3 533.4L301.6 531.4L293.9 536.6L303.2 536.5L301.8 535.1L306.3 533.7ZM324.8 531.7L322.2 532.5L322.5 530.5L314.8 535.7L324.1 535.6L322.7 534.2L325.3 533.4ZM343.8 531.5L340.5 532.6L340.8 530.6L333.2 535.9L342.5 535.6L341.1 534.2L344.4 533.2ZM362.8 531.4L356.6 534.1L356.7 532.2L349.7 538.3L358.9 537.0L357.3 535.8L363.5 533.0ZM381.8 531.3L376.3 533.8L376.4 531.8L369.5 538.0L378.7 536.7L377.1 535.4L382.5 532.9ZM400.7 531.3L395.4 534.7L395.2 532.7L389.1 539.6L398.0 537.2L396.3 536.2L401.7 532.8ZM419.7 531.4L414.3 535.1L414.0 533.1L408.1 540.3L417.0 537.5L415.3 536.6L420.7 532.9ZM438.7 531.6L434.7 535.0L434.2 533.1L429.1 540.9L437.6 537.2L435.8 536.4L439.9 533.0ZM457.7 531.8L455.9 533.6L455.3 531.7L450.8 539.8L459.0 535.5L457.1 534.9L458.9 533.1ZM476.7 532.2L474.1 535.6L473.2 533.8L469.9 542.4L477.4 537.0L475.5 536.6L478.1 533.3ZM495.7 532.5L492.6 536.6L491.8 534.8L488.5 543.5L496.0 538.0L494.1 537.7L497.1 533.6ZM514.7 532.9L510.9 537.9L510.0 536.1L506.6 544.7L514.2 539.4L512.3 539.0L516.1 534.0ZM533.9 533.3L530.5 536.3L530.0 534.4L525.1 542.2L533.5 538.4L531.7 537.6L535.1 534.6ZM553.2 533.7L552.4 534.0L552.6 532.0L545.4 537.7L554.5 536.9L553.0 535.6L553.9 535.3ZM572.3 534.4L571.5 534.6L571.7 532.8L565.0 538.0L573.4 537.4L572.1 536.1L572.9 535.9ZM591.5 535.0L590.7 535.1L591.3 533.3L583.3 536.9L591.9 538.3L590.9 536.7L591.7 536.6ZM610.6 535.8L609.8 535.9L610.4 534.3L603.3 537.4L610.9 538.7L610.0 537.4L610.7 537.3ZM629.6 536.5L627.2 536.8L627.9 534.9L619.4 538.6L628.5 540.2L627.4 538.5L629.8 538.2ZM648.7 537.3L647.3 537.4L648.1 535.6L639.4 538.8L648.4 540.9L647.4 539.2L648.8 539.1ZM667.7 538.3L666.7 538.3L667.5 536.5L658.8 539.7L667.8 541.8L666.8 540.1L667.8 540.1ZM686.8 539.3L685.0 539.4L685.7 537.6L677.0 540.9L686.1 542.9L685.1 541.2L686.9 541.1ZM78.8 558.0L77.8 557.9L78.8 556.2L69.7 558.2L78.4 561.5L77.6 559.7L78.7 559.8ZM97.8 556.9L94.7 556.7L95.7 555.0L86.6 557.1L95.4 560.3L94.6 558.5L97.7 558.7ZM116.5 555.9L112.3 556.5L112.9 554.6L104.5 558.5L113.7 559.9L112.6 558.2L116.8 557.6ZM135.5 554.9L132.7 555.4L133.2 553.5L125.0 557.8L134.2 558.8L133.0 557.2L135.8 556.6ZM154.4 554.0L151.7 554.5L152.3 552.6L144.0 556.8L153.2 557.8L152.0 556.2L154.8 555.8ZM173.4 553.2L170.1 553.7L170.7 551.8L162.3 555.8L171.5 557.1L170.4 555.4L173.7 554.9ZM192.4 552.4L188.4 553.0L189.0 551.1L180.6 555.2L189.8 556.4L188.7 554.8L192.7 554.2ZM211.3 551.7L205.3 553.2L205.8 551.3L197.8 556.0L207.0 556.4L205.8 554.9L211.7 553.5ZM230.2 551.1L225.9 552.5L226.2 550.6L218.5 555.8L227.8 555.6L226.4 554.2L230.7 552.8ZM249.1 550.6L243.7 552.4L244.0 550.4L236.4 555.7L245.7 555.5L244.3 554.1L249.7 552.3ZM268.1 550.1L262.5 551.9L262.9 549.9L255.2 555.1L264.5 555.0L263.1 553.6L268.7 551.8ZM287.1 549.7L280.3 551.9L280.6 549.9L272.9 555.2L282.2 555.0L280.8 553.6L287.6 551.4ZM306.0 549.3L299.2 551.5L299.5 549.6L291.8 554.8L301.1 554.6L299.7 553.2L306.6 551.0ZM325.0 549.0L319.6 550.8L319.9 548.9L312.3 554.2L321.6 553.9L320.2 552.5L325.6 550.7ZM343.9 548.8L339.4 550.6L339.6 548.6L332.2 554.3L341.5 553.6L340.0 552.2L344.6 550.5ZM362.9 548.7L358.0 550.8L358.2 548.8L351.0 554.7L360.3 553.7L358.7 552.4L363.6 550.4ZM381.8 548.6L377.0 550.8L377.1 548.8L370.1 554.9L379.3 553.7L377.7 552.4L382.5 550.3ZM400.7 548.7L397.0 550.7L396.9 548.8L390.5 555.5L399.6 553.4L397.9 552.3L401.6 550.2ZM419.7 548.7L415.8 550.7L415.8 548.7L409.1 555.2L418.2 553.5L416.6 552.3L420.5 550.3ZM438.4 549.1L434.8 553.7L434.0 551.9L430.6 560.6L438.2 555.1L436.2 554.8L439.8 550.2ZM457.3 549.4L455.2 552.8L454.1 551.2L451.8 560.2L458.7 553.9L456.7 553.8L458.8 550.3ZM476.2 549.6L472.9 554.8L471.9 553.0L469.3 561.9L476.4 555.9L474.4 555.7L477.7 550.6ZM495.2 549.9L491.7 555.2L490.7 553.5L488.0 562.4L495.2 556.5L493.2 556.2L496.7 550.9ZM514.2 550.3L512.4 552.6L511.6 550.8L508.3 559.6L515.8 554.1L513.9 553.7L515.6 551.4ZM533.3 550.8L532.8 551.4L532.2 549.8L528.8 557.1L535.6 552.8L533.9 552.4L534.5 551.8ZM552.5 551.2L551.9 551.6L551.8 550.0L546.9 555.2L553.9 553.6L552.6 552.8L553.2 552.4ZM571.5 551.7L570.8 552.0L571.0 550.3L564.8 555.0L572.6 554.5L571.4 553.4L572.1 553.1ZM590.6 552.3L589.9 552.5L590.4 550.8L583.0 554.5L591.2 555.4L590.1 554.0L590.9 553.9ZM609.6 553.1L608.8 553.2L609.4 551.5L601.9 554.9L610.1 556.2L609.1 554.7L609.8 554.6ZM628.6 553.8L627.8 553.9L628.4 552.2L620.5 555.7L629.0 557.1L628.0 555.6L628.8 555.5ZM647.6 554.8L646.8 554.8L647.5 553.2L639.9 556.1L647.8 557.8L646.9 556.4L647.7 556.3ZM666.6 555.6L662.4 555.8L663.2 554.0L654.4 557.2L663.5 559.3L662.5 557.6L666.7 557.4ZM685.5 556.7L684.7 556.7L685.4 555.0L677.2 558.1L685.8 560.0L684.8 558.4L685.6 558.3ZM80.0 575.3L79.1 575.3L80.0 573.6L71.4 576.2L80.0 578.8L79.1 577.1L80.0 577.1ZM98.9 574.2L97.8 574.2L98.7 572.4L89.8 575.2L98.7 577.8L97.8 576.0L98.9 576.0ZM117.4 573.3L113.3 575.0L113.4 573.0L106.2 578.9L115.5 577.9L114.0 576.6L118.1 574.9ZM136.4 572.3L131.9 573.9L132.1 571.9L124.7 577.5L133.9 576.9L132.5 575.6L137.0 574.0ZM155.3 571.4L150.9 572.5L151.3 570.6L143.3 575.4L152.6 575.8L151.3 574.3L155.8 573.1ZM174.3 570.5L168.4 571.7L168.9 569.8L160.7 574.2L170.0 575.0L168.7 573.5L174.6 572.3ZM193.1 569.8L189.2 570.6L189.7 568.7L181.6 573.2L190.8 573.9L189.6 572.4L193.5 571.5ZM211.9 569.1L207.6 570.4L207.9 568.5L200.2 573.6L209.5 573.6L208.1 572.1L212.5 570.8ZM230.8 568.5L225.2 570.5L225.5 568.5L218.0 574.0L227.2 573.5L225.8 572.2L231.4 570.2ZM249.7 567.9L243.7 570.0L244.0 568.0L236.4 573.4L245.7 573.1L244.3 571.7L250.3 569.6ZM268.6 567.5L263.3 569.1L263.6 567.2L255.9 572.4L265.2 572.3L263.8 570.8L269.1 569.2ZM287.5 567.0L282.4 568.8L282.6 566.8L275.0 572.1L284.3 571.8L282.9 570.4L288.0 568.7ZM306.3 566.7L300.8 568.8L301.0 566.8L293.6 572.4L302.9 571.8L301.5 570.4L306.9 568.4ZM325.2 566.4L318.3 569.1L318.5 567.1L311.2 572.9L320.5 572.1L319.0 570.8L325.8 568.1ZM344.0 566.2L338.5 569.0L338.5 567.0L331.7 573.3L340.8 571.8L339.2 570.6L344.8 567.8ZM362.9 566.1L356.4 569.4L356.4 567.4L349.7 573.9L358.8 572.2L357.2 571.0L363.7 567.7ZM381.8 566.0L376.2 569.1L376.1 567.1L369.6 573.7L378.7 571.8L377.0 570.7L382.6 567.6ZM400.6 566.1L395.0 569.6L394.8 567.6L388.7 574.6L397.6 572.1L395.9 571.1L401.5 567.6ZM419.4 566.1L416.1 568.5L415.8 566.5L410.1 573.9L418.9 570.9L417.2 569.9L420.5 567.6ZM438.1 566.5L435.8 570.3L434.7 568.6L432.3 577.6L439.3 571.4L437.3 571.2L439.6 567.5ZM457.0 566.7L454.9 570.2L453.8 568.5L451.6 577.5L458.4 571.2L456.4 571.1L458.5 567.6ZM475.9 567.0L473.1 571.3L472.1 569.5L469.5 578.5L476.6 572.4L474.6 572.2L477.4 567.9ZM494.8 567.3L492.4 570.9L491.4 569.2L488.8 578.1L495.9 572.1L493.9 571.9L496.2 568.3ZM513.8 567.7L513.3 568.3L512.6 566.7L509.5 574.2L516.2 569.6L514.5 569.3L515.0 568.7ZM533.1 567.8L532.3 568.0L532.8 566.3L525.4 570.1L533.7 571.0L532.6 569.6L533.4 569.4ZM552.0 568.4L551.3 568.5L551.8 566.9L544.6 570.4L552.5 571.4L551.5 570.0L552.3 569.9ZM570.9 569.0L570.1 569.2L570.5 567.5L563.6 571.4L571.5 572.0L570.5 570.7L571.2 570.5ZM589.9 569.7L589.1 569.8L589.7 568.2L582.6 571.2L590.2 572.6L589.3 571.2L590.0 571.2ZM608.7 570.3L607.9 570.4L608.6 568.7L600.6 572.0L609.1 573.6L608.1 572.1L608.9 572.0ZM627.6 571.2L626.9 571.3L627.5 569.7L620.2 572.7L627.9 574.2L627.0 572.8L627.8 572.7ZM646.6 572.1L645.8 572.1L646.5 570.6L639.3 573.2L646.7 575.0L645.9 573.6L646.6 573.6ZM665.4 573.0L664.7 573.0L665.4 571.5L657.8 574.2L665.6 576.1L664.7 574.6L665.5 574.5ZM684.3 574.1L683.6 574.1L684.2 572.7L677.5 575.2L684.5 576.8L683.7 575.5L684.4 575.5ZM81.2 592.7L80.4 592.7L81.2 591.1L73.0 593.7L81.3 596.0L80.4 594.4L81.3 594.4ZM100.1 591.6L99.2 591.6L100.0 590.0L91.8 592.5L100.1 594.9L99.2 593.3L100.1 593.3ZM118.5 590.6L113.7 592.4L113.9 590.5L106.6 596.2L115.8 595.5L114.4 594.1L119.2 592.3ZM137.4 589.6L131.7 591.9L131.8 589.9L124.5 595.6L133.8 594.9L132.3 593.5L138.0 591.3ZM156.2 588.8L151.8 590.4L152.1 588.4L144.7 594.0L153.9 593.4L152.5 592.0L156.8 590.4ZM174.9 587.9L171.0 589.7L171.1 587.7L164.0 593.8L173.2 592.6L171.7 591.3L175.7 589.6ZM193.8 587.2L188.2 589.6L188.3 587.6L181.2 593.5L190.4 592.5L188.9 591.2L194.5 588.8ZM212.6 586.5L206.7 588.8L206.9 586.8L199.5 592.5L208.8 591.8L207.3 590.4L213.2 588.2ZM231.4 585.9L225.9 588.2L226.0 586.2L218.9 592.1L228.1 591.1L226.6 589.8L232.1 587.5ZM250.2 585.3L243.5 588.3L243.6 586.3L236.6 592.3L245.8 591.2L244.3 589.9L250.9 587.0ZM269.0 584.8L262.7 587.2L262.9 585.2L255.5 590.9L264.8 590.2L263.3 588.9L269.7 586.5ZM287.8 584.4L282.1 586.6L282.2 584.7L274.9 590.3L284.2 589.6L282.7 588.3L288.5 586.1ZM306.6 584.1L301.2 586.6L301.3 584.6L294.3 590.7L303.5 589.4L302.0 588.2L307.3 585.7ZM325.4 583.8L320.6 586.1L320.7 584.1L313.8 590.3L322.9 588.9L321.4 587.7L326.1 585.4ZM344.1 583.6L338.2 587.1L338.1 585.1L331.8 591.9L340.8 589.7L339.1 588.6L345.0 585.2ZM362.9 583.5L356.9 587.2L356.7 585.3L350.5 592.2L359.5 589.8L357.8 588.8L363.9 585.0ZM381.7 583.5L376.2 587.5L375.9 585.5L370.4 593.0L379.1 589.8L377.3 588.9L382.7 584.9ZM400.3 583.6L397.0 587.7L396.2 585.9L392.7 594.6L400.3 589.3L398.4 588.9L401.7 584.7ZM419.0 583.8L416.2 588.8L415.1 587.1L413.0 596.1L419.7 589.7L417.7 589.6L420.6 584.7ZM437.8 583.9L434.7 589.7L433.6 588.0L431.7 597.1L438.3 590.6L436.3 590.5L439.4 584.8ZM456.7 584.1L453.5 589.5L452.4 587.9L450.2 596.9L457.0 590.6L455.0 590.4L458.2 585.0ZM475.5 584.3L472.6 589.1L471.5 587.4L469.2 596.4L476.1 590.2L474.1 590.0L477.0 585.2ZM494.3 584.6L492.5 587.1L491.6 585.3L488.6 594.1L495.9 588.5L494.0 588.1L495.8 585.6ZM513.4 584.9L512.8 585.3L512.5 583.6L507.6 589.9L515.2 587.4L513.7 586.6L514.3 586.1ZM532.6 585.2L531.8 585.3L532.4 583.8L525.3 586.8L532.9 588.2L532.0 586.8L532.7 586.7ZM551.4 585.7L550.6 585.8L551.2 584.1L543.4 587.4L551.8 588.9L550.8 587.4L551.6 587.3ZM570.1 586.3L569.4 586.5L569.9 584.8L562.8 588.4L570.7 589.3L569.7 588.0L570.4 587.8ZM589.0 586.9L588.2 587.0L588.8 585.3L580.9 588.6L589.3 590.2L588.4 588.6L589.2 588.6ZM607.8 587.7L607.1 587.8L607.7 586.2L600.3 589.2L608.1 590.7L607.2 589.3L608.0 589.2ZM626.6 588.5L625.8 588.5L626.5 586.9L618.7 590.1L627.0 591.7L626.0 590.1L626.8 590.1ZM645.5 589.3L644.7 589.4L645.4 587.7L637.4 590.6L645.7 592.6L644.7 591.0L645.6 590.9ZM664.3 590.3L663.5 590.3L664.2 588.8L656.8 591.4L664.4 593.3L663.6 591.9L664.4 591.8ZM683.1 591.4L682.4 591.4L683.0 590.0L676.3 592.5L683.3 594.1L682.5 592.8L683.2 592.7ZM82.4 610.1L81.7 610.2L82.3 608.6L74.8 611.5L82.7 613.2L81.8 611.7L82.6 611.7ZM101.1 608.9L100.3 609.0L101.0 607.2L92.5 610.7L101.5 612.4L100.4 610.8L101.3 610.7ZM119.6 608.0L116.4 609.5L116.5 607.5L109.6 613.8L118.8 612.3L117.2 611.1L120.3 609.6ZM138.3 607.0L134.1 609.4L134.0 607.4L127.5 614.0L136.6 612.1L134.9 610.9L139.1 608.6ZM157.1 606.1L151.9 608.1L152.1 606.1L144.8 611.8L154.1 611.1L152.6 609.8L157.7 607.8ZM175.8 605.3L170.3 607.8L170.4 605.8L163.4 611.8L172.6 610.6L171.1 609.4L176.5 606.9ZM194.5 604.6L188.5 607.5L188.5 605.5L181.7 611.8L190.8 610.3L189.3 609.1L195.3 606.2ZM213.3 603.9L207.4 606.5L207.5 604.5L200.4 610.5L209.6 609.4L208.1 608.1L214.0 605.5ZM232.0 603.3L225.5 606.2L225.6 604.2L218.6 610.3L227.8 609.1L226.3 607.8L232.7 604.9ZM250.7 602.7L244.7 605.4L244.8 603.4L237.8 609.5L247.0 608.3L245.4 607.0L251.4 604.3ZM269.5 602.2L264.6 604.1L264.8 602.2L257.5 607.9L266.8 607.1L265.3 605.8L270.1 603.9ZM288.2 601.8L281.7 604.5L281.9 602.5L274.6 608.4L283.9 607.4L282.4 606.1L288.9 603.4ZM306.9 601.5L300.6 604.6L300.6 602.6L293.9 609.0L303.0 607.4L301.4 606.2L307.7 603.1ZM325.6 601.2L319.5 604.4L319.5 602.4L312.9 608.9L322.0 607.1L320.4 606.0L326.4 602.8ZM344.3 601.0L339.1 604.1L339.0 602.1L332.7 609.0L341.7 606.7L340.0 605.6L345.2 602.5ZM363.0 600.9L357.6 604.7L357.3 602.8L351.6 610.1L360.4 607.1L358.6 606.2L364.0 602.3ZM381.6 600.9L376.9 605.6L376.2 603.7L371.8 611.9L380.0 607.5L378.1 606.9L382.8 602.2ZM400.2 601.0L397.9 604.3L396.9 602.6L394.0 611.4L401.3 605.6L399.3 605.4L401.7 602.0ZM418.9 601.1L415.5 606.2L414.5 604.5L411.8 613.3L419.0 607.4L417.0 607.2L420.4 602.1ZM437.7 601.2L432.8 608.0L431.9 606.2L428.9 615.1L436.2 609.3L434.3 609.0L439.1 602.2ZM456.4 601.4L452.2 608.0L451.2 606.3L448.7 615.3L455.7 609.2L453.7 609.0L457.9 602.4ZM475.1 601.7L471.9 606.8L470.9 605.1L468.5 614.1L475.4 607.9L473.5 607.7L476.6 602.6ZM493.9 601.9L492.6 603.6L491.7 601.9L488.5 610.6L496.0 605.1L494.0 604.7L495.3 603.0ZM512.9 602.2L512.3 602.7L512.0 601.1L507.4 607.3L514.7 604.6L513.2 603.9L513.8 603.4ZM531.9 602.6L531.2 602.8L531.5 601.3L525.5 605.0L532.6 605.3L531.6 604.1L532.2 604.0ZM550.6 603.0L549.9 603.2L550.3 601.5L543.0 605.3L551.2 606.2L550.2 604.7L550.9 604.6ZM569.4 603.7L568.7 603.9L569.1 602.4L562.9 605.7L569.9 606.4L569.0 605.2L569.6 605.1ZM588.2 604.4L587.5 604.5L588.0 603.0L581.2 605.9L588.5 607.2L587.6 605.9L588.3 605.8ZM606.9 605.0L606.1 605.1L606.7 603.5L599.2 606.6L607.2 608.1L606.3 606.6L607.1 606.6ZM625.6 605.8L624.9 605.9L625.5 604.2L617.9 607.4L625.9 608.9L625.0 607.4L625.8 607.4ZM644.4 606.6L643.6 606.7L644.3 605.0L636.4 608.0L644.6 609.9L643.7 608.3L644.5 608.2ZM663.1 607.5L662.3 607.6L663.0 605.8L654.8 608.9L663.3 610.9L662.4 609.2L663.2 609.2ZM681.9 608.6L681.2 608.7L681.8 607.2L674.9 609.8L682.0 611.5L681.3 610.1L682.0 610.1ZM83.7 627.5L82.9 627.6L83.5 626.0L76.4 629.2L84.0 630.4L83.1 629.1L83.8 629.0ZM102.2 626.4L101.5 626.6L101.8 624.9L95.1 629.3L103.0 629.3L101.9 628.1L102.6 627.9ZM120.9 625.3L117.4 625.9L117.9 624.0L109.7 628.4L119.0 629.3L117.8 627.7L121.2 627.0ZM139.3 624.4L135.0 626.4L135.1 624.4L128.1 630.6L137.3 629.2L135.8 628.0L140.1 626.0ZM158.2 623.4L150.2 625.4L150.7 623.4L142.7 628.1L152.0 628.6L150.7 627.1L158.6 625.2ZM176.6 622.7L164.5 629.2L164.4 627.2L157.8 633.7L166.9 631.9L165.3 630.7L177.4 624.3ZM195.2 622.0L188.7 625.8L188.5 623.8L182.2 630.6L191.2 628.4L189.6 627.3L196.1 623.5ZM214.0 621.2L209.5 623.2L209.6 621.2L202.6 627.3L211.8 626.1L210.3 624.9L214.7 622.9ZM232.6 620.6L228.2 623.0L228.1 621.0L221.6 627.6L230.7 625.7L229.0 624.6L233.4 622.2ZM251.2 620.1L246.9 622.6L246.8 620.6L240.4 627.4L249.5 625.2L247.8 624.1L252.1 621.6ZM270.0 619.5L263.8 621.6L264.1 619.6L256.5 624.9L265.8 624.7L264.4 623.3L270.6 621.2ZM288.6 619.2L281.9 621.9L282.1 619.9L274.9 625.8L284.1 624.9L282.6 623.6L289.3 620.8ZM307.2 618.8L300.2 622.4L300.2 620.4L293.5 626.8L302.6 625.2L301.0 624.0L308.0 620.4ZM325.8 618.6L316.5 624.2L316.4 622.2L310.2 629.1L319.2 626.8L317.5 625.7L326.7 620.1ZM344.4 618.4L335.7 625.0L335.3 623.0L329.8 630.5L338.5 627.3L336.7 626.4L345.4 619.8ZM362.9 618.3L359.6 621.5L359.0 619.7L354.5 627.8L362.8 623.5L360.9 622.8L364.2 619.6ZM381.5 618.3L378.5 622.0L377.7 620.1L374.1 628.7L381.8 623.5L379.9 623.1L382.9 619.5ZM400.2 618.3L396.7 622.8L395.9 621.1L392.6 629.8L400.1 624.3L398.2 623.9L401.6 619.4ZM418.8 618.4L415.4 622.4L414.7 620.5L410.9 629.1L418.7 624.0L416.8 623.5L420.2 619.5ZM437.5 618.4L431.7 624.6L431.0 622.8L426.9 631.1L434.9 626.4L433.0 625.8L438.8 619.7ZM456.1 618.7L452.5 624.0L451.5 622.2L448.6 631.1L455.9 625.3L453.9 625.0L457.6 619.7ZM474.7 619.0L472.7 622.1L471.7 620.4L469.1 629.3L476.2 623.3L474.2 623.1L476.2 620.0ZM493.5 619.3L493.0 619.9L492.3 618.3L489.1 625.9L496.0 621.3L494.2 620.9L494.8 620.3ZM512.5 619.6L511.9 620.0L511.8 618.5L507.1 623.5L513.8 621.9L512.6 621.1L513.1 620.7ZM531.3 620.0L530.7 620.1L531.1 618.6L524.7 621.9L531.8 622.6L530.9 621.4L531.6 621.3ZM550.0 620.4L549.2 620.5L549.8 618.8L542.3 622.3L550.4 623.5L549.4 622.0L550.2 621.9ZM568.7 621.1L568.0 621.2L568.5 619.7L562.1 622.7L569.1 623.7L568.2 622.5L568.9 622.4ZM587.4 621.6L586.6 621.7L587.2 620.0L579.6 623.0L587.6 624.7L586.7 623.2L587.5 623.2ZM606.0 622.4L605.4 622.5L605.9 621.1L599.3 623.5L606.2 625.1L605.4 623.8L606.1 623.8ZM624.7 623.1L623.8 623.1L624.5 621.4L616.5 624.5L624.9 626.4L624.0 624.8L624.8 624.7ZM643.3 623.9L642.5 624.0L643.2 622.4L635.5 625.2L643.5 627.1L642.6 625.6L643.4 625.5ZM662.0 624.9L661.2 624.9L661.9 623.4L654.4 626.0L662.1 627.9L661.3 626.5L662.1 626.4ZM680.6 626.0L680.0 626.0L680.6 624.8L674.4 627.0L680.8 628.5L680.1 627.3L680.7 627.3ZM85.6 645.3L85.4 644.7L86.9 644.9L82.8 639.3L83.1 646.2L84.1 645.2L84.4 645.8ZM104.4 644.5L104.3 643.7L105.9 644.4L103.2 636.6L101.2 644.6L102.8 643.7L102.8 644.5ZM123.0 643.5L123.0 641.3L124.8 642.2L122.0 633.3L119.5 642.3L121.2 641.4L121.3 643.5ZM140.8 641.6L134.5 640.8L135.6 639.2L126.4 640.7L134.9 644.5L134.2 642.6L140.6 643.4ZM159.5 640.8L146.3 638.5L147.5 636.9L138.3 638.0L146.6 642.2L146.0 640.3L159.2 642.5ZM178.0 640.0L165.0 637.8L166.2 636.2L156.9 637.3L165.3 641.4L164.7 639.5L177.7 641.7ZM196.2 639.2L189.7 641.5L189.9 639.5L182.4 644.9L191.7 644.5L190.3 643.1L196.7 640.9ZM214.9 638.5L208.3 639.9L208.8 638.0L200.7 642.4L209.9 643.2L208.7 641.6L215.2 640.3ZM233.2 638.0L228.2 640.3L228.3 638.3L221.3 644.5L230.5 643.2L229.0 641.9L234.0 639.6ZM251.8 637.5L247.5 639.9L247.4 637.9L240.9 644.6L250.0 642.5L248.3 641.4L252.6 639.0ZM270.4 636.9L267.6 638.2L267.7 636.2L260.6 642.3L269.8 641.1L268.3 639.8L271.1 638.6ZM288.9 636.6L285.2 638.5L285.2 636.5L278.5 643.0L287.6 641.2L286.0 640.1L289.8 638.1ZM307.4 636.3L300.8 641.1L300.5 639.1L294.8 646.6L303.6 643.5L301.8 642.5L308.4 637.7ZM326.0 636.0L317.8 642.3L317.4 640.3L312.0 647.9L320.7 644.5L318.9 643.7L327.0 637.4ZM344.3 636.0L339.6 643.2L338.6 641.5L335.9 650.4L343.0 644.4L341.0 644.2L345.8 637.0ZM362.9 635.9L360.3 639.9L359.3 638.2L356.7 647.2L363.8 641.1L361.8 640.9L364.4 636.8ZM381.5 635.8L379.0 639.4L378.0 637.7L375.2 646.5L382.4 640.7L380.4 640.4L383.0 636.8ZM400.1 635.7L396.4 640.1L395.6 638.3L391.9 646.9L399.7 641.7L397.7 641.3L401.5 636.8ZM418.7 635.7L412.4 642.3L411.7 640.4L407.4 648.6L415.5 644.1L413.7 643.5L420.0 636.9ZM437.3 635.8L433.9 639.6L433.2 637.7L429.3 646.2L437.2 641.3L435.3 640.8L438.6 637.0ZM456.0 635.9L452.5 638.8L452.1 636.8L447.0 644.6L455.5 640.9L453.7 640.1L457.1 637.3ZM474.5 636.2L470.3 640.1L469.8 638.2L465.2 646.3L473.4 642.1L471.6 641.4L475.7 637.5ZM493.1 636.5L491.6 637.7L491.2 635.7L486.0 643.4L494.6 639.9L492.8 639.0L494.2 637.8ZM512.0 636.7L511.2 637.0L511.6 635.1L504.3 639.8L512.9 639.9L511.7 638.5L512.5 638.3ZM530.8 637.2L530.0 637.3L530.6 635.7L523.4 638.7L531.1 640.2L530.2 638.8L530.9 638.7ZM549.3 637.7L548.5 637.8L549.2 636.1L541.5 639.3L549.7 640.8L548.7 639.3L549.5 639.3ZM567.9 638.2L567.1 638.3L567.7 636.5L559.6 640.0L568.3 641.6L567.2 640.0L568.1 639.9ZM586.5 639.0L585.8 639.0L586.5 637.5L579.4 640.1L586.7 641.9L585.9 640.5L586.6 640.4ZM605.1 639.7L604.3 639.7L605.0 638.1L597.5 640.8L605.3 642.7L604.4 641.2L605.2 641.2ZM623.7 640.4L622.9 640.5L623.6 638.9L616.2 641.6L623.9 643.4L623.0 642.0L623.8 641.9ZM642.3 641.3L641.6 641.4L642.2 639.9L635.3 642.4L642.4 644.1L641.6 642.8L642.3 642.7ZM660.8 642.1L659.9 642.1L660.7 640.3L652.0 643.4L661.0 645.6L660.0 643.9L660.9 643.8ZM679.4 643.0L678.2 643.1L679.0 641.3L670.3 644.4L679.3 646.6L678.3 644.9L679.5 644.8ZM87.0 662.9L86.9 662.2L88.4 662.8L85.9 655.8L84.1 663.0L85.5 662.2L85.5 662.9ZM105.5 661.8L105.5 661.1L106.9 661.8L104.7 654.5L102.6 661.8L104.0 661.1L104.0 661.8ZM124.0 660.7L124.0 660.0L125.6 660.6L122.4 652.9L120.9 661.1L122.4 660.1L122.5 660.9ZM141.1 659.2L139.1 661.1L138.5 659.2L133.8 667.2L142.1 663.1L140.3 662.4L142.3 660.5ZM160.4 658.1L154.5 656.9L155.7 655.3L146.5 656.0L154.6 660.5L154.1 658.6L160.1 659.9ZM179.3 657.5L174.6 653.6L176.4 652.8L167.9 649.1L173.0 656.9L173.5 654.9L178.2 658.9ZM197.2 656.6L191.5 657.1L192.2 655.2L183.6 658.7L192.7 660.5L191.7 658.8L197.3 658.3ZM215.7 655.9L213.2 656.1L213.9 654.3L205.3 657.8L214.4 659.6L213.4 657.9L215.8 657.7ZM234.0 655.3L231.9 655.8L232.4 653.9L224.3 658.5L233.6 659.0L232.3 657.5L234.4 657.0ZM252.3 654.8L251.1 655.5L251.1 653.5L244.6 660.1L253.6 658.2L252.0 657.0L253.2 656.4ZM270.7 654.5L270.0 655.0L269.6 653.2L264.9 660.7L272.9 657.0L271.2 656.3L271.8 655.8ZM289.0 654.2L288.2 655.4L287.2 653.7L284.6 662.6L291.7 656.6L289.7 656.4L290.5 655.2ZM307.5 653.9L304.1 659.9L303.0 658.2L300.9 667.3L307.6 660.9L305.6 660.8L309.0 654.8ZM326.0 653.7L322.6 660.1L321.4 658.5L319.7 667.6L326.2 661.0L324.2 660.9L327.5 654.5ZM344.4 653.5L342.5 658.1L341.2 656.6L340.2 665.8L346.1 658.7L344.1 658.8L346.1 654.2ZM362.9 653.3L360.8 657.6L359.6 656.0L357.9 665.1L364.3 658.4L362.4 658.4L364.5 654.1ZM381.5 653.1L378.2 657.6L377.3 655.8L374.2 664.6L381.6 659.0L379.7 658.6L383.0 654.1ZM400.1 653.0L394.5 659.5L393.8 657.6L390.0 666.1L397.8 661.1L395.9 660.6L401.4 654.2ZM418.5 653.1L412.8 660.2L412.0 658.4L408.5 667.0L416.1 661.8L414.2 661.3L419.9 654.2ZM437.3 653.0L432.9 655.3L432.9 653.3L426.2 659.7L435.4 658.0L433.8 656.8L438.1 654.5ZM456.1 653.1L450.0 654.2L450.6 652.3L442.3 656.5L451.5 657.5L450.3 655.9L456.4 654.8ZM474.2 653.4L470.9 655.8L470.6 653.8L464.8 661.0L473.6 658.2L471.9 657.2L475.2 654.9ZM492.7 653.8L490.1 655.6L489.8 653.6L484.0 660.8L492.8 658.0L491.1 657.0L493.7 655.2ZM511.7 654.0L510.1 654.1L510.9 652.2L502.2 655.5L511.2 657.6L510.2 655.9L511.8 655.7ZM530.2 654.4L529.3 654.5L530.1 652.7L521.4 655.9L530.4 658.0L529.4 656.2L530.3 656.2ZM548.6 654.9L546.3 655.2L547.0 653.3L538.5 656.9L547.6 658.6L546.5 656.9L548.8 656.7ZM567.1 655.5L565.5 655.7L566.2 653.8L557.6 657.4L566.8 659.1L565.7 657.4L567.3 657.3ZM585.7 656.3L584.9 656.3L585.6 654.7L578.0 657.4L585.9 659.3L585.0 657.8L585.8 657.8ZM604.2 656.9L603.3 656.9L604.1 655.2L595.8 658.2L604.4 660.2L603.4 658.6L604.3 658.6ZM622.7 657.6L621.4 657.7L622.2 655.9L613.5 659.0L622.5 661.2L621.5 659.5L622.8 659.4ZM641.2 658.5L637.8 658.7L638.6 656.8L629.9 660.0L638.9 662.2L637.9 660.4L641.3 660.2ZM659.7 659.4L655.4 659.6L656.2 657.8L647.4 660.9L656.5 663.1L655.5 661.4L659.8 661.1ZM678.2 660.3L677.3 660.4L678.1 658.6L669.6 661.7L678.4 663.8L677.4 662.1L678.3 662.1ZM88.1 680.2L88.1 679.6L89.4 680.1L87.0 674.0L85.6 680.4L86.8 679.7L86.9 680.3ZM106.5 679.1L106.5 678.5L107.8 679.1L105.6 673.0L104.1 679.3L105.3 678.6L105.3 679.2ZM124.9 677.9L124.6 677.3L126.1 677.3L121.3 672.5L122.6 679.1L123.5 677.9L123.8 678.5ZM142.4 676.7L141.9 677.0L141.8 675.5L137.1 680.6L143.8 678.9L142.5 678.1L143.1 677.8ZM161.2 675.5L160.4 675.5L161.3 673.8L152.7 675.9L161.0 678.9L160.3 677.2L161.1 677.2ZM179.8 674.7L178.9 674.5L180.2 673.0L171.0 673.6L179.0 678.1L178.6 676.2L179.4 676.4ZM198.0 674.0L197.2 674.1L197.9 672.4L189.9 675.4L198.2 677.2L197.3 675.7L198.1 675.6ZM216.4 673.4L215.6 673.5L216.2 671.9L209.1 674.9L216.7 676.3L215.8 674.9L216.5 674.9ZM234.7 672.8L234.0 673.0L234.4 671.4L228.0 675.0L235.3 675.6L234.3 674.3L235.0 674.2ZM252.9 672.4L252.3 672.7L252.2 671.2L247.2 676.5L254.4 674.8L253.0 673.9L253.7 673.6ZM271.2 672.0L270.7 672.5L270.2 671.0L266.8 677.7L273.3 674.0L271.7 673.5L272.2 673.0ZM289.6 671.7L289.2 672.3L288.5 670.9L286.4 677.7L291.8 673.2L290.3 673.0L290.7 672.4ZM307.8 671.3L306.9 672.7L305.8 671.1L303.6 680.1L310.4 673.8L308.4 673.6L309.3 672.2ZM326.2 671.0L325.7 672.0L324.5 670.4L322.7 679.5L329.2 672.9L327.2 672.9L327.8 671.9ZM344.6 670.8L344.2 671.6L343.0 670.1L341.7 679.2L347.8 672.3L345.8 672.4L346.2 671.6ZM363.0 670.6L362.4 671.9L361.2 670.3L359.4 679.4L365.9 672.8L363.9 672.8L364.6 671.5ZM381.5 670.5L380.1 672.5L379.2 670.7L376.2 679.5L383.5 673.8L381.6 673.5L383.0 671.5ZM400.0 670.4L398.5 672.1L397.7 670.3L394.1 678.9L401.8 673.7L399.9 673.3L401.4 671.5ZM418.4 670.4L417.2 671.8L416.4 670.0L412.6 678.4L420.5 673.5L418.5 673.0L419.8 671.6ZM437.0 670.4L436.2 670.9L436.0 668.9L430.0 676.0L438.9 673.4L437.2 672.4L438.0 671.9ZM455.7 670.4L453.5 671.1L453.8 669.1L446.1 674.3L455.4 674.2L454.0 672.8L456.2 672.1ZM474.0 670.7L473.0 671.2L473.1 669.2L466.0 675.3L475.2 674.1L473.7 672.8L474.7 672.3ZM492.4 671.0L491.3 671.6L491.2 669.6L484.5 676.0L493.7 674.4L492.1 673.2L493.2 672.6ZM511.1 671.4L510.3 671.4L511.0 669.7L502.7 673.0L511.4 674.7L510.4 673.1L511.3 673.0ZM529.6 671.8L528.7 671.9L529.4 670.1L521.2 673.3L529.8 675.2L528.8 673.5L529.7 673.5ZM547.9 672.3L546.5 672.5L547.1 670.6L538.6 674.4L547.8 675.9L546.7 674.2L548.2 674.0ZM566.4 672.8L565.5 672.9L566.2 671.1L557.8 674.7L566.8 676.3L565.7 674.7L566.6 674.6ZM584.8 673.5L584.0 673.6L584.8 672.0L576.9 674.8L585.0 676.7L584.1 675.2L584.9 675.1ZM603.3 674.2L602.4 674.2L603.2 672.5L594.9 675.5L603.4 677.6L602.5 675.9L603.4 675.9ZM621.7 675.0L620.9 675.1L621.6 673.5L613.9 676.3L621.9 678.1L621.0 676.6L621.8 676.6ZM640.1 675.8L639.3 675.9L640.0 674.2L631.9 677.3L640.3 679.1L639.4 677.5L640.2 677.5ZM658.5 676.6L656.9 676.8L657.6 674.9L649.0 678.2L658.0 680.3L657.0 678.5L658.6 678.4ZM676.9 677.7L676.1 677.8L676.8 676.1L669.1 679.1L677.2 680.9L676.3 679.4L677.1 679.3Z"/>
<g fill="none" stroke="#000" stroke-width="1.15" stroke-linejoin="round" stroke-linecap="round">
<path d="M293.8 369.6L295.7 373.2L296.9 376.2L297.1 379.8L330.6 423.2L423.7 433.1L424.8 422.9L425.9 413.8L431.6 406.9L436.2 400.1L435.0 393.3L437.3 387.6L445.3 384.2L454.4 381.9L453.2 378.5L446.4 378.5L447.5 372.8L445.3 366.0L446.4 356.9L448.7 351.2L453.2 348.9L455.5 355.7L461.2 354.6L465.7 347.8L466.9 338.7L465.7 327.3L459.4 322.8L460.1 313.7L457.8 311.4L455.5 313.7L449.8 321.6L440.7 328.4L431.6 334.1L422.5 343.2L413.4 352.3L404.3 363.7"/>
<path d="M296.9 376.2L301.7 377.4L302.3 383.4L305.3 385.6L312.5 386.4L318.6 385.8L324.6 382.8L330.6 379.2L336.7 378.6L343.9 380.4L351.1 381.0L356.0 382.2L363.2 381.0L370.4 380.4L377.7 379.8L386.0 376.2"/>
<path d="M422.5 343.2L424.8 353.5L431.6 359.2L440.7 360.3L445.3 358.0"/>
<path d="M431.6 334.1L440.7 338.7L443.0 345.5L441.9 354.6L443.0 359.6"/>
<path d="M445.3 327.3L454.4 329.6L455.5 338.7L461.2 339.8L465.7 338.7"/>
<path d="M453.2 348.9L454.4 341.0L455.5 338.7"/>
<path d="M459.4 322.8L455.5 329.6L463.5 328.4"/>
<path d="M461.2 328.4L461.7 353.5"/>
<path d="M445.3 334.1L449.8 337.5L448.7 345.5L453.2 348.9"/>
<path d="M440.7 328.4L445.3 334.1"/>
<path d="M455.5 355.7L456.6 345.5L465.7 344.4"/>
</g>
<g fill="none" stroke="#000" stroke-width="2" stroke-linejoin="round" stroke-linecap="round">
<path d="M336.7 378.6L343.9 380.4L351.1 381.0L356.0 382.2L363.2 381.0L370.4 380.4L377.7 379.8L386.0 376.2"/>
<path d="M404.3 363.7L413.4 352.3L422.5 343.2L431.6 334.1L440.7 328.4"/>
<path d="M443.0 323.9L449.8 321.6L454.4 315.9"/>
</g>
<g fill="none" stroke="#000" stroke-width="3.2" stroke-linejoin="round" stroke-linecap="round">
<path d="M381.6 380.1L388.4 375.1L396.4 369.4L404.3 363.7"/>
<path d="M387.3 373.9L395.2 368.3L403.2 361.9"/>
<path d="M294.4 370.8L297.5 374.4L299.3 376.2"/>
</g>
<g fill="#000"><circle cx="323.5" cy="350.5" r="1"/><circle cx="329.2" cy="356.4" r="1"/><circle cx="340.6" cy="351.9" r="1"/><circle cx="348.6" cy="353.5" r="1"/><circle cx="347.4" cy="362.6" r="1"/><circle cx="321.3" cy="367.1" r="1"/><circle cx="320.1" cy="369.4" r="1"/><circle cx="299.7" cy="364.8" r="1"/><circle cx="300.1" cy="367.1" r="1"/><circle cx="304.2" cy="377.4" r="1"/><circle cx="309.9" cy="377.4" r="1"/><circle cx="315.6" cy="378.5" r="1"/><circle cx="331.5" cy="373.9" r="1"/><circle cx="334.9" cy="375.1" r="1"/><circle cx="340.6" cy="376.2" r="1"/><circle cx="354.3" cy="372.8" r="1"/><circle cx="358.8" cy="364.2" r="1"/><circle cx="359.0" cy="366.4" r="1"/><circle cx="359.3" cy="368.7" r="1"/><circle cx="356.1" cy="372.8" r="1"/><circle cx="359.3" cy="372.4" r="1"/><circle cx="389.5" cy="341.0" r="1"/><circle cx="391.8" cy="339.8" r="1"/><circle cx="413.4" cy="348.9" r="1"/><circle cx="416.8" cy="346.6" r="1"/><circle cx="423.7" cy="341.0" r="1"/><circle cx="418.0" cy="317.1" r="1"/><circle cx="422.5" cy="304.6" r="1"/><circle cx="428.2" cy="303.9" r="1"/><circle cx="436.2" cy="334.1" r="1"/><circle cx="437.3" cy="331.9" r="1"/><circle cx="365.6" cy="376.2" r="1"/><circle cx="370.2" cy="376.9" r="1"/><circle cx="375.9" cy="378.5" r="1"/><circle cx="363.4" cy="378.5" r="1"/></g>
<rect x="680" y="622" width="58" height="68" fill="#fff" opacity="0.9"/>
<circle cx="707" cy="653" r="29.6" fill="#fff"/>
<path id="lgarc" d="M685.29 668.20 A26.50 26.50 0 1 1 728.71 668.20" fill="none"/>
<text style="will-change:transform" font-family="Liberation Sans, sans-serif" font-size="4.3" font-weight="700" fill="#3f7fc6" textLength="115.6" lengthAdjust="spacingAndGlyphs"><textPath href="#lgarc" textLength="115.6" lengthAdjust="spacingAndGlyphs">Regional Integrated Multi-Hazard Early Warning System</textPath></text>
<circle cx="707" cy="653" r="24.9" fill="#1b518e" stroke="#9cc8ee" stroke-width="0.9"/>
<defs><clipPath id="lg"><circle cx="707" cy="653" r="24.4"/></clipPath></defs>
<g clip-path="url(#lg)">
<polygon points="682.2,660.2 690.3,655.6 697.4,653.6 702.5,654.6 707.5,658.7 712.6,661.2 716.7,662.7 720.7,671.9 714.6,680.0 697.4,680.0 682.2,671.9" fill="#2f7fc8"/>
<polygon points="687.2,669.8 697.4,666.8 704.5,663.7 712.6,667.8 720.7,670.3 722.8,680.0 687.2,680.0" fill="#2568ad"/>
<polyline points="682.7,660.2 690.3,655.6 697.4,653.6 702.5,654.6 707.5,658.7 712.6,661.2" fill="none" stroke="#eaf3fb" stroke-width="0.9"/>
<polyline points="689.3,670.3 697.4,667.3 704.5,663.9 712.6,667.8 720.7,670.6" fill="none" stroke="#eaf3fb" stroke-width="0.8"/>
<polygon points="715.7,661.2 719.7,657.6 722.3,652.6 723.3,647.0 724.8,648.5 724.3,652.6 727.3,650.0 728.9,652.6 725.8,654.6 724.8,657.6 728.9,659.7 726.8,662.7 722.8,660.7 721.7,663.7 722.8,670.3 720.2,670.3 719.7,664.7 717.7,662.2" fill="#f4f8fc"/>
<polyline points="690.8,641.4 691.8,647.5 692.8,638.9 694.1,649.5 695.4,639.4 696.7,648.5 697.9,640.4 699.2,646.5 700.4,642.4" fill="none" stroke="#a9cdee" stroke-width="0.8"/>
<polyline points="702.5,635.3 710.6,634.8 716.7,635.8 722.8,637.8" fill="none" stroke="#7fb2e2" stroke-width="0.6"/>
<polyline points="702.5,643.9 714.6,643.7 722.8,644.4" fill="none" stroke="#3b78b8" stroke-width="0.5"/>
</g>
<rect x="10.5" y="77.5" width="743" height="625" fill="none" stroke="#000" stroke-width="1"/>
<rect x="771.50" y="592.12" width="27.00" height="67.67" fill="#4040a2"/>
<rect x="771.50" y="524.75" width="27.00" height="67.67" fill="#4294ff"/>
<rect x="771.50" y="457.38" width="27.00" height="67.67" fill="#18ddc2"/>
<rect x="771.50" y="390.00" width="27.00" height="67.67" fill="#6dfe62"/>
<rect x="771.50" y="322.62" width="27.00" height="67.67" fill="#cdec34"/>
<rect x="771.50" y="255.25" width="27.00" height="67.67" fill="#fdac34"/>
<rect x="771.50" y="187.88" width="27.00" height="67.67" fill="#eb500e"/>
<rect x="771.50" y="120.50" width="27.00" height="67.67" fill="#a91601"/>
<rect x="771.50" y="120.50" width="27.00" height="539.00" fill="none" stroke="#000" stroke-width="1"/>
<line x1="798.50" y1="659.50" x2="803.40" y2="659.50" stroke="#000" stroke-width="1"/>
<line x1="798.50" y1="592.12" x2="803.40" y2="592.12" stroke="#000" stroke-width="1"/>
<line x1="798.50" y1="524.75" x2="803.40" y2="524.75" stroke="#000" stroke-width="1"/>
<line x1="798.50" y1="457.38" x2="803.40" y2="457.38" stroke="#000" stroke-width="1"/>
<line x1="798.50" y1="390.00" x2="803.40" y2="390.00" stroke="#000" stroke-width="1"/>
<line x1="798.50" y1="322.62" x2="803.40" y2="322.62" stroke="#000" stroke-width="1"/>
<line x1="798.50" y1="255.25" x2="803.40" y2="255.25" stroke="#000" stroke-width="1"/>
<line x1="798.50" y1="187.88" x2="803.40" y2="187.88" stroke="#000" stroke-width="1"/>
<line x1="798.50" y1="120.50" x2="803.40" y2="120.50" stroke="#000" stroke-width="1"/>
<g font-family="Liberation Sans, sans-serif" style="will-change:transform"><text x="225.60" y="25.70" font-size="18.80" font-weight="400" fill="#000" textLength="311.40" lengthAdjust="spacingAndGlyphs">UAE Wind Flow at 850 hPa (m/s)</text>
<text x="223.40" y="46.80" font-size="18.70" font-weight="400" fill="#000" textLength="318.00" lengthAdjust="spacingAndGlyphs">2025-12-05 15:00 @ UTC+00:00</text>
<text x="226.40" y="68.60" font-size="18.70" font-weight="400" fill="#000" textLength="311.60" lengthAdjust="spacingAndGlyphs">2025-12-05 19:00 @ Local Time</text>
<text x="117.00" y="774.40" font-size="13.60" font-weight="400" fill="#000" textLength="529.50" lengthAdjust="spacingAndGlyphs">WRF model data processed and visualized by the RIMES R&amp;D Team. © 2025</text>
<text x="690.60" y="686.20" font-size="10.60" font-weight="700" fill="#1b4f8c" textLength="32.90" lengthAdjust="spacingAndGlyphs">RIMES</text>
<text x="808.00" y="663.80" font-size="13.50" font-weight="400" fill="#000" textLength="8.10" lengthAdjust="spacingAndGlyphs">0</text>
<text x="808.00" y="596.42" font-size="13.50" font-weight="400" fill="#000" textLength="8.10" lengthAdjust="spacingAndGlyphs">5</text>
<text x="808.00" y="529.05" font-size="13.50" font-weight="400" fill="#000" textLength="16.20" lengthAdjust="spacingAndGlyphs">10</text>
<text x="808.00" y="461.68" font-size="13.50" font-weight="400" fill="#000" textLength="16.20" lengthAdjust="spacingAndGlyphs">15</text>
<text x="808.00" y="394.30" font-size="13.50" font-weight="400" fill="#000" textLength="16.20" lengthAdjust="spacingAndGlyphs">20</text>
<text x="808.00" y="326.93" font-size="13.50" font-weight="400" fill="#000" textLength="16.20" lengthAdjust="spacingAndGlyphs">25</text>
<text x="808.00" y="259.55" font-size="13.50" font-weight="400" fill="#000" textLength="16.20" lengthAdjust="spacingAndGlyphs">30</text>
<text x="808.00" y="192.18" font-size="13.50" font-weight="400" fill="#000" textLength="16.20" lengthAdjust="spacingAndGlyphs">35</text>
<text x="808.00" y="124.80" font-size="13.50" font-weight="400" fill="#000" textLength="16.20" lengthAdjust="spacingAndGlyphs">40</text></g>
</svg>

</div></body></html>
